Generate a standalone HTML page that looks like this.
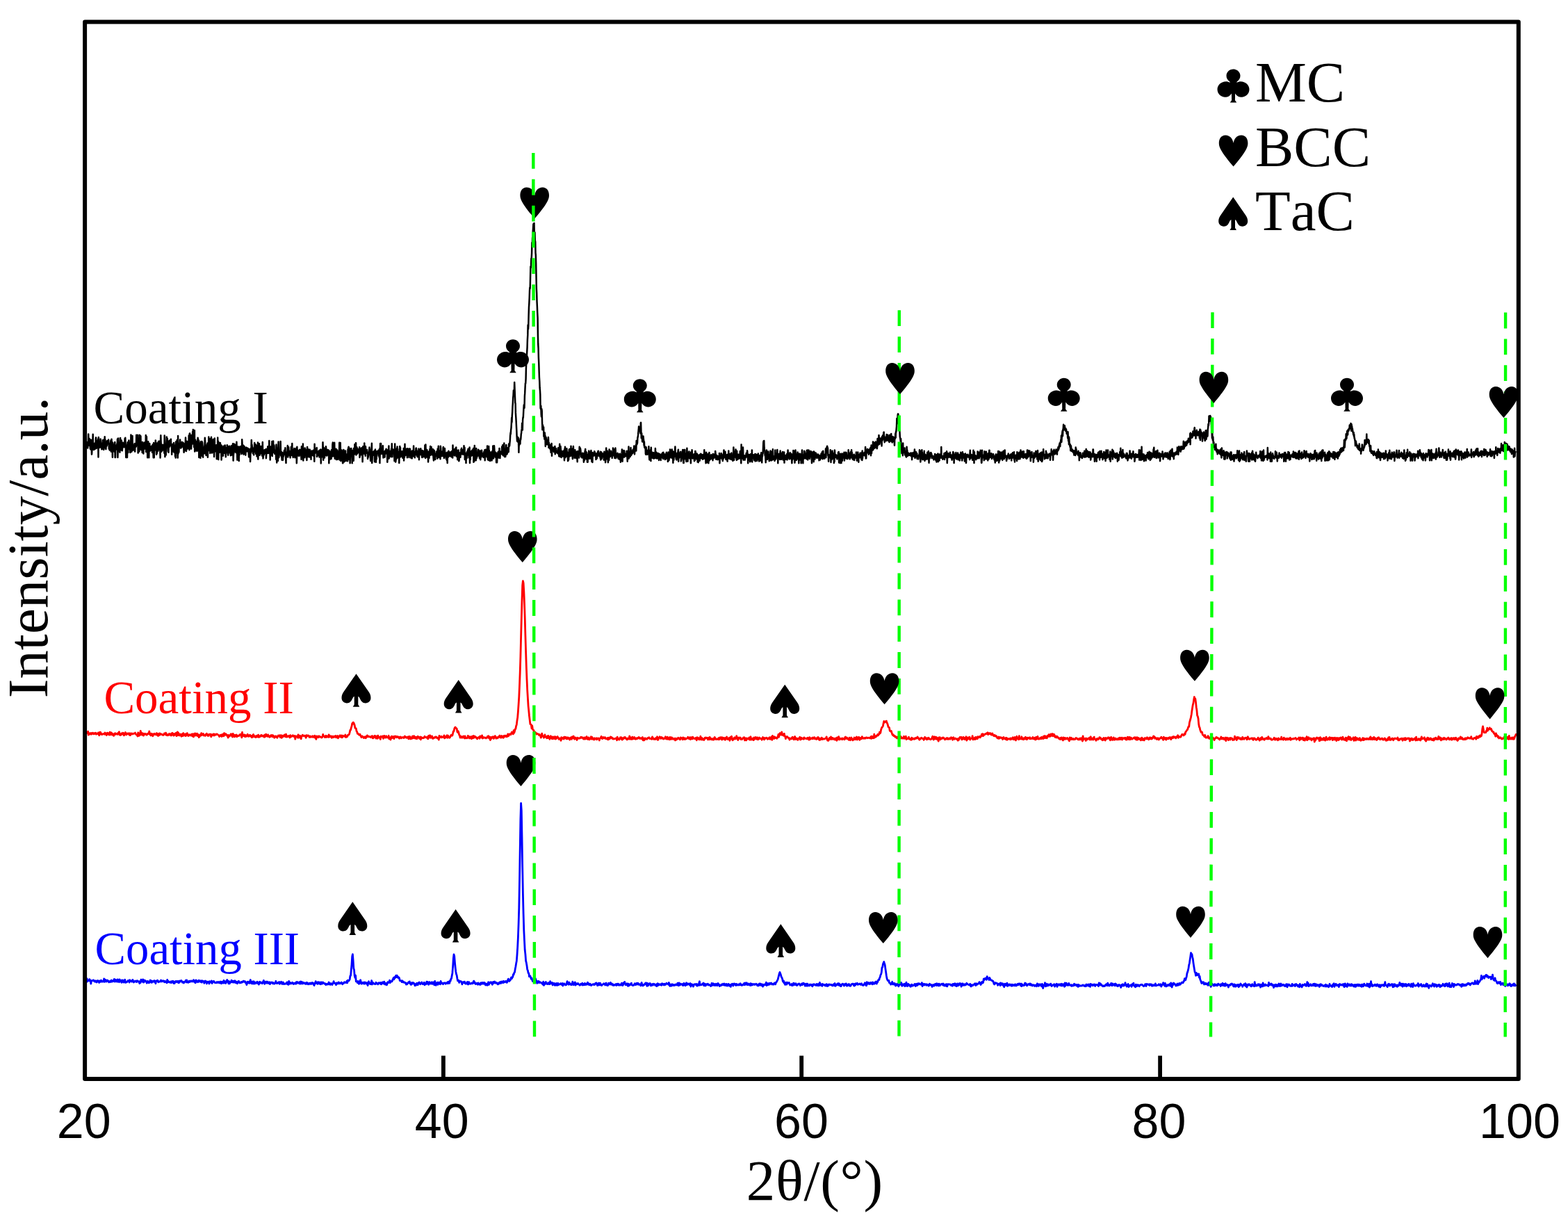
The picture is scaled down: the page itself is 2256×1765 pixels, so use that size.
<!DOCTYPE html>
<html><head><meta charset="utf-8"><title>XRD patterns</title>
<style>html,body{margin:0;padding:0;background:#fff;width:2256px;height:1765px;overflow:hidden}svg{display:block}</style>
</head><body>
<svg width="2256" height="1765" viewBox="0 0 2256 1765">
<rect width="2256" height="1765" fill="#fff"/>
<path d="M124.5 642.4L124.8 635.9L125.2 638.6L125.5 642.7L125.9 636.5L126.2 644.4L126.5 636.0L126.9 636.2L127.2 624.5L127.6 638.9L127.9 640.7L128.2 639.4L128.6 632.4L128.9 631.1L129.3 635.5L129.6 641.3L129.9 645.4L130.3 646.4L130.6 636.9L131.0 632.8L131.3 643.7L131.6 642.5L132.0 653.6L132.3 649.1L132.7 644.9L133.0 636.2L133.3 639.3L133.7 624.7L134.0 646.5L134.4 643.2L134.7 642.6L135.0 647.0L135.4 643.8L135.7 640.6L136.1 642.3L136.4 637.5L136.7 645.9L137.1 637.9L137.4 643.3L137.8 630.4L138.1 629.4L138.4 635.1L138.8 644.9L139.1 639.6L139.5 635.8L139.8 634.4L140.1 641.0L140.5 640.1L140.8 636.6L141.2 631.5L141.5 657.6L141.8 629.1L142.2 639.4L142.5 644.2L142.9 642.8L143.2 640.9L143.5 642.6L143.9 643.4L144.2 642.1L144.6 631.5L144.9 633.1L145.2 638.1L145.6 641.9L145.9 642.0L146.3 646.3L146.6 644.3L146.9 637.7L147.3 640.0L147.6 639.5L148.0 633.1L148.3 639.5L148.6 646.3L149.0 636.4L149.3 646.9L149.7 643.0L150.0 631.9L150.3 635.6L150.7 628.3L151.0 644.1L151.4 632.4L151.7 639.6L152.0 641.1L152.4 646.2L152.7 641.7L153.1 637.6L153.4 635.7L153.7 641.5L154.1 634.3L154.4 636.3L154.8 638.5L155.1 633.7L155.4 638.5L155.8 637.2L156.1 632.6L156.5 638.1L156.8 645.6L157.1 638.1L157.5 639.1L157.8 647.6L158.2 642.3L158.5 641.4L158.8 640.5L159.2 636.0L159.5 633.5L159.9 649.6L160.2 635.3L160.5 631.8L160.9 639.5L161.2 641.6L161.6 645.1L161.9 657.8L162.2 636.7L162.6 639.0L162.9 642.1L163.3 646.5L163.6 645.5L163.9 640.2L164.3 645.6L164.6 649.8L165.0 641.7L165.3 635.9L165.6 657.9L166.0 657.9L166.3 643.5L166.7 644.4L167.0 641.5L167.3 640.5L167.7 646.4L168.0 646.1L168.4 638.3L168.7 643.3L169.0 631.4L169.4 657.9L169.7 646.1L170.1 630.4L170.4 637.3L170.7 638.8L171.1 640.8L171.4 644.6L171.8 649.3L172.1 643.0L172.4 650.6L172.8 638.7L173.1 629.9L173.5 639.2L173.8 645.8L174.1 641.9L174.5 647.5L174.8 633.6L175.2 642.2L175.5 645.6L175.8 648.3L176.2 643.1L176.5 640.6L176.9 636.7L177.2 642.8L177.5 642.9L177.9 640.6L178.2 643.2L178.6 640.5L178.9 642.3L179.2 642.9L179.6 631.0L179.9 638.2L180.3 629.7L180.6 638.0L180.9 644.9L181.3 658.0L181.6 641.1L182.0 649.3L182.3 650.5L182.6 658.0L183.0 658.0L183.3 639.3L183.7 636.3L184.0 646.3L184.3 651.1L184.7 641.5L185.0 636.0L185.4 633.4L185.7 636.1L186.0 645.8L186.4 643.8L186.7 645.8L187.1 642.8L187.4 651.0L187.7 642.9L188.1 646.7L188.4 625.6L188.8 643.1L189.1 648.0L189.4 649.7L189.8 636.2L190.1 639.5L190.5 627.0L190.8 647.8L191.1 638.3L191.5 642.0L191.8 641.7L192.2 640.6L192.5 642.0L192.8 647.5L193.2 645.2L193.5 646.9L193.9 638.1L194.2 649.6L194.5 640.9L194.9 640.2L195.2 638.8L195.6 642.6L195.9 642.0L196.2 625.7L196.6 639.9L196.9 635.9L197.3 638.9L197.6 640.2L197.9 635.4L198.3 625.8L198.6 651.6L199.0 641.5L199.3 645.8L199.6 649.7L200.0 637.8L200.3 649.4L200.7 636.2L201.0 625.8L201.3 643.7L201.7 646.6L202.0 629.5L202.4 627.3L202.7 644.2L203.0 635.8L203.4 647.2L203.7 639.0L204.1 643.5L204.4 644.8L204.7 650.9L205.1 636.1L205.4 645.2L205.8 644.1L206.1 638.8L206.4 652.4L206.8 637.5L207.1 646.2L207.5 643.6L207.8 636.6L208.1 644.5L208.5 644.7L208.8 643.4L209.2 643.4L209.5 645.9L209.8 625.9L210.2 649.9L210.5 640.8L210.9 628.1L211.2 641.3L211.5 647.9L211.9 636.4L212.2 658.3L212.6 642.2L212.9 638.3L213.2 635.2L213.6 641.8L213.9 643.1L214.3 658.3L214.6 639.8L214.9 640.3L215.3 638.1L215.6 646.8L216.0 648.6L216.3 646.2L216.6 644.2L217.0 647.8L217.3 644.4L217.7 643.1L218.0 641.7L218.3 646.8L218.7 642.2L219.0 650.7L219.4 642.4L219.7 639.6L220.0 645.4L220.4 650.1L220.7 658.3L221.1 637.1L221.4 644.4L221.7 658.3L222.1 643.6L222.4 648.2L222.8 640.3L223.1 638.4L223.4 646.5L223.8 633.4L224.1 637.4L224.5 645.2L224.8 640.0L225.1 653.7L225.5 638.7L225.8 652.3L226.2 637.5L226.5 640.7L226.8 641.1L227.2 649.1L227.5 640.9L227.9 635.2L228.2 642.7L228.5 635.0L228.9 634.6L229.2 644.4L229.6 647.3L229.9 638.6L230.2 645.0L230.6 658.4L230.9 638.2L231.3 626.3L231.6 635.8L231.9 640.6L232.3 649.7L232.6 645.6L233.0 645.0L233.3 646.7L233.6 648.3L234.0 639.8L234.3 646.2L234.7 640.0L235.0 641.9L235.3 643.1L235.7 644.7L236.0 641.2L236.4 651.8L236.7 626.4L237.0 640.8L237.4 657.1L237.7 645.2L238.1 642.7L238.4 649.3L238.7 654.8L239.1 644.8L239.4 639.0L239.8 628.4L240.1 643.7L240.4 637.9L240.8 630.7L241.1 643.1L241.5 640.3L241.8 649.5L242.1 634.5L242.5 650.8L242.8 638.2L243.2 642.5L243.5 643.1L243.8 640.9L244.2 633.5L244.5 638.6L244.9 640.7L245.2 641.1L245.5 637.6L245.9 631.8L246.2 640.9L246.6 640.5L246.9 641.8L247.2 653.7L247.6 643.5L247.9 641.2L248.3 638.9L248.6 649.4L248.9 645.6L249.3 639.9L249.6 645.7L250.0 637.0L250.3 642.9L250.6 650.7L251.0 645.1L251.3 645.7L251.7 640.8L252.0 656.4L252.3 648.8L252.7 658.5L253.0 635.6L253.4 638.9L253.7 645.4L254.0 640.9L254.4 637.9L254.7 633.0L255.1 652.2L255.4 651.1L255.7 658.5L256.1 626.9L256.4 652.6L256.8 638.8L257.1 641.9L257.4 650.4L257.8 639.8L258.1 639.1L258.5 637.5L258.8 640.3L259.1 632.5L259.5 643.1L259.8 644.3L260.2 644.6L260.5 643.9L260.8 638.5L261.2 643.4L261.5 636.9L261.9 635.8L262.2 639.4L262.5 637.6L262.9 641.5L263.2 641.6L263.6 636.7L263.9 644.2L264.2 643.2L264.6 650.8L264.9 648.5L265.3 638.5L265.6 648.6L265.9 642.5L266.3 641.7L266.6 646.7L267.0 629.5L267.3 636.3L267.6 639.6L268.0 648.9L268.3 634.4L268.7 646.7L269.0 640.4L269.3 643.3L269.7 635.2L270.0 644.8L270.4 645.1L270.7 637.7L271.0 640.5L271.4 642.9L271.7 626.4L272.1 643.5L272.4 647.2L272.7 623.8L273.1 623.4L273.4 645.3L273.8 639.9L274.1 637.1L274.4 643.9L274.8 626.0L275.1 645.6L275.5 638.3L275.8 634.5L276.1 638.9L276.5 635.5L276.8 629.3L277.2 620.9L277.5 634.2L277.8 618.1L278.2 638.4L278.5 627.8L278.9 636.2L279.2 643.2L279.5 621.4L279.9 619.1L280.2 649.4L280.6 635.3L280.9 632.4L281.2 633.1L281.6 648.3L281.9 637.8L282.3 639.8L282.6 635.6L282.9 642.9L283.3 641.6L283.6 648.7L284.0 637.3L284.3 634.1L284.6 629.8L285.0 632.3L285.3 646.8L285.7 637.0L286.0 633.4L286.3 658.1L286.7 650.8L287.0 643.9L287.4 638.7L287.7 648.1L288.0 647.3L288.4 658.7L288.7 635.6L289.1 643.3L289.4 635.4L289.7 641.9L290.1 646.4L290.4 634.9L290.8 655.8L291.1 636.3L291.4 639.5L291.8 646.6L292.1 657.7L292.5 644.1L292.8 650.6L293.1 648.5L293.5 649.9L293.8 652.3L294.2 641.4L294.5 641.1L294.8 629.8L295.2 634.8L295.5 652.6L295.9 641.9L296.2 644.2L296.5 654.9L296.9 642.3L297.2 643.3L297.6 646.4L297.9 639.6L298.2 642.2L298.6 637.4L298.9 657.8L299.3 641.8L299.6 644.5L299.9 642.9L300.3 628.6L300.6 646.5L301.0 648.0L301.3 643.5L301.6 642.7L302.0 631.3L302.3 651.9L302.7 648.8L303.0 640.5L303.3 642.3L303.7 639.9L304.0 628.8L304.4 641.2L304.7 640.1L305.0 651.6L305.4 647.8L305.7 648.2L306.1 650.2L306.4 642.4L306.7 632.0L307.1 634.3L307.4 644.6L307.8 647.3L308.1 656.9L308.4 637.0L308.8 630.5L309.1 649.6L309.5 641.7L309.8 645.7L310.1 644.1L310.5 643.3L310.8 647.3L311.2 640.3L311.5 647.4L311.8 660.2L312.2 647.6L312.5 642.1L312.9 649.4L313.2 629.6L313.5 650.3L313.9 634.7L314.2 661.1L314.6 650.0L314.9 636.4L315.2 646.4L315.6 645.2L315.9 650.8L316.3 644.3L316.6 645.4L316.9 637.0L317.3 644.9L317.6 641.1L318.0 640.1L318.3 651.4L318.6 661.4L319.0 641.1L319.3 645.4L319.7 647.2L320.0 642.5L320.3 645.2L320.7 652.4L321.0 655.8L321.4 645.1L321.7 650.8L322.0 645.0L322.4 641.3L322.7 645.6L323.1 651.8L323.4 648.0L323.7 640.6L324.1 648.2L324.4 643.9L324.8 657.2L325.1 645.2L325.4 644.2L325.8 648.7L326.1 645.1L326.5 649.9L326.8 640.3L327.1 651.0L327.5 642.1L327.8 652.3L328.2 654.7L328.5 644.3L328.8 642.8L329.2 646.4L329.5 645.7L329.9 641.7L330.2 651.2L330.5 648.9L330.9 651.0L331.2 646.7L331.6 652.3L331.9 655.3L332.2 648.7L332.6 641.4L332.9 643.6L333.3 647.1L333.6 654.4L333.9 641.1L334.3 642.8L334.6 645.4L335.0 638.3L335.3 644.7L335.6 662.6L336.0 653.2L336.3 652.5L336.7 638.5L337.0 649.2L337.3 644.6L337.7 639.3L338.0 641.4L338.4 649.9L338.7 649.8L339.0 645.9L339.4 650.4L339.7 651.1L340.1 649.2L340.4 635.8L340.7 644.9L341.1 651.3L341.4 661.6L341.8 648.9L342.1 650.4L342.4 657.6L342.8 642.4L343.1 647.2L343.5 646.5L343.8 663.1L344.1 645.8L344.5 654.1L344.8 642.8L345.2 650.0L345.5 643.1L345.8 645.2L346.2 647.5L346.5 642.0L346.9 643.2L347.2 650.7L347.5 653.1L347.9 651.7L348.2 632.3L348.6 639.3L348.9 651.4L349.2 649.4L349.6 650.7L349.9 649.2L350.3 640.7L350.6 653.7L350.9 650.1L351.3 646.8L351.6 642.3L352.0 646.2L352.3 644.9L352.6 648.4L353.0 651.7L353.3 654.7L353.7 648.3L354.0 644.9L354.3 643.6L354.7 646.7L355.0 645.5L355.4 644.5L355.7 649.2L356.0 647.6L356.4 644.8L356.7 648.1L357.1 645.3L357.4 645.7L357.7 652.4L358.1 657.4L358.4 649.0L358.8 652.8L359.1 650.4L359.4 646.1L359.8 653.6L360.1 664.0L360.5 649.1L360.8 651.7L361.1 647.3L361.5 642.9L361.8 632.9L362.2 643.7L362.5 639.7L362.8 643.2L363.2 649.5L363.5 647.8L363.9 652.4L364.2 645.8L364.5 651.9L364.9 651.1L365.2 654.4L365.6 643.4L365.9 649.4L366.2 636.9L366.6 646.9L366.9 646.5L367.3 650.0L367.6 649.4L367.9 639.4L368.3 653.0L368.6 640.8L369.0 649.6L369.3 645.4L369.6 656.5L370.0 651.5L370.3 641.1L370.7 649.9L371.0 636.5L371.3 660.6L371.7 651.7L372.0 646.1L372.4 652.5L372.7 643.4L373.0 638.3L373.4 648.7L373.7 654.8L374.1 642.5L374.4 646.3L374.7 652.6L375.1 648.7L375.4 641.9L375.8 647.5L376.1 651.2L376.4 649.5L376.8 648.8L377.1 655.5L377.5 647.3L377.8 636.1L378.1 649.2L378.5 659.4L378.8 656.1L379.2 653.6L379.5 654.5L379.8 654.0L380.2 647.4L380.5 647.3L380.9 651.7L381.2 652.0L381.5 649.7L381.9 648.6L382.2 647.8L382.6 645.9L382.9 659.3L383.2 654.0L383.6 652.7L383.9 650.0L384.3 649.0L384.6 645.6L384.9 647.0L385.3 642.3L385.6 651.7L386.0 647.7L386.3 651.9L386.6 647.0L387.0 651.2L387.3 634.1L387.7 647.0L388.0 651.8L388.3 647.7L388.7 661.4L389.0 645.0L389.4 647.2L389.7 642.6L390.0 653.8L390.4 654.5L390.7 649.1L391.1 645.5L391.4 635.1L391.7 656.1L392.1 642.3L392.4 643.6L392.8 650.7L393.1 634.4L393.4 648.0L393.8 646.0L394.1 640.1L394.5 641.4L394.8 651.3L395.1 652.8L395.5 648.8L395.8 650.4L396.2 647.9L396.5 648.8L396.8 648.5L397.2 660.7L397.5 639.5L397.9 646.2L398.2 665.4L398.5 654.4L398.9 646.3L399.2 655.3L399.6 647.9L399.9 663.0L400.2 647.7L400.6 635.6L400.9 647.9L401.3 658.2L401.6 655.7L401.9 648.7L402.3 651.6L402.6 652.4L403.0 648.9L403.3 652.0L403.6 634.9L404.0 650.4L404.3 655.4L404.7 649.7L405.0 656.8L405.3 657.1L405.7 661.8L406.0 650.9L406.4 653.7L406.7 656.3L407.0 661.9L407.4 651.5L407.7 656.6L408.1 655.0L408.4 651.2L408.7 649.9L409.1 647.8L409.4 653.6L409.8 653.5L410.1 652.8L410.4 644.2L410.8 653.0L411.1 658.1L411.5 666.0L411.8 650.4L412.1 657.4L412.5 656.3L412.8 651.5L413.2 650.6L413.5 649.2L413.8 641.1L414.2 657.5L414.5 655.3L414.9 647.3L415.2 643.2L415.5 648.4L415.9 649.9L416.2 652.9L416.6 649.0L416.9 655.1L417.2 653.5L417.6 658.5L417.9 651.9L418.3 652.8L418.6 650.6L418.9 642.7L419.3 646.4L419.6 653.4L420.0 654.9L420.3 637.9L420.6 650.7L421.0 647.4L421.3 655.2L421.7 658.0L422.0 647.6L422.3 655.1L422.7 649.7L423.0 650.7L423.4 644.9L423.7 647.1L424.0 653.2L424.4 658.3L424.7 649.7L425.1 646.1L425.4 647.2L425.7 650.6L426.1 648.6L426.4 644.5L426.8 666.3L427.1 658.8L427.4 642.7L427.8 654.2L428.1 653.3L428.5 655.5L428.8 647.9L429.1 647.9L429.5 650.6L429.8 649.8L430.2 654.8L430.5 655.9L430.8 651.0L431.2 646.8L431.5 654.1L431.9 648.5L432.2 652.6L432.5 652.7L432.9 647.0L433.2 654.7L433.6 660.8L433.9 642.3L434.2 647.3L434.6 648.8L434.9 647.5L435.3 657.7L435.6 656.7L435.9 638.4L436.3 662.4L436.6 645.6L437.0 651.2L437.3 658.7L437.6 652.2L438.0 657.9L438.3 651.5L438.7 644.5L439.0 650.2L439.3 646.6L439.7 653.5L440.0 653.3L440.4 648.3L440.7 658.6L441.0 651.4L441.4 662.0L441.7 648.7L442.1 642.9L442.4 647.1L442.7 657.2L443.1 656.9L443.4 652.3L443.8 646.6L444.1 654.3L444.4 648.9L444.8 647.8L445.1 657.5L445.5 657.2L445.8 646.8L446.1 652.2L446.5 653.0L446.8 654.0L447.2 651.6L447.5 660.8L447.8 648.9L448.2 650.1L448.5 648.6L448.9 650.2L449.2 654.8L449.5 653.1L449.9 649.0L450.2 653.0L450.6 655.6L450.9 647.8L451.2 649.7L451.6 653.7L451.9 653.2L452.3 663.7L452.6 638.7L452.9 652.5L453.3 650.9L453.6 646.9L454.0 649.9L454.3 645.7L454.6 648.6L455.0 651.4L455.3 651.6L455.7 644.1L456.0 657.0L456.3 651.0L456.7 655.8L457.0 649.6L457.4 653.9L457.7 654.7L458.0 650.6L458.4 654.8L458.7 648.5L459.1 648.4L459.4 657.5L459.7 647.7L460.1 654.1L460.4 652.2L460.8 649.2L461.1 650.8L461.4 646.6L461.8 666.4L462.1 647.3L462.5 649.6L462.8 653.9L463.1 652.2L463.5 657.2L463.8 649.1L464.2 646.5L464.5 636.3L464.8 644.8L465.2 661.7L465.5 649.5L465.9 645.1L466.2 644.1L466.5 652.2L466.9 658.6L467.2 656.3L467.6 652.9L467.9 655.2L468.2 649.5L468.6 650.6L468.9 642.2L469.3 645.5L469.6 653.3L469.9 648.0L470.3 655.6L470.6 654.0L471.0 654.4L471.3 647.0L471.6 652.7L472.0 650.1L472.3 653.3L472.7 647.4L473.0 652.0L473.3 666.3L473.7 652.2L474.0 660.8L474.4 648.9L474.7 660.7L475.0 651.1L475.4 656.7L475.7 653.2L476.1 654.8L476.4 654.5L476.7 659.9L477.1 646.9L477.4 651.7L477.8 650.1L478.1 656.4L478.4 639.4L478.8 636.6L479.1 650.5L479.5 645.3L479.8 646.6L480.1 647.4L480.5 656.5L480.8 654.8L481.2 636.8L481.5 653.1L481.8 659.8L482.2 646.3L482.5 651.3L482.9 655.3L483.2 653.8L483.5 645.8L483.9 661.1L484.2 651.0L484.6 649.0L484.9 648.7L485.2 647.5L485.6 649.9L485.9 649.6L486.3 660.9L486.6 655.8L486.9 650.5L487.3 654.4L487.6 650.4L488.0 652.4L488.3 636.8L488.6 650.7L489.0 661.7L489.3 658.6L489.7 636.9L490.0 651.0L490.3 663.0L490.7 648.9L491.0 655.3L491.4 662.0L491.7 647.5L492.0 654.1L492.4 650.1L492.7 660.3L493.1 666.3L493.4 666.3L493.7 659.0L494.1 652.3L494.4 647.1L494.8 648.9L495.1 650.4L495.4 664.3L495.8 661.6L496.1 656.2L496.5 648.8L496.8 655.2L497.1 648.4L497.5 662.7L497.8 656.1L498.2 654.7L498.5 654.0L498.8 653.7L499.2 663.0L499.5 656.7L499.9 658.3L500.2 663.2L500.5 646.5L500.9 652.7L501.2 644.1L501.6 642.8L501.9 660.7L502.2 656.7L502.6 644.5L502.9 652.3L503.3 647.6L503.6 666.2L503.9 654.7L504.3 654.5L504.6 646.2L505.0 652.1L505.3 645.0L505.6 654.4L506.0 647.9L506.3 655.7L506.7 666.2L507.0 653.7L507.3 648.1L507.7 651.5L508.0 653.3L508.4 651.1L508.7 662.8L509.0 645.0L509.4 650.9L509.7 653.7L510.1 650.9L510.4 639.2L510.7 643.1L511.1 648.4L511.4 650.5L511.8 637.3L512.1 637.3L512.4 654.5L512.8 652.7L513.1 652.7L513.5 643.5L513.8 645.3L514.1 652.7L514.5 649.1L514.8 648.3L515.2 649.6L515.5 646.2L515.8 646.5L516.2 650.5L516.5 647.7L516.9 652.0L517.2 643.2L517.5 657.9L517.9 655.0L518.2 647.9L518.6 645.7L518.9 654.0L519.2 645.1L519.6 650.2L519.9 649.5L520.3 654.5L520.6 644.3L520.9 650.8L521.3 649.3L521.6 664.3L522.0 650.0L522.3 642.2L522.6 651.9L523.0 649.9L523.3 652.6L523.7 649.7L524.0 647.0L524.3 637.5L524.7 649.4L525.0 653.3L525.4 648.0L525.7 655.7L526.0 642.3L526.4 652.1L526.7 649.6L527.1 650.4L527.4 647.4L527.7 651.7L528.1 646.9L528.4 652.3L528.8 650.2L529.1 659.9L529.4 652.9L529.8 657.8L530.1 650.9L530.5 652.4L530.8 654.0L531.1 650.2L531.5 643.5L531.8 653.9L532.2 649.0L532.5 650.6L532.8 656.4L533.2 662.9L533.5 652.5L533.9 652.8L534.2 645.7L534.5 650.7L534.9 637.8L535.2 666.1L535.6 660.4L535.9 650.1L536.2 652.2L536.6 654.9L536.9 652.1L537.3 653.8L537.6 649.5L537.9 652.3L538.3 652.5L538.6 648.5L539.0 664.3L539.3 651.8L539.6 648.6L540.0 646.5L540.3 653.4L540.7 649.9L541.0 664.7L541.3 654.5L541.7 660.5L542.0 649.2L542.4 649.2L542.7 652.6L543.0 650.1L543.4 649.9L543.7 650.8L544.1 649.3L544.4 647.8L544.7 655.6L545.1 653.8L545.4 653.7L545.8 658.4L546.1 645.5L546.4 666.1L546.8 648.5L547.1 638.0L547.5 646.8L547.8 645.3L548.1 638.0L548.5 651.7L548.8 653.1L549.2 650.4L549.5 649.4L549.8 650.4L550.2 651.3L550.5 652.3L550.9 641.3L551.2 652.0L551.5 658.4L551.9 653.6L552.2 650.8L552.6 650.0L552.9 657.7L553.2 653.4L553.6 657.6L553.9 648.8L554.3 650.6L554.6 652.7L554.9 650.9L555.3 647.0L555.6 645.8L556.0 648.9L556.3 652.2L556.6 647.0L557.0 652.6L557.3 664.8L557.7 660.4L558.0 659.2L558.3 651.3L558.7 654.7L559.0 647.5L559.4 641.6L559.7 659.5L560.0 652.7L560.4 648.8L560.7 653.2L561.1 655.2L561.4 651.6L561.7 649.0L562.1 654.1L562.4 657.2L562.8 650.3L563.1 645.6L563.4 656.5L563.8 638.3L564.1 651.8L564.5 657.3L564.8 650.6L565.1 649.3L565.5 646.6L565.8 648.9L566.2 650.8L566.5 649.7L566.8 652.1L567.2 651.8L567.5 663.1L567.9 649.5L568.2 638.4L568.5 659.0L568.9 656.3L569.2 664.6L569.6 661.6L569.9 658.6L570.2 655.3L570.6 650.7L570.9 645.0L571.3 659.3L571.6 642.4L571.9 653.5L572.3 657.9L572.6 653.1L573.0 650.0L573.3 651.7L573.6 654.2L574.0 653.6L574.3 666.0L574.7 646.1L575.0 650.3L575.3 642.0L575.7 657.4L576.0 644.1L576.4 657.3L576.7 652.8L577.0 650.8L577.4 650.8L577.7 651.2L578.1 655.9L578.4 649.3L578.7 651.2L579.1 655.7L579.4 658.8L579.8 650.4L580.1 655.5L580.4 653.7L580.8 644.9L581.1 662.5L581.5 652.6L581.8 658.1L582.1 656.2L582.5 638.7L582.8 649.9L583.2 651.7L583.5 650.9L583.8 654.7L584.2 650.4L584.5 653.5L584.9 645.7L585.2 652.2L585.5 646.1L585.9 658.2L586.2 645.3L586.6 647.5L586.9 645.7L587.2 651.5L587.6 654.6L587.9 650.8L588.3 649.7L588.6 657.9L588.9 645.4L589.3 654.0L589.6 650.2L590.0 645.7L590.3 651.5L590.6 649.1L591.0 651.8L591.3 658.6L591.7 650.7L592.0 649.5L592.3 655.2L592.7 659.4L593.0 648.4L593.4 654.6L593.7 654.1L594.0 652.5L594.4 656.3L594.7 656.0L595.1 641.4L595.4 650.2L595.7 655.4L596.1 652.9L596.4 657.4L596.8 658.3L597.1 653.8L597.4 649.8L597.8 652.8L598.1 651.4L598.5 644.7L598.8 644.6L599.1 646.0L599.5 654.4L599.8 652.5L600.2 656.4L600.5 649.0L600.8 657.3L601.2 650.0L601.5 655.6L601.9 653.0L602.2 656.1L602.5 645.6L602.9 661.2L603.2 653.5L603.6 654.7L603.9 647.6L604.2 650.3L604.6 651.8L604.9 650.4L605.3 645.3L605.6 648.1L605.9 653.9L606.3 650.7L606.6 653.8L607.0 655.9L607.3 658.1L607.6 648.0L608.0 648.2L608.3 652.1L608.7 653.3L609.0 650.7L609.3 657.0L609.7 653.0L610.0 656.1L610.4 648.7L610.7 657.0L611.0 656.8L611.4 640.5L611.7 652.3L612.1 659.0L612.4 639.4L612.7 651.9L613.1 646.5L613.4 657.6L613.8 656.5L614.1 654.7L614.4 647.2L614.8 653.6L615.1 655.5L615.5 658.5L615.8 655.7L616.1 664.4L616.5 649.7L616.8 653.5L617.2 659.3L617.5 658.4L617.8 652.3L618.2 650.2L618.5 645.9L618.9 654.5L619.2 641.9L619.5 654.7L619.9 648.8L620.2 653.0L620.6 643.1L620.9 651.5L621.2 652.6L621.6 654.2L621.9 648.0L622.3 653.5L622.6 646.7L622.9 646.1L623.3 654.2L623.6 658.7L624.0 662.5L624.3 653.3L624.6 647.7L625.0 654.1L625.3 649.4L625.7 657.6L626.0 653.7L626.3 660.9L626.7 653.5L627.0 653.0L627.4 656.0L627.7 652.5L628.0 653.9L628.4 649.3L628.7 654.5L629.1 652.4L629.4 659.6L629.7 645.5L630.1 652.7L630.4 652.3L630.8 641.7L631.1 656.6L631.4 651.2L631.8 657.8L632.1 652.2L632.5 648.4L632.8 655.8L633.1 655.4L633.5 660.3L633.8 641.8L634.2 645.6L634.5 654.2L634.8 656.5L635.2 655.2L635.5 655.8L635.9 649.7L636.2 651.8L636.5 655.7L636.9 650.0L637.2 656.0L637.6 644.1L637.9 642.9L638.2 648.7L638.6 651.2L638.9 658.9L639.3 653.8L639.6 652.4L639.9 645.1L640.3 654.3L640.6 653.9L641.0 654.2L641.3 651.5L641.6 657.8L642.0 660.3L642.3 653.0L642.7 660.9L643.0 662.1L643.3 650.7L643.7 666.0L644.0 652.6L644.4 650.7L644.7 657.8L645.0 652.9L645.4 648.8L645.7 653.1L646.1 656.5L646.4 653.3L646.7 655.6L647.1 655.5L647.4 650.5L647.8 655.8L648.1 656.0L648.4 651.9L648.8 650.2L649.1 656.7L649.5 657.2L649.8 655.8L650.1 649.1L650.5 651.1L650.8 651.6L651.2 658.4L651.5 640.4L651.8 649.3L652.2 654.2L652.5 645.9L652.9 646.6L653.2 652.2L653.5 650.6L653.9 655.4L654.2 654.9L654.6 651.5L654.9 653.1L655.2 644.8L655.6 648.7L655.9 651.3L656.3 643.5L656.6 656.5L656.9 652.5L657.3 650.3L657.6 647.7L658.0 653.7L658.3 661.3L658.6 648.9L659.0 648.3L659.3 653.9L659.7 647.6L660.0 652.3L660.3 663.3L660.7 661.3L661.0 652.9L661.4 651.4L661.7 653.0L662.0 655.2L662.4 657.8L662.7 654.4L663.1 653.8L663.4 646.4L663.7 652.0L664.1 644.7L664.4 652.7L664.8 650.5L665.1 647.1L665.4 653.5L665.8 653.5L666.1 651.2L666.5 648.3L666.8 650.7L667.1 651.7L667.5 641.3L667.8 654.0L668.2 651.4L668.5 643.8L668.8 660.9L669.2 654.9L669.5 660.2L669.9 653.0L670.2 653.2L670.5 666.0L670.9 651.7L671.2 655.8L671.6 659.3L671.9 650.0L672.2 649.9L672.6 650.1L672.9 648.1L673.3 654.6L673.6 645.7L673.9 653.8L674.3 651.9L674.6 658.2L675.0 653.7L675.3 650.1L675.6 643.5L676.0 665.9L676.3 649.9L676.7 661.2L677.0 651.4L677.3 649.4L677.7 656.1L678.0 649.4L678.4 654.5L678.7 650.0L679.0 648.1L679.4 647.6L679.7 655.1L680.1 648.8L680.4 651.6L680.7 648.3L681.1 644.9L681.4 664.8L681.8 659.3L682.1 649.9L682.4 663.6L682.8 641.1L683.1 653.6L683.5 650.0L683.8 655.5L684.1 656.3L684.5 646.6L684.8 662.3L685.2 645.1L685.5 649.7L685.8 659.3L686.2 652.1L686.5 656.8L686.9 651.0L687.2 654.8L687.5 651.9L687.9 653.3L688.2 646.7L688.6 647.9L688.9 655.6L689.2 653.0L689.6 652.0L689.9 659.0L690.3 652.5L690.6 657.9L690.9 648.4L691.3 661.3L691.6 654.9L692.0 658.2L692.3 657.2L692.6 653.2L693.0 647.7L693.3 651.1L693.7 651.8L694.0 654.6L694.3 656.1L694.7 654.4L695.0 652.6L695.4 657.9L695.7 656.2L696.0 656.7L696.4 649.9L696.7 649.4L697.1 649.0L697.4 647.3L697.7 662.3L698.1 651.9L698.4 649.7L698.8 646.8L699.1 653.6L699.4 656.6L699.8 652.5L700.1 650.4L700.5 654.6L700.8 657.7L701.1 641.4L701.5 651.9L701.8 661.0L702.2 642.6L702.5 649.4L702.8 662.1L703.2 642.1L703.5 652.5L703.9 648.1L704.2 652.4L704.5 654.1L704.9 652.6L705.2 663.1L705.6 661.2L705.9 650.5L706.2 654.4L706.6 651.4L706.9 653.5L707.3 658.5L707.6 662.4L707.9 659.2L708.3 648.9L708.6 657.8L709.0 655.7L709.3 641.4L709.6 651.8L710.0 659.5L710.3 650.7L710.7 654.5L711.0 641.3L711.3 645.5L711.7 652.8L712.0 650.0L712.4 652.1L712.7 657.6L713.0 655.0L713.4 650.9L713.7 652.0L714.1 665.3L714.4 652.5L714.7 655.2L715.1 665.3L715.4 657.8L715.8 658.9L716.1 655.7L716.4 651.1L716.8 649.8L717.1 656.0L717.5 649.9L717.8 651.2L718.1 658.6L718.5 644.9L718.8 649.7L719.2 649.7L719.5 658.9L719.8 649.6L720.2 653.6L720.5 650.2L720.9 651.9L721.2 652.0L721.5 652.7L721.9 652.2L722.2 642.6L722.6 649.2L722.9 654.0L723.2 640.3L723.6 645.5L723.9 655.3L724.3 654.9L724.6 650.6L724.9 653.7L725.3 637.6L725.6 646.9L726.0 657.0L726.3 651.2L726.6 649.2L727.0 652.0L727.3 657.0L727.7 649.8L728.0 647.2L728.3 640.0L728.7 650.0L729.0 651.4L729.4 653.5L729.7 652.3L730.0 650.9L730.4 644.2L730.7 644.2L731.1 647.0L731.4 644.6L731.7 650.2L732.1 638.4L732.4 642.5L732.8 639.6L733.1 641.3L733.4 637.7L733.8 633.6L734.1 627.4L734.5 622.6L734.8 624.5L735.1 618.8L735.5 615.6L735.8 610.4L736.2 601.0L736.5 607.4L736.8 597.8L737.2 592.3L737.5 584.6L737.9 579.3L738.2 571.8L738.5 569.2L738.9 561.6L739.2 567.8L739.6 562.6L739.9 562.5L740.2 550.1L740.6 561.1L740.9 568.6L741.3 579.9L741.6 580.1L741.9 593.9L742.3 600.0L742.6 605.2L743.0 613.7L743.3 619.4L743.6 627.7L744.0 634.0L744.3 634.9L744.7 632.3L745.0 635.6L745.3 628.9L745.7 630.7L746.0 634.7L746.4 650.8L746.7 638.9L747.0 640.9L747.4 634.6L747.7 638.4L748.1 633.5L748.4 638.6L748.7 630.7L749.1 632.5L749.4 630.0L749.8 624.2L750.1 623.1L750.4 618.9L750.8 616.9L751.1 608.8L751.5 610.4L751.8 618.5L752.1 604.6L752.5 600.2L752.8 600.8L753.2 592.2L753.5 587.0L753.8 582.4L754.2 582.2L754.5 586.7L754.9 569.5L755.2 565.9L755.5 559.1L755.9 551.4L756.2 551.8L756.6 544.6L756.9 530.5L757.2 522.4L757.6 517.6L757.9 511.5L758.3 504.8L758.6 499.2L758.9 488.9L759.3 481.9L759.6 467.6L760.0 473.5L760.3 468.2L760.6 454.2L761.0 441.5L761.3 437.4L761.7 428.2L762.0 418.7L762.3 413.7L762.7 415.0L763.0 401.8L763.4 383.4L763.7 385.5L764.0 381.9L764.4 371.8L764.7 371.4L765.1 363.8L765.4 349.1L765.7 355.4L766.1 341.8L766.4 344.4L766.8 332.4L767.1 327.7L767.4 322.2L767.8 337.5L768.1 334.9L768.5 321.1L768.8 338.4L769.1 334.2L769.5 334.3L769.8 345.6L770.2 348.0L770.5 363.8L770.8 366.5L771.2 378.5L771.5 396.1L771.9 415.8L772.2 421.6L772.5 433.1L772.9 441.5L773.2 449.4L773.6 457.1L773.9 480.4L774.2 494.2L774.6 500.8L774.9 514.4L775.3 523.0L775.6 533.5L775.9 542.3L776.3 548.6L776.6 557.7L777.0 562.2L777.3 567.8L777.6 586.9L778.0 588.3L778.3 583.8L778.7 595.8L779.0 599.4L779.3 588.2L779.7 591.0L780.0 605.3L780.4 618.2L780.7 612.2L781.0 611.4L781.4 617.3L781.7 615.4L782.1 614.3L782.4 627.6L782.7 624.3L783.1 625.8L783.4 631.6L783.8 622.5L784.1 629.2L784.4 626.6L784.8 641.9L785.1 634.1L785.5 628.8L785.8 630.4L786.1 637.3L786.5 636.6L786.8 639.3L787.2 638.6L787.5 633.2L787.8 637.0L788.2 639.4L788.5 632.8L788.9 629.0L789.2 635.5L789.5 643.9L789.9 637.1L790.2 642.6L790.6 642.1L790.9 644.9L791.2 639.9L791.6 642.2L791.9 646.7L792.3 640.1L792.6 650.7L792.9 642.2L793.3 644.6L793.6 638.0L794.0 655.7L794.3 646.4L794.6 647.1L795.0 644.3L795.3 643.6L795.7 648.6L796.0 648.5L796.3 644.4L796.7 643.9L797.0 650.1L797.4 644.0L797.7 644.8L798.0 645.4L798.4 642.1L798.7 653.3L799.1 648.8L799.4 647.3L799.7 645.7L800.1 645.1L800.4 648.7L800.8 649.3L801.1 651.3L801.4 649.0L801.8 649.7L802.1 649.6L802.5 652.2L802.8 652.0L803.1 644.2L803.5 650.2L803.8 648.1L804.2 656.2L804.5 652.7L804.8 652.4L805.2 638.8L805.5 656.7L805.9 649.3L806.2 648.0L806.5 642.1L806.9 646.9L807.2 650.0L807.6 657.9L807.9 648.8L808.2 653.4L808.6 655.6L808.9 650.8L809.3 649.2L809.6 651.3L809.9 656.5L810.3 652.4L810.6 653.4L811.0 648.5L811.3 652.4L811.6 653.0L812.0 662.3L812.3 646.1L812.7 653.2L813.0 642.8L813.3 658.2L813.7 647.7L814.0 652.2L814.4 656.8L814.7 654.5L815.0 650.5L815.4 645.3L815.7 652.8L816.1 650.2L816.4 651.6L816.7 654.4L817.1 663.1L817.4 653.2L817.8 654.1L818.1 661.6L818.4 655.3L818.8 646.7L819.1 655.6L819.5 646.0L819.8 650.2L820.1 656.2L820.5 647.9L820.8 655.4L821.2 655.6L821.5 641.7L821.8 655.2L822.2 651.5L822.5 654.0L822.9 646.3L823.2 650.3L823.5 656.0L823.9 660.2L824.2 644.9L824.6 649.8L824.9 642.1L825.2 654.0L825.6 650.9L825.9 651.5L826.3 650.4L826.6 658.7L826.9 648.8L827.3 647.2L827.6 648.7L828.0 650.4L828.3 656.9L828.6 658.7L829.0 656.3L829.3 649.8L829.7 654.9L830.0 659.3L830.3 658.0L830.7 664.2L831.0 649.3L831.4 650.1L831.7 654.0L832.0 652.0L832.4 649.0L832.7 653.8L833.1 658.6L833.4 651.9L833.7 642.8L834.1 647.5L834.4 652.6L834.8 644.6L835.1 645.9L835.4 647.8L835.8 653.0L836.1 657.2L836.5 652.9L836.8 654.9L837.1 654.9L837.5 658.5L837.8 654.5L838.2 651.8L838.5 655.1L838.8 655.3L839.2 656.9L839.5 654.6L839.9 664.7L840.2 658.2L840.5 652.1L840.9 662.1L841.2 656.4L841.6 648.8L841.9 659.8L842.2 645.9L842.6 655.4L842.9 652.3L843.3 656.9L843.6 650.3L843.9 660.5L844.3 654.6L844.6 655.1L845.0 664.8L845.3 655.5L845.6 664.8L846.0 653.7L846.3 655.5L846.7 651.0L847.0 652.1L847.3 648.5L847.7 659.6L848.0 656.7L848.4 656.0L848.7 659.9L849.0 650.4L849.4 653.9L849.7 655.6L850.1 653.8L850.4 648.0L850.7 653.7L851.1 657.2L851.4 663.8L851.8 657.5L852.1 651.1L852.4 665.0L852.8 652.1L853.1 654.1L853.5 654.4L853.8 652.7L854.1 654.8L854.5 651.1L854.8 655.5L855.2 649.2L855.5 651.9L855.8 650.3L856.2 653.9L856.5 655.3L856.9 655.7L857.2 654.9L857.5 660.9L857.9 652.5L858.2 654.0L858.6 659.6L858.9 658.4L859.2 654.5L859.6 651.3L859.9 655.9L860.3 649.7L860.6 648.8L860.9 648.7L861.3 652.8L861.6 655.1L862.0 655.3L862.3 656.2L862.6 655.9L863.0 651.9L863.3 652.9L863.7 658.8L864.0 649.8L864.3 661.4L864.7 660.0L865.0 660.4L865.4 650.5L865.7 659.6L866.0 652.7L866.4 653.4L866.7 652.2L867.1 656.7L867.4 657.1L867.7 654.1L868.1 657.5L868.4 654.8L868.8 661.6L869.1 651.9L869.4 649.7L869.8 653.1L870.1 660.6L870.5 658.9L870.8 658.4L871.1 665.2L871.5 657.1L871.8 654.0L872.2 644.5L872.5 651.8L872.8 660.3L873.2 660.1L873.5 657.4L873.9 648.8L874.2 657.9L874.5 658.2L874.9 665.2L875.2 657.2L875.6 660.8L875.9 652.6L876.2 662.0L876.6 646.5L876.9 657.7L877.3 651.3L877.6 657.1L877.9 654.0L878.3 654.0L878.6 654.1L879.0 648.8L879.3 650.7L879.6 654.0L880.0 656.2L880.3 652.4L880.7 659.0L881.0 652.5L881.3 652.2L881.7 651.7L882.0 644.5L882.4 655.0L882.7 652.2L883.0 646.3L883.4 655.6L883.7 653.1L884.1 656.3L884.4 659.0L884.7 655.2L885.1 651.8L885.4 644.5L885.8 649.9L886.1 659.2L886.4 653.9L886.8 653.6L887.1 654.4L887.5 657.2L887.8 655.3L888.1 653.1L888.5 651.8L888.8 655.6L889.2 652.7L889.5 659.6L889.8 658.0L890.2 653.4L890.5 654.6L890.9 660.6L891.2 657.2L891.5 655.7L891.9 652.8L892.2 656.0L892.6 658.2L892.9 664.8L893.2 661.7L893.6 654.1L893.9 659.4L894.3 658.7L894.6 652.4L894.9 646.5L895.3 661.5L895.6 663.7L896.0 651.9L896.3 656.5L896.6 656.0L897.0 655.5L897.3 648.1L897.7 650.3L898.0 657.6L898.3 648.5L898.7 654.7L899.0 655.3L899.4 656.5L899.7 653.9L900.0 653.0L900.4 653.1L900.7 654.1L901.1 653.9L901.4 656.0L901.7 648.8L902.1 652.0L902.4 657.8L902.8 663.7L903.1 654.0L903.4 648.7L903.8 657.9L904.1 652.0L904.5 642.6L904.8 659.4L905.1 651.4L905.5 657.6L905.8 654.9L906.2 650.4L906.5 650.2L906.8 656.9L907.2 649.7L907.5 644.1L907.9 653.1L908.2 654.8L908.5 649.9L908.9 653.6L909.2 652.8L909.6 652.5L909.9 648.4L910.2 651.9L910.6 647.0L910.9 647.5L911.3 646.9L911.6 645.4L911.9 647.8L912.3 641.6L912.6 648.0L913.0 653.5L913.3 648.7L913.6 645.6L914.0 642.7L914.3 642.1L914.7 644.3L915.0 640.1L915.3 648.5L915.7 634.1L916.0 635.2L916.4 639.4L916.7 636.3L917.0 637.8L917.4 629.1L917.7 628.8L918.1 625.7L918.4 621.5L918.7 619.0L919.1 613.4L919.4 619.9L919.8 617.9L920.1 619.7L920.4 619.5L920.8 615.7L921.1 620.3L921.5 623.4L921.8 608.4L922.1 607.9L922.5 622.0L922.8 630.1L923.2 623.3L923.5 627.7L923.8 630.1L924.2 635.5L924.5 632.8L924.9 629.1L925.2 631.8L925.5 627.5L925.9 631.3L926.2 634.0L926.6 640.6L926.9 635.4L927.2 643.4L927.6 643.0L927.9 644.4L928.3 643.9L928.6 642.8L928.9 652.9L929.3 653.9L929.6 643.2L930.0 647.0L930.3 650.7L930.6 652.8L931.0 647.8L931.3 653.8L931.7 650.3L932.0 653.0L932.3 649.3L932.7 653.0L933.0 649.7L933.4 642.2L933.7 651.1L934.0 656.4L934.4 661.5L934.7 657.9L935.1 648.8L935.4 654.9L935.7 656.1L936.1 647.2L936.4 663.1L936.8 643.8L937.1 655.6L937.4 650.0L937.8 654.9L938.1 651.8L938.5 651.3L938.8 658.7L939.1 650.9L939.5 656.2L939.8 654.7L940.2 651.2L940.5 654.3L940.8 659.7L941.2 653.9L941.5 651.7L941.9 659.1L942.2 655.5L942.5 658.8L942.9 645.1L943.2 657.1L943.6 650.1L943.9 650.8L944.2 659.2L944.6 651.1L944.9 657.1L945.3 654.1L945.6 659.5L945.9 654.9L946.3 652.7L946.6 658.2L947.0 651.9L947.3 652.4L947.6 655.3L948.0 661.9L948.3 655.0L948.7 654.6L949.0 653.0L949.3 655.3L949.7 656.3L950.0 659.9L950.4 655.1L950.7 662.0L951.0 653.9L951.4 655.9L951.7 653.9L952.1 657.9L952.4 652.7L952.7 658.2L953.1 651.6L953.4 653.1L953.8 651.7L954.1 660.0L954.4 650.8L954.8 653.5L955.1 652.9L955.5 654.9L955.8 657.5L956.1 653.5L956.5 659.1L956.8 661.1L957.2 658.1L957.5 657.4L957.8 660.5L958.2 656.0L958.5 652.4L958.9 650.7L959.2 659.3L959.5 653.4L959.9 655.4L960.2 654.9L960.6 653.5L960.9 663.9L961.2 657.3L961.6 650.6L961.9 656.0L962.3 658.2L962.6 662.2L962.9 651.7L963.3 656.7L963.6 658.7L964.0 646.5L964.3 651.2L964.6 649.5L965.0 656.0L965.3 658.1L965.7 655.3L966.0 656.4L966.3 651.5L966.7 646.6L967.0 658.9L967.4 649.3L967.7 656.5L968.0 649.0L968.4 665.7L968.7 649.7L969.1 655.0L969.4 661.7L969.7 652.1L970.1 657.3L970.4 650.9L970.8 656.1L971.1 648.3L971.4 642.5L971.8 655.0L972.1 654.6L972.5 657.6L972.8 660.4L973.1 658.4L973.5 661.6L973.8 651.9L974.2 657.1L974.5 657.9L974.8 655.9L975.2 659.0L975.5 648.9L975.9 646.8L976.2 663.8L976.5 651.5L976.9 658.9L977.2 652.1L977.6 656.4L977.9 654.6L978.2 657.6L978.6 652.6L978.9 650.0L979.3 652.6L979.6 649.8L979.9 663.4L980.3 660.5L980.6 657.2L981.0 654.4L981.3 658.2L981.6 657.5L982.0 658.0L982.3 646.9L982.7 657.5L983.0 661.4L983.3 666.0L983.7 666.0L984.0 657.4L984.4 647.0L984.7 652.9L985.0 659.3L985.4 647.0L985.7 659.9L986.1 652.2L986.4 657.4L986.7 656.4L987.1 660.8L987.4 663.9L987.8 662.3L988.1 657.0L988.4 644.8L988.8 655.4L989.1 658.4L989.5 663.7L989.8 657.5L990.1 657.4L990.5 650.6L990.8 657.6L991.2 654.8L991.5 649.4L991.8 654.8L992.2 659.4L992.5 658.7L992.9 656.1L993.2 657.8L993.5 654.4L993.9 666.2L994.2 650.6L994.6 658.9L994.9 653.3L995.2 655.2L995.6 647.2L995.9 652.4L996.3 653.6L996.6 659.4L996.9 655.5L997.3 655.9L997.6 657.9L998.0 655.8L998.3 656.2L998.6 653.3L999.0 663.2L999.3 655.3L999.7 654.6L1000.0 661.9L1000.3 648.9L1000.7 649.4L1001.0 654.3L1001.4 657.6L1001.7 657.2L1002.0 660.2L1002.4 654.3L1002.7 652.6L1003.1 655.4L1003.4 653.6L1003.7 664.6L1004.1 660.8L1004.4 660.1L1004.8 665.2L1005.1 656.8L1005.4 654.7L1005.8 661.9L1006.1 655.7L1006.5 661.9L1006.8 662.7L1007.1 653.7L1007.5 656.2L1007.8 657.4L1008.2 652.8L1008.5 658.1L1008.8 653.2L1009.2 659.3L1009.5 655.7L1009.9 658.8L1010.2 657.1L1010.5 657.8L1010.9 660.7L1011.2 653.9L1011.6 660.5L1011.9 657.0L1012.2 654.2L1012.6 657.5L1012.9 659.7L1013.3 647.3L1013.6 657.1L1013.9 658.2L1014.3 657.6L1014.6 653.3L1015.0 655.6L1015.3 662.5L1015.6 666.3L1016.0 650.7L1016.3 651.0L1016.7 654.2L1017.0 655.4L1017.3 658.2L1017.7 665.3L1018.0 656.3L1018.4 654.2L1018.7 653.2L1019.0 656.3L1019.4 666.3L1019.7 656.3L1020.1 657.7L1020.4 650.9L1020.7 662.4L1021.1 657.4L1021.4 660.5L1021.8 659.9L1022.1 656.6L1022.4 660.4L1022.8 658.4L1023.1 654.3L1023.5 657.3L1023.8 659.0L1024.1 658.3L1024.5 659.8L1024.8 654.8L1025.2 654.7L1025.5 662.3L1025.8 652.9L1026.2 653.2L1026.5 655.5L1026.9 657.1L1027.2 659.0L1027.5 655.9L1027.9 653.4L1028.2 654.9L1028.6 655.7L1028.9 657.9L1029.2 648.9L1029.6 652.5L1029.9 656.8L1030.3 660.8L1030.6 655.5L1030.9 656.0L1031.3 655.0L1031.6 656.5L1032.0 657.1L1032.3 656.4L1032.6 661.3L1033.0 659.8L1033.3 659.8L1033.7 659.3L1034.0 655.9L1034.3 659.0L1034.7 660.6L1035.0 651.9L1035.4 666.3L1035.7 659.9L1036.0 658.1L1036.4 658.5L1036.7 655.2L1037.1 659.0L1037.4 658.8L1037.7 652.0L1038.1 655.5L1038.4 653.2L1038.8 655.2L1039.1 661.0L1039.4 659.9L1039.8 663.1L1040.1 654.7L1040.5 660.5L1040.8 658.2L1041.1 654.4L1041.5 647.4L1041.8 658.4L1042.2 654.1L1042.5 655.8L1042.8 656.2L1043.2 655.2L1043.5 649.7L1043.9 658.2L1044.2 658.8L1044.5 661.1L1044.9 657.3L1045.2 660.2L1045.6 655.9L1045.9 655.1L1046.2 653.9L1046.6 663.6L1046.9 655.1L1047.3 657.1L1047.6 657.8L1047.9 654.9L1048.3 648.6L1048.6 657.0L1049.0 657.7L1049.3 659.9L1049.6 658.1L1050.0 653.0L1050.3 653.1L1050.7 658.6L1051.0 660.6L1051.3 653.4L1051.7 658.9L1052.0 655.7L1052.4 651.5L1052.7 654.9L1053.0 661.1L1053.4 658.4L1053.7 660.8L1054.1 662.1L1054.4 662.9L1054.7 656.4L1055.1 655.2L1055.4 643.6L1055.8 655.8L1056.1 661.8L1056.4 649.3L1056.8 656.0L1057.1 657.6L1057.5 654.3L1057.8 656.8L1058.1 656.3L1058.5 646.4L1058.8 655.3L1059.2 659.1L1059.5 659.1L1059.8 661.9L1060.2 648.8L1060.5 655.6L1060.9 656.2L1061.2 660.0L1061.5 660.7L1061.9 655.5L1062.2 653.7L1062.6 655.3L1062.9 654.5L1063.2 655.9L1063.6 659.6L1063.9 654.1L1064.3 657.6L1064.6 651.8L1064.9 649.0L1065.3 654.8L1065.6 659.4L1066.0 656.0L1066.3 666.3L1066.6 639.6L1067.0 655.8L1067.3 654.9L1067.7 654.1L1068.0 658.6L1068.3 658.5L1068.7 659.7L1069.0 643.4L1069.4 657.2L1069.7 661.7L1070.0 658.6L1070.4 656.3L1070.7 657.2L1071.1 655.2L1071.4 661.4L1071.7 661.7L1072.1 656.3L1072.4 658.9L1072.8 657.8L1073.1 657.5L1073.4 654.2L1073.8 651.7L1074.1 655.7L1074.5 657.3L1074.8 657.1L1075.1 648.3L1075.5 651.9L1075.8 654.0L1076.2 666.3L1076.5 655.4L1076.8 657.8L1077.2 655.3L1077.5 654.0L1077.9 654.2L1078.2 657.2L1078.5 661.6L1078.9 660.0L1079.2 664.3L1079.6 658.7L1079.9 653.3L1080.2 661.3L1080.6 662.9L1080.9 659.2L1081.3 657.7L1081.6 656.7L1081.9 647.4L1082.3 664.4L1082.6 656.8L1083.0 657.7L1083.3 654.3L1083.6 658.8L1084.0 654.3L1084.3 658.4L1084.7 655.2L1085.0 657.7L1085.3 662.0L1085.7 658.0L1086.0 657.4L1086.4 652.9L1086.7 663.5L1087.0 658.5L1087.4 653.6L1087.7 658.9L1088.1 656.8L1088.4 653.9L1088.7 661.2L1089.1 663.0L1089.4 654.7L1089.8 656.2L1090.1 660.8L1090.4 658.1L1090.8 652.6L1091.1 658.3L1091.5 659.4L1091.8 654.9L1092.1 663.4L1092.5 661.7L1092.8 663.2L1093.2 658.2L1093.5 658.7L1093.8 658.8L1094.2 655.7L1094.5 654.0L1094.9 662.4L1095.2 651.3L1095.5 657.0L1095.9 663.1L1096.2 665.4L1096.6 653.7L1096.9 656.7L1097.2 651.2L1097.6 652.5L1097.9 646.6L1098.3 636.6L1098.6 634.5L1098.9 647.7L1099.3 634.0L1099.6 644.0L1100.0 647.5L1100.3 647.9L1100.6 654.9L1101.0 655.5L1101.3 657.2L1101.7 665.3L1102.0 652.5L1102.3 660.7L1102.7 658.5L1103.0 647.6L1103.4 657.3L1103.7 657.7L1104.0 661.0L1104.4 655.1L1104.7 656.0L1105.1 655.8L1105.4 649.5L1105.7 652.9L1106.1 655.8L1106.4 656.7L1106.8 663.2L1107.1 656.8L1107.4 655.7L1107.8 656.5L1108.1 656.0L1108.5 648.5L1108.8 656.4L1109.1 662.3L1109.5 650.8L1109.8 662.4L1110.2 655.9L1110.5 649.7L1110.8 655.1L1111.2 655.7L1111.5 661.5L1111.9 646.3L1112.2 660.9L1112.5 657.0L1112.9 660.3L1113.2 659.1L1113.6 656.6L1113.9 657.0L1114.2 656.4L1114.6 662.9L1114.9 659.8L1115.3 647.5L1115.6 653.7L1115.9 657.2L1116.3 660.4L1116.6 652.6L1117.0 655.8L1117.3 655.2L1117.6 656.8L1118.0 657.8L1118.3 647.1L1118.7 658.6L1119.0 655.5L1119.3 666.2L1119.7 654.7L1120.0 655.0L1120.4 657.4L1120.7 652.9L1121.0 654.6L1121.4 657.2L1121.7 656.2L1122.1 661.0L1122.4 651.5L1122.7 648.6L1123.1 655.9L1123.4 651.3L1123.8 658.1L1124.1 660.8L1124.4 657.6L1124.8 659.1L1125.1 659.6L1125.5 658.2L1125.8 653.9L1126.1 650.0L1126.5 656.1L1126.8 661.6L1127.2 656.1L1127.5 659.6L1127.8 657.4L1128.2 650.6L1128.5 665.6L1128.9 655.7L1129.2 657.3L1129.5 656.8L1129.9 659.5L1130.2 655.1L1130.6 656.0L1130.9 660.7L1131.2 655.6L1131.6 660.6L1131.9 656.5L1132.3 652.7L1132.6 661.5L1132.9 656.1L1133.3 656.8L1133.6 647.5L1134.0 656.9L1134.3 658.4L1134.6 652.6L1135.0 654.5L1135.3 658.4L1135.7 660.4L1136.0 657.5L1136.3 652.7L1136.7 651.1L1137.0 656.2L1137.4 659.5L1137.7 659.6L1138.0 652.5L1138.4 660.0L1138.7 653.1L1139.1 661.8L1139.4 666.2L1139.7 657.9L1140.1 661.7L1140.4 656.2L1140.8 655.8L1141.1 660.0L1141.4 648.1L1141.8 653.9L1142.1 656.4L1142.5 659.7L1142.8 648.9L1143.1 657.9L1143.5 665.8L1143.8 659.6L1144.2 661.3L1144.5 647.6L1144.8 653.3L1145.2 657.3L1145.5 653.3L1145.9 661.9L1146.2 657.3L1146.5 659.9L1146.9 657.5L1147.2 660.0L1147.6 650.4L1147.9 656.7L1148.2 660.0L1148.6 652.6L1148.9 657.1L1149.3 666.2L1149.6 653.9L1149.9 656.1L1150.3 652.8L1150.6 659.3L1151.0 661.6L1151.3 652.9L1151.6 657.5L1152.0 659.8L1152.3 655.5L1152.7 666.2L1153.0 655.5L1153.3 655.1L1153.7 654.5L1154.0 647.6L1154.4 658.8L1154.7 657.6L1155.0 658.3L1155.4 666.2L1155.7 654.7L1156.1 657.5L1156.4 656.2L1156.7 659.8L1157.1 648.7L1157.4 655.4L1157.8 649.8L1158.1 652.8L1158.4 655.7L1158.8 659.3L1159.1 652.5L1159.5 656.0L1159.8 655.9L1160.1 653.2L1160.5 660.2L1160.8 647.9L1161.2 656.0L1161.5 647.5L1161.8 658.6L1162.2 661.4L1162.5 654.5L1162.9 659.2L1163.2 656.0L1163.5 647.4L1163.9 656.5L1164.2 654.4L1164.6 656.6L1164.9 659.9L1165.2 649.2L1165.6 655.3L1165.9 653.6L1166.3 657.0L1166.6 649.1L1166.9 652.8L1167.3 656.6L1167.6 656.8L1168.0 666.1L1168.3 650.4L1168.6 657.8L1169.0 658.6L1169.3 657.6L1169.7 657.7L1170.0 651.5L1170.3 649.7L1170.7 664.2L1171.0 649.4L1171.4 655.3L1171.7 658.6L1172.0 650.8L1172.4 660.6L1172.7 653.2L1173.1 658.4L1173.4 656.3L1173.7 651.5L1174.1 652.5L1174.4 654.3L1174.8 653.6L1175.1 658.2L1175.4 658.9L1175.8 656.5L1176.1 658.6L1176.5 655.6L1176.8 653.6L1177.1 658.2L1177.5 658.1L1177.8 654.8L1178.2 657.9L1178.5 662.3L1178.8 655.0L1179.2 655.1L1179.5 661.7L1179.9 661.4L1180.2 660.5L1180.5 658.0L1180.9 656.7L1181.2 655.3L1181.6 652.5L1181.9 658.9L1182.2 657.2L1182.6 658.0L1182.9 650.0L1183.3 651.8L1183.6 660.3L1183.9 659.0L1184.3 648.8L1184.6 654.1L1185.0 658.9L1185.3 657.8L1185.6 655.4L1186.0 654.6L1186.3 659.7L1186.7 657.9L1187.0 657.9L1187.3 653.2L1187.7 657.2L1188.0 645.4L1188.4 658.1L1188.7 651.6L1189.0 650.0L1189.4 643.6L1189.7 645.9L1190.1 641.7L1190.4 645.2L1190.7 643.4L1191.1 645.8L1191.4 655.4L1191.8 654.1L1192.1 663.8L1192.4 656.1L1192.8 654.5L1193.1 656.9L1193.5 657.4L1193.8 658.2L1194.1 655.6L1194.5 657.4L1194.8 647.3L1195.2 658.0L1195.5 665.0L1195.8 654.3L1196.2 652.5L1196.5 661.2L1196.9 660.2L1197.2 652.8L1197.5 648.5L1197.9 653.0L1198.2 659.5L1198.6 656.6L1198.9 652.0L1199.2 655.4L1199.6 653.1L1199.9 666.0L1200.3 657.8L1200.6 664.1L1200.9 647.5L1201.3 653.2L1201.6 657.0L1202.0 657.6L1202.3 654.6L1202.6 654.0L1203.0 655.4L1203.3 656.7L1203.7 658.7L1204.0 658.4L1204.3 660.4L1204.7 655.3L1205.0 654.9L1205.4 656.7L1205.7 657.6L1206.0 650.7L1206.4 656.8L1206.7 650.1L1207.1 665.5L1207.4 655.2L1207.7 657.1L1208.1 659.6L1208.4 659.3L1208.8 666.0L1209.1 652.8L1209.4 656.9L1209.8 655.9L1210.1 655.4L1210.5 666.0L1210.8 656.6L1211.1 657.7L1211.5 652.5L1211.8 663.0L1212.2 656.1L1212.5 653.4L1212.8 657.6L1213.2 658.4L1213.5 653.1L1213.9 652.9L1214.2 653.1L1214.5 650.7L1214.9 662.4L1215.2 654.0L1215.6 657.8L1215.9 659.3L1216.2 656.1L1216.6 650.7L1216.9 652.6L1217.3 657.7L1217.6 651.1L1217.9 654.4L1218.3 659.9L1218.6 659.0L1219.0 657.9L1219.3 657.6L1219.6 660.0L1220.0 657.0L1220.3 658.4L1220.7 647.3L1221.0 657.6L1221.3 655.6L1221.7 655.0L1222.0 652.3L1222.4 657.0L1222.7 660.4L1223.0 656.9L1223.4 658.4L1223.7 650.7L1224.1 649.9L1224.4 658.2L1224.7 654.0L1225.1 647.2L1225.4 657.4L1225.8 650.8L1226.1 653.9L1226.4 659.9L1226.8 659.7L1227.1 655.0L1227.5 661.2L1227.8 654.8L1228.1 656.8L1228.5 654.5L1228.8 653.7L1229.2 661.9L1229.5 656.7L1229.8 659.2L1230.2 657.3L1230.5 657.7L1230.9 657.5L1231.2 655.3L1231.5 658.5L1231.9 650.5L1232.2 655.8L1232.6 654.2L1232.9 662.6L1233.2 651.7L1233.6 652.9L1233.9 659.5L1234.3 650.6L1234.6 654.5L1234.9 654.1L1235.3 664.7L1235.6 653.9L1236.0 657.1L1236.3 657.3L1236.6 658.3L1237.0 656.5L1237.3 653.2L1237.7 651.6L1238.0 652.9L1238.3 655.9L1238.7 658.7L1239.0 652.7L1239.4 661.0L1239.7 654.9L1240.0 650.7L1240.4 662.0L1240.7 648.4L1241.1 659.4L1241.4 651.6L1241.7 655.6L1242.1 653.6L1242.4 652.8L1242.8 651.8L1243.1 653.0L1243.4 651.3L1243.8 655.3L1244.1 650.5L1244.5 650.3L1244.8 650.6L1245.1 643.0L1245.5 652.4L1245.8 659.5L1246.2 659.4L1246.5 651.2L1246.8 651.9L1247.2 649.3L1247.5 649.4L1247.9 646.1L1248.2 651.2L1248.5 649.8L1248.9 647.0L1249.2 651.7L1249.6 647.3L1249.9 653.7L1250.2 650.2L1250.6 646.5L1250.9 647.4L1251.3 649.6L1251.6 652.1L1251.9 646.2L1252.3 644.3L1252.6 644.2L1253.0 655.2L1253.3 643.9L1253.6 640.5L1254.0 652.2L1254.3 646.8L1254.7 644.9L1255.0 643.7L1255.3 643.2L1255.7 647.6L1256.0 635.6L1256.4 646.8L1256.7 642.6L1257.0 636.2L1257.4 643.6L1257.7 636.9L1258.1 640.6L1258.4 644.7L1258.7 640.4L1259.1 642.6L1259.4 638.5L1259.8 635.4L1260.1 639.4L1260.4 643.8L1260.8 640.5L1261.1 640.3L1261.5 636.8L1261.8 645.2L1262.1 643.1L1262.5 631.1L1262.8 636.4L1263.2 633.4L1263.5 640.2L1263.8 637.8L1264.2 631.8L1264.5 626.1L1264.9 631.1L1265.2 635.9L1265.5 638.9L1265.9 635.8L1266.2 633.3L1266.6 634.5L1266.9 630.6L1267.2 634.9L1267.6 632.2L1267.9 634.6L1268.3 632.8L1268.6 641.4L1268.9 628.3L1269.3 634.1L1269.6 633.3L1270.0 626.3L1270.3 629.8L1270.6 631.5L1271.0 627.9L1271.3 622.3L1271.7 621.6L1272.0 628.4L1272.3 627.1L1272.7 636.2L1273.0 632.9L1273.4 629.4L1273.7 632.0L1274.0 631.7L1274.4 628.9L1274.7 631.9L1275.1 634.2L1275.4 630.3L1275.7 624.9L1276.1 632.9L1276.4 632.0L1276.8 632.5L1277.1 625.8L1277.4 631.9L1277.8 634.0L1278.1 633.9L1278.5 629.5L1278.8 633.3L1279.1 632.8L1279.5 636.1L1279.8 625.7L1280.2 631.7L1280.5 628.4L1280.8 630.9L1281.2 634.6L1281.5 632.2L1281.9 634.6L1282.2 623.9L1282.5 632.4L1282.9 628.1L1283.2 634.0L1283.6 636.4L1283.9 635.1L1284.2 633.8L1284.6 628.0L1284.9 633.9L1285.3 629.0L1285.6 632.6L1285.9 635.3L1286.3 629.7L1286.6 632.2L1287.0 640.6L1287.3 628.9L1287.6 631.7L1288.0 629.0L1288.3 623.6L1288.7 629.8L1289.0 620.7L1289.3 621.6L1289.7 616.6L1290.0 613.5L1290.4 601.9L1290.7 609.7L1291.0 601.7L1291.4 602.2L1291.7 596.5L1292.1 595.4L1292.4 595.7L1292.7 607.1L1293.1 604.0L1293.4 606.2L1293.8 613.3L1294.1 618.6L1294.4 619.1L1294.8 628.0L1295.1 629.9L1295.5 632.5L1295.8 636.2L1296.1 630.9L1296.5 638.6L1296.8 643.9L1297.2 644.6L1297.5 652.1L1297.8 643.0L1298.2 642.6L1298.5 645.6L1298.9 655.2L1299.2 637.5L1299.5 649.4L1299.9 650.9L1300.2 645.1L1300.6 650.9L1300.9 649.8L1301.2 648.0L1301.6 644.4L1301.9 653.3L1302.3 654.8L1302.6 649.1L1302.9 650.7L1303.3 651.2L1303.6 657.1L1304.0 657.4L1304.3 655.0L1304.6 642.8L1305.0 652.6L1305.3 647.5L1305.7 654.2L1306.0 656.0L1306.3 651.2L1306.7 651.4L1307.0 653.5L1307.4 654.7L1307.7 652.7L1308.0 654.1L1308.4 654.9L1308.7 653.5L1309.1 652.4L1309.4 654.5L1309.7 652.6L1310.1 655.4L1310.4 651.4L1310.8 652.4L1311.1 655.0L1311.4 656.5L1311.8 655.1L1312.1 661.2L1312.5 651.6L1312.8 654.1L1313.1 655.6L1313.5 656.4L1313.8 653.5L1314.2 654.2L1314.5 651.1L1314.8 655.3L1315.2 656.7L1315.5 652.0L1315.9 646.5L1316.2 653.9L1316.5 658.9L1316.9 654.5L1317.2 650.3L1317.6 657.3L1317.9 650.0L1318.2 651.7L1318.6 653.6L1318.9 653.3L1319.3 652.2L1319.6 659.9L1319.9 656.8L1320.3 655.3L1320.6 660.0L1321.0 658.3L1321.3 660.4L1321.6 656.1L1322.0 655.9L1322.3 654.3L1322.7 655.2L1323.0 647.3L1323.3 651.5L1323.7 651.3L1324.0 657.0L1324.4 664.4L1324.7 658.5L1325.0 648.7L1325.4 656.1L1325.7 659.4L1326.1 658.2L1326.4 647.3L1326.7 656.5L1327.1 651.0L1327.4 661.2L1327.8 655.4L1328.1 654.3L1328.4 656.2L1328.8 657.2L1329.1 658.8L1329.5 660.9L1329.8 648.8L1330.1 658.8L1330.5 662.9L1330.8 655.1L1331.2 653.6L1331.5 657.0L1331.8 656.2L1332.2 659.0L1332.5 660.8L1332.9 655.6L1333.2 654.5L1333.5 657.1L1333.9 659.8L1334.2 650.7L1334.6 658.8L1334.9 660.4L1335.2 660.5L1335.6 657.8L1335.9 649.1L1336.3 661.3L1336.6 665.7L1336.9 652.1L1337.3 651.8L1337.6 659.7L1338.0 655.0L1338.3 651.8L1338.6 655.0L1339.0 656.5L1339.3 650.9L1339.7 651.5L1340.0 655.2L1340.3 652.9L1340.7 659.1L1341.0 656.8L1341.4 656.6L1341.7 655.9L1342.0 655.8L1342.4 656.2L1342.7 659.5L1343.1 658.8L1343.4 661.4L1343.7 658.8L1344.1 659.3L1344.4 659.8L1344.8 656.2L1345.1 653.1L1345.4 657.9L1345.8 660.9L1346.1 658.5L1346.5 662.3L1346.8 654.0L1347.1 661.9L1347.5 664.6L1347.8 658.5L1348.2 656.3L1348.5 654.9L1348.8 655.9L1349.2 653.1L1349.5 652.5L1349.9 664.1L1350.2 654.4L1350.5 662.8L1350.9 654.5L1351.2 656.3L1351.6 662.4L1351.9 653.6L1352.2 659.2L1352.6 658.1L1352.9 655.9L1353.3 655.6L1353.6 656.7L1353.9 658.5L1354.3 643.1L1354.6 657.0L1355.0 655.4L1355.3 659.0L1355.6 656.0L1356.0 659.6L1356.3 660.8L1356.7 660.0L1357.0 656.1L1357.3 659.2L1357.7 656.0L1358.0 657.8L1358.4 652.3L1358.7 658.6L1359.0 661.0L1359.4 654.8L1359.7 656.0L1360.1 651.2L1360.4 654.3L1360.7 651.4L1361.1 656.5L1361.4 658.0L1361.8 655.0L1362.1 649.2L1362.4 656.5L1362.8 665.9L1363.1 655.6L1363.5 657.1L1363.8 654.4L1364.1 652.1L1364.5 658.1L1364.8 656.5L1365.2 655.4L1365.5 655.8L1365.8 654.5L1366.2 657.0L1366.5 654.2L1366.9 650.8L1367.2 657.9L1367.5 655.3L1367.9 654.7L1368.2 658.2L1368.6 654.6L1368.9 656.6L1369.2 657.5L1369.6 661.7L1369.9 654.9L1370.3 658.6L1370.6 657.0L1370.9 653.2L1371.3 650.1L1371.6 652.4L1372.0 659.8L1372.3 651.6L1372.6 665.9L1373.0 653.8L1373.3 657.2L1373.7 654.6L1374.0 658.8L1374.3 657.5L1374.7 656.4L1375.0 656.1L1375.4 651.1L1375.7 656.1L1376.0 660.4L1376.4 655.3L1376.7 657.3L1377.1 657.9L1377.4 654.8L1377.7 658.4L1378.1 651.6L1378.4 661.3L1378.8 657.7L1379.1 657.2L1379.4 653.8L1379.8 654.2L1380.1 657.0L1380.5 660.9L1380.8 662.4L1381.1 655.9L1381.5 659.1L1381.8 657.4L1382.2 650.8L1382.5 657.6L1382.8 651.5L1383.2 651.9L1383.5 658.0L1383.9 659.0L1384.2 662.6L1384.5 660.4L1384.9 650.3L1385.2 657.6L1385.6 658.2L1385.9 657.9L1386.2 657.1L1386.6 653.1L1386.9 657.6L1387.3 659.4L1387.6 655.5L1387.9 663.4L1388.3 657.7L1388.6 656.6L1389.0 652.6L1389.3 660.2L1389.6 654.1L1390.0 665.9L1390.3 660.5L1390.7 654.6L1391.0 656.0L1391.3 657.5L1391.7 655.2L1392.0 657.4L1392.4 653.7L1392.7 655.9L1393.0 656.3L1393.4 655.4L1393.7 657.7L1394.1 655.3L1394.4 656.5L1394.7 657.2L1395.1 661.2L1395.4 654.3L1395.8 647.8L1396.1 654.5L1396.4 659.4L1396.8 654.6L1397.1 655.8L1397.5 654.0L1397.8 655.1L1398.1 654.2L1398.5 658.5L1398.8 656.8L1399.2 661.8L1399.5 657.2L1399.8 659.6L1400.2 657.4L1400.5 647.8L1400.9 658.7L1401.2 656.9L1401.5 665.9L1401.9 650.3L1402.2 658.1L1402.6 655.4L1402.9 657.2L1403.2 658.4L1403.6 655.2L1403.9 657.7L1404.3 661.3L1404.6 656.2L1404.9 658.5L1405.3 657.5L1405.6 656.1L1406.0 657.5L1406.3 659.4L1406.6 649.4L1407.0 657.1L1407.3 655.4L1407.7 656.8L1408.0 651.2L1408.3 657.9L1408.7 659.3L1409.0 650.5L1409.4 655.7L1409.7 650.5L1410.0 652.9L1410.4 654.2L1410.7 647.7L1411.1 656.7L1411.4 657.4L1411.7 655.8L1412.1 665.8L1412.4 665.5L1412.8 659.6L1413.1 647.7L1413.4 658.7L1413.8 654.4L1414.1 657.4L1414.5 655.8L1414.8 658.0L1415.1 656.1L1415.5 654.5L1415.8 662.2L1416.2 656.7L1416.5 649.2L1416.8 655.5L1417.2 660.6L1417.5 658.4L1417.9 657.4L1418.2 653.3L1418.5 659.4L1418.9 649.8L1419.2 660.3L1419.6 655.8L1419.9 656.7L1420.2 657.1L1420.6 658.0L1420.9 657.4L1421.3 662.4L1421.6 652.3L1421.9 656.1L1422.3 655.5L1422.6 660.4L1423.0 652.2L1423.3 647.8L1423.6 647.7L1424.0 655.7L1424.3 652.1L1424.7 658.1L1425.0 652.9L1425.3 654.3L1425.7 654.2L1426.0 656.0L1426.4 652.2L1426.7 655.3L1427.0 660.0L1427.4 656.2L1427.7 655.4L1428.1 656.7L1428.4 655.6L1428.7 654.0L1429.1 653.1L1429.4 655.1L1429.8 659.1L1430.1 658.2L1430.4 661.1L1430.8 656.2L1431.1 657.4L1431.5 663.1L1431.8 665.6L1432.1 657.5L1432.5 655.3L1432.8 653.5L1433.2 660.6L1433.5 656.4L1433.8 655.4L1434.2 662.9L1434.5 653.8L1434.9 654.1L1435.2 662.0L1435.5 657.8L1435.9 658.7L1436.2 649.0L1436.6 659.6L1436.9 657.0L1437.2 665.5L1437.6 649.6L1437.9 657.3L1438.3 662.6L1438.6 659.2L1438.9 653.6L1439.3 650.8L1439.6 658.6L1440.0 659.9L1440.3 651.0L1440.6 654.3L1441.0 655.3L1441.3 657.8L1441.7 650.5L1442.0 655.2L1442.3 662.0L1442.7 654.7L1443.0 654.8L1443.4 658.9L1443.7 648.7L1444.0 654.7L1444.4 656.8L1444.7 660.2L1445.1 656.7L1445.4 658.0L1445.7 647.5L1446.1 656.9L1446.4 655.9L1446.8 656.9L1447.1 655.4L1447.4 657.4L1447.8 658.9L1448.1 663.1L1448.5 656.5L1448.8 658.1L1449.1 660.5L1449.5 656.2L1449.8 655.0L1450.2 657.1L1450.5 654.3L1450.8 652.5L1451.2 657.7L1451.5 657.4L1451.9 654.5L1452.2 659.9L1452.5 657.1L1452.9 657.0L1453.2 657.7L1453.6 655.5L1453.9 658.8L1454.2 653.7L1454.6 654.5L1454.9 652.9L1455.3 662.5L1455.6 655.2L1455.9 659.3L1456.3 656.3L1456.6 656.5L1457.0 651.2L1457.3 658.6L1457.6 655.1L1458.0 657.5L1458.3 654.3L1458.7 650.8L1459.0 650.2L1459.3 661.7L1459.7 655.5L1460.0 664.4L1460.4 655.6L1460.7 657.4L1461.0 656.9L1461.4 654.7L1461.7 659.6L1462.1 658.0L1462.4 655.2L1462.7 654.5L1463.1 662.9L1463.4 650.2L1463.8 656.1L1464.1 654.5L1464.4 655.2L1464.8 651.9L1465.1 656.6L1465.5 660.5L1465.8 655.2L1466.1 657.0L1466.5 650.7L1466.8 655.8L1467.2 653.5L1467.5 660.3L1467.8 652.5L1468.2 654.7L1468.5 647.4L1468.9 657.6L1469.2 657.4L1469.5 650.2L1469.9 657.6L1470.2 657.4L1470.6 655.7L1470.9 656.1L1471.2 649.6L1471.6 653.2L1471.9 655.5L1472.3 658.8L1472.6 656.6L1472.9 649.3L1473.3 658.2L1473.6 655.0L1474.0 657.6L1474.3 653.9L1474.6 655.4L1475.0 654.1L1475.3 656.7L1475.7 652.9L1476.0 658.3L1476.3 659.2L1476.7 658.2L1477.0 659.8L1477.4 658.4L1477.7 659.0L1478.0 647.5L1478.4 657.3L1478.7 654.4L1479.1 654.8L1479.4 648.1L1479.7 657.2L1480.1 651.3L1480.4 649.8L1480.8 650.2L1481.1 652.2L1481.4 648.5L1481.8 655.3L1482.1 652.8L1482.5 655.7L1482.8 663.1L1483.1 651.2L1483.5 654.2L1483.8 650.9L1484.2 657.9L1484.5 650.1L1484.8 656.2L1485.2 655.1L1485.5 655.7L1485.9 655.3L1486.2 657.3L1486.5 654.9L1486.9 664.7L1487.2 658.5L1487.6 651.5L1487.9 655.1L1488.2 658.8L1488.6 658.1L1488.9 657.5L1489.3 654.4L1489.6 657.3L1489.9 655.2L1490.3 648.9L1490.6 649.2L1491.0 655.0L1491.3 653.0L1491.6 656.3L1492.0 651.1L1492.3 660.4L1492.7 658.5L1493.0 648.1L1493.3 656.3L1493.7 663.7L1494.0 658.6L1494.4 654.9L1494.7 660.5L1495.0 657.7L1495.4 655.1L1495.7 652.7L1496.1 652.3L1496.4 656.0L1496.7 658.5L1497.1 662.3L1497.4 651.3L1497.8 659.2L1498.1 658.5L1498.4 660.9L1498.8 650.5L1499.1 664.0L1499.5 651.3L1499.8 662.5L1500.1 655.9L1500.5 651.4L1500.8 654.8L1501.2 646.3L1501.5 653.4L1501.8 653.2L1502.2 655.7L1502.5 653.7L1502.9 660.3L1503.2 656.2L1503.5 653.9L1503.9 656.9L1504.2 656.2L1504.6 659.1L1504.9 648.7L1505.2 652.0L1505.6 651.8L1505.9 651.5L1506.3 659.1L1506.6 657.4L1506.9 655.8L1507.3 654.5L1507.6 659.3L1508.0 654.4L1508.3 653.6L1508.6 654.7L1509.0 655.7L1509.3 655.7L1509.7 653.1L1510.0 656.3L1510.3 652.6L1510.7 654.1L1511.0 661.8L1511.4 656.0L1511.7 654.5L1512.0 653.1L1512.4 653.7L1512.7 646.3L1513.1 654.2L1513.4 651.9L1513.7 652.8L1514.1 649.5L1514.4 654.8L1514.8 652.4L1515.1 661.7L1515.4 653.8L1515.8 648.1L1516.1 652.2L1516.5 646.8L1516.8 650.4L1517.1 651.1L1517.5 648.5L1517.8 653.4L1518.2 652.3L1518.5 650.5L1518.8 650.5L1519.2 649.8L1519.5 646.6L1519.9 649.0L1520.2 647.3L1520.5 652.5L1520.9 653.6L1521.2 646.7L1521.6 648.9L1521.9 648.5L1522.2 644.9L1522.6 643.0L1522.9 647.3L1523.3 645.0L1523.6 645.3L1523.9 640.2L1524.3 642.4L1524.6 637.4L1525.0 637.6L1525.3 642.2L1525.6 636.1L1526.0 635.8L1526.3 632.8L1526.7 634.1L1527.0 626.5L1527.3 636.0L1527.7 629.6L1528.0 625.3L1528.4 622.0L1528.7 619.7L1529.0 627.2L1529.4 617.6L1529.7 618.0L1530.1 610.7L1530.4 617.3L1530.7 618.5L1531.1 616.8L1531.4 617.2L1531.8 612.2L1532.1 614.5L1532.4 617.9L1532.8 617.5L1533.1 619.8L1533.5 616.6L1533.8 619.1L1534.1 617.8L1534.5 622.2L1534.8 624.0L1535.2 621.4L1535.5 623.1L1535.8 622.7L1536.2 630.1L1536.5 621.2L1536.9 630.7L1537.2 634.4L1537.5 627.9L1537.9 639.2L1538.2 629.3L1538.6 637.2L1538.9 637.8L1539.2 640.1L1539.6 643.1L1539.9 639.4L1540.3 648.3L1540.6 644.0L1540.9 641.2L1541.3 644.3L1541.6 647.0L1542.0 649.0L1542.3 648.7L1542.6 648.4L1543.0 646.7L1543.3 649.5L1543.7 648.9L1544.0 650.7L1544.3 651.3L1544.7 650.0L1545.0 648.3L1545.4 654.6L1545.7 648.6L1546.0 652.0L1546.4 650.3L1546.7 649.3L1547.1 648.4L1547.4 654.9L1547.7 643.6L1548.1 652.3L1548.4 645.9L1548.8 652.2L1549.1 652.7L1549.4 652.1L1549.8 652.4L1550.1 653.0L1550.5 652.9L1550.8 650.2L1551.1 654.9L1551.5 648.8L1551.8 651.8L1552.2 655.2L1552.5 652.8L1552.8 662.3L1553.2 654.7L1553.5 652.1L1553.9 651.3L1554.2 652.4L1554.5 651.4L1554.9 653.8L1555.2 657.7L1555.6 656.0L1555.9 657.9L1556.2 657.8L1556.6 657.9L1556.9 659.1L1557.3 658.2L1557.6 654.8L1557.9 651.7L1558.3 656.0L1558.6 652.5L1559.0 654.3L1559.3 651.6L1559.6 656.7L1560.0 657.4L1560.3 648.8L1560.7 651.8L1561.0 657.6L1561.3 657.4L1561.7 656.2L1562.0 655.4L1562.4 651.1L1562.7 646.1L1563.0 657.0L1563.4 654.2L1563.7 648.1L1564.1 656.4L1564.4 652.3L1564.7 649.0L1565.1 652.2L1565.4 655.7L1565.8 653.4L1566.1 657.4L1566.4 652.2L1566.8 657.8L1567.1 650.1L1567.5 653.5L1567.8 654.6L1568.1 655.6L1568.5 656.5L1568.8 650.6L1569.2 661.6L1569.5 660.0L1569.8 654.1L1570.2 652.9L1570.5 653.4L1570.9 652.8L1571.2 654.2L1571.5 654.4L1571.9 657.3L1572.2 655.5L1572.6 646.4L1572.9 646.5L1573.2 656.7L1573.6 653.3L1573.9 652.7L1574.3 654.4L1574.6 655.4L1574.9 663.7L1575.3 654.6L1575.6 653.4L1576.0 656.4L1576.3 657.7L1576.6 655.9L1577.0 655.8L1577.3 656.3L1577.7 663.7L1578.0 654.1L1578.3 656.6L1578.7 653.9L1579.0 658.2L1579.4 657.4L1579.7 656.0L1580.0 651.1L1580.4 657.3L1580.7 657.1L1581.1 651.3L1581.4 650.1L1581.7 656.6L1582.1 661.4L1582.4 648.9L1582.8 657.5L1583.1 656.1L1583.4 653.8L1583.8 658.1L1584.1 653.1L1584.5 648.8L1584.8 657.0L1585.1 652.9L1585.5 655.2L1585.8 653.0L1586.2 655.7L1586.5 661.2L1586.8 653.9L1587.2 652.6L1587.5 658.4L1587.9 656.1L1588.2 649.9L1588.5 655.6L1588.9 651.8L1589.2 659.5L1589.6 657.3L1589.9 654.5L1590.2 650.7L1590.6 663.0L1590.9 651.6L1591.3 658.2L1591.6 647.4L1591.9 657.7L1592.3 655.1L1592.6 658.9L1593.0 651.4L1593.3 651.5L1593.6 654.9L1594.0 647.6L1594.3 657.4L1594.7 654.0L1595.0 655.8L1595.3 655.6L1595.7 655.5L1596.0 655.3L1596.4 661.0L1596.7 658.3L1597.0 656.3L1597.4 649.4L1597.7 663.7L1598.1 654.7L1598.4 652.9L1598.7 656.7L1599.1 651.7L1599.4 655.0L1599.8 650.7L1600.1 655.3L1600.4 646.7L1600.8 660.5L1601.1 653.2L1601.5 649.1L1601.8 648.6L1602.1 656.4L1602.5 650.9L1602.8 655.5L1603.2 652.8L1603.5 655.7L1603.8 658.0L1604.2 656.1L1604.5 654.7L1604.9 655.3L1605.2 659.1L1605.5 652.3L1605.9 655.8L1606.2 656.0L1606.6 656.1L1606.9 652.4L1607.2 651.9L1607.6 654.5L1607.9 663.7L1608.3 655.1L1608.6 654.9L1608.9 658.2L1609.3 654.2L1609.6 661.8L1610.0 655.9L1610.3 657.2L1610.6 654.9L1611.0 652.9L1611.3 650.0L1611.7 651.0L1612.0 653.5L1612.3 644.7L1612.7 654.2L1613.0 656.7L1613.4 649.6L1613.7 653.6L1614.0 656.4L1614.4 658.7L1614.7 655.5L1615.1 657.5L1615.4 646.9L1615.7 656.7L1616.1 657.7L1616.4 657.6L1616.8 652.6L1617.1 653.7L1617.4 654.3L1617.8 654.3L1618.1 655.3L1618.5 654.8L1618.8 657.0L1619.1 656.0L1619.5 654.7L1619.8 657.2L1620.2 659.4L1620.5 653.1L1620.8 651.9L1621.2 652.1L1621.5 651.8L1621.9 654.0L1622.2 657.0L1622.5 662.4L1622.9 660.2L1623.2 658.4L1623.6 656.3L1623.9 657.0L1624.2 656.4L1624.6 654.6L1624.9 658.5L1625.3 658.2L1625.6 648.4L1625.9 655.2L1626.3 657.4L1626.6 655.4L1627.0 658.7L1627.3 654.8L1627.6 656.1L1628.0 659.8L1628.3 652.5L1628.7 654.4L1629.0 652.8L1629.3 653.7L1629.7 654.6L1630.0 657.2L1630.4 649.3L1630.7 653.2L1631.0 657.2L1631.4 654.4L1631.7 656.3L1632.1 654.5L1632.4 663.8L1632.7 662.0L1633.1 654.0L1633.4 655.7L1633.8 653.0L1634.1 656.6L1634.4 654.5L1634.8 658.0L1635.1 653.8L1635.5 655.6L1635.8 657.1L1636.1 656.1L1636.5 654.8L1636.8 657.8L1637.2 654.1L1637.5 656.0L1637.8 656.4L1638.2 655.2L1638.5 654.0L1638.9 647.2L1639.2 661.6L1639.5 652.9L1639.9 654.6L1640.2 658.3L1640.6 654.2L1640.9 656.1L1641.2 647.5L1641.6 661.9L1641.9 656.7L1642.3 655.7L1642.6 642.7L1642.9 658.6L1643.3 654.6L1643.6 660.9L1644.0 656.3L1644.3 653.3L1644.6 656.0L1645.0 654.6L1645.3 653.7L1645.7 653.5L1646.0 663.2L1646.3 656.6L1646.7 656.6L1647.0 655.4L1647.4 656.7L1647.7 658.4L1648.0 655.8L1648.4 655.1L1648.7 662.6L1649.1 659.5L1649.4 655.4L1649.7 655.5L1650.1 654.1L1650.4 658.0L1650.8 655.5L1651.1 651.1L1651.4 651.4L1651.8 655.8L1652.1 654.8L1652.5 660.3L1652.8 655.0L1653.1 653.3L1653.5 649.8L1653.8 656.7L1654.2 657.7L1654.5 652.3L1654.8 662.0L1655.2 657.9L1655.5 651.0L1655.9 660.7L1656.2 654.3L1656.5 657.6L1656.9 652.1L1657.2 656.6L1657.6 658.4L1657.9 654.6L1658.2 652.8L1658.6 654.5L1658.9 652.8L1659.3 652.6L1659.6 646.2L1659.9 656.8L1660.3 643.7L1660.6 657.7L1661.0 656.5L1661.3 657.6L1661.6 654.3L1662.0 649.9L1662.3 654.2L1662.7 653.9L1663.0 656.1L1663.3 648.9L1663.7 659.0L1664.0 650.4L1664.4 651.2L1664.7 653.9L1665.0 654.6L1665.4 647.8L1665.7 656.2L1666.1 653.3L1666.4 658.4L1666.7 655.5L1667.1 652.0L1667.4 654.1L1667.8 656.8L1668.1 657.2L1668.4 651.7L1668.8 656.5L1669.1 663.2L1669.5 655.0L1669.8 653.2L1670.1 655.1L1670.5 656.8L1670.8 656.5L1671.2 656.3L1671.5 655.0L1671.8 652.5L1672.2 654.9L1672.5 649.5L1672.9 653.4L1673.2 656.5L1673.5 660.4L1673.9 653.6L1674.2 658.1L1674.6 654.0L1674.9 656.4L1675.2 655.7L1675.6 654.3L1675.9 651.7L1676.3 654.9L1676.6 657.2L1676.9 655.2L1677.3 651.4L1677.6 656.1L1678.0 653.7L1678.3 653.6L1678.6 657.7L1679.0 657.2L1679.3 655.2L1679.7 651.4L1680.0 656.0L1680.3 653.8L1680.7 659.9L1681.0 659.2L1681.4 653.6L1681.7 658.0L1682.0 654.9L1682.4 656.1L1682.7 650.1L1683.1 650.6L1683.4 661.1L1683.7 659.1L1684.1 648.2L1684.4 647.7L1684.8 650.2L1685.1 656.1L1685.4 650.7L1685.8 649.6L1686.1 649.6L1686.5 645.7L1686.8 651.9L1687.1 653.2L1687.5 657.1L1687.8 652.0L1688.2 654.7L1688.5 655.5L1688.8 660.2L1689.2 651.6L1689.5 655.8L1689.9 652.7L1690.2 654.3L1690.5 653.9L1690.9 654.0L1691.2 653.5L1691.6 650.7L1691.9 653.9L1692.2 651.5L1692.6 649.8L1692.9 649.7L1693.3 653.0L1693.6 652.5L1693.9 643.6L1694.3 643.7L1694.6 652.5L1695.0 649.2L1695.3 654.0L1695.6 650.4L1696.0 648.9L1696.3 642.2L1696.7 647.3L1697.0 645.9L1697.3 648.3L1697.7 645.6L1698.0 644.0L1698.4 643.5L1698.7 649.7L1699.0 643.3L1699.4 642.1L1699.7 647.1L1700.1 644.6L1700.4 645.7L1700.7 645.4L1701.1 642.5L1701.4 645.9L1701.8 643.8L1702.1 642.4L1702.4 643.2L1702.8 634.8L1703.1 645.8L1703.5 641.2L1703.8 644.7L1704.1 638.1L1704.5 639.7L1704.8 636.6L1705.2 642.1L1705.5 635.8L1705.8 641.2L1706.2 636.1L1706.5 637.3L1706.9 637.8L1707.2 640.5L1707.5 637.7L1707.9 634.6L1708.2 635.4L1708.6 637.6L1708.9 634.6L1709.2 633.4L1709.6 634.5L1709.9 630.7L1710.3 635.8L1710.6 633.9L1710.9 634.5L1711.3 632.1L1711.6 630.8L1712.0 632.2L1712.3 623.6L1712.6 639.2L1713.0 622.8L1713.3 627.4L1713.7 624.8L1714.0 629.1L1714.3 629.5L1714.7 629.8L1715.0 624.2L1715.4 628.2L1715.7 628.7L1716.0 626.7L1716.4 620.6L1716.7 622.3L1717.1 621.1L1717.4 624.5L1717.7 624.8L1718.1 626.5L1718.4 616.8L1718.8 615.1L1719.1 624.8L1719.4 623.2L1719.8 623.2L1720.1 621.9L1720.5 630.6L1720.8 622.6L1721.1 621.2L1721.5 619.7L1721.8 618.7L1722.2 623.5L1722.5 625.7L1722.8 625.1L1723.2 626.4L1723.5 623.1L1723.9 626.0L1724.2 625.2L1724.5 620.9L1724.9 623.5L1725.2 625.2L1725.6 626.6L1725.9 630.3L1726.2 619.0L1726.6 617.6L1726.9 633.1L1727.3 618.4L1727.6 622.1L1727.9 624.0L1728.3 623.9L1728.6 621.7L1729.0 626.0L1729.3 622.6L1729.6 627.8L1730.0 634.6L1730.3 630.1L1730.7 625.0L1731.0 623.6L1731.3 624.2L1731.7 629.6L1732.0 621.5L1732.4 628.6L1732.7 625.5L1733.0 631.0L1733.4 631.6L1733.7 634.0L1734.1 631.5L1734.4 628.2L1734.7 619.2L1735.1 626.7L1735.4 631.9L1735.8 629.8L1736.1 626.9L1736.4 624.5L1736.8 619.0L1737.1 619.1L1737.5 627.4L1737.8 617.1L1738.1 615.9L1738.5 609.9L1738.8 612.3L1739.2 608.4L1739.5 598.6L1739.8 603.5L1740.2 606.0L1740.5 599.4L1740.9 601.6L1741.2 598.0L1741.5 599.7L1741.9 599.6L1742.2 601.5L1742.6 606.5L1742.9 610.8L1743.2 617.5L1743.6 619.4L1743.9 630.1L1744.3 623.3L1744.6 630.8L1744.9 633.3L1745.3 628.6L1745.6 635.2L1746.0 643.2L1746.3 636.1L1746.6 639.8L1747.0 642.9L1747.3 642.4L1747.7 643.3L1748.0 647.1L1748.3 646.2L1748.7 644.1L1749.0 647.2L1749.4 638.7L1749.7 647.6L1750.0 644.9L1750.4 649.8L1750.7 646.7L1751.1 650.8L1751.4 649.6L1751.7 653.3L1752.1 651.7L1752.4 646.9L1752.8 648.1L1753.1 649.3L1753.4 651.0L1753.8 651.1L1754.1 650.6L1754.5 650.7L1754.8 652.7L1755.1 651.4L1755.5 646.9L1755.8 653.2L1756.2 654.1L1756.5 651.5L1756.8 645.7L1757.2 657.0L1757.5 658.4L1757.9 644.5L1758.2 653.5L1758.5 652.4L1758.9 651.3L1759.2 654.8L1759.6 653.3L1759.9 653.5L1760.2 655.3L1760.6 648.3L1760.9 651.9L1761.3 660.4L1761.6 657.0L1761.9 655.7L1762.3 653.4L1762.6 660.5L1763.0 650.4L1763.3 652.9L1763.6 654.7L1764.0 651.1L1764.3 653.2L1764.7 652.6L1765.0 650.0L1765.3 650.5L1765.7 659.4L1766.0 654.3L1766.4 653.2L1766.7 651.9L1767.0 651.4L1767.4 655.4L1767.7 655.0L1768.1 653.8L1768.4 656.7L1768.7 653.0L1769.1 658.7L1769.4 657.1L1769.8 660.1L1770.1 656.3L1770.4 650.5L1770.8 661.8L1771.1 657.5L1771.5 650.4L1771.8 658.9L1772.1 657.7L1772.5 658.1L1772.8 661.1L1773.2 658.6L1773.5 656.9L1773.8 655.4L1774.2 655.6L1774.5 657.1L1774.9 654.3L1775.2 660.2L1775.5 663.6L1775.9 654.4L1776.2 660.5L1776.6 654.8L1776.9 655.6L1777.2 655.0L1777.6 656.6L1777.9 654.2L1778.3 656.8L1778.6 656.1L1778.9 659.4L1779.3 658.1L1779.6 655.7L1780.0 654.3L1780.3 648.3L1780.6 654.1L1781.0 656.2L1781.3 652.7L1781.7 657.3L1782.0 662.0L1782.3 656.3L1782.7 653.0L1783.0 648.4L1783.4 663.7L1783.7 658.8L1784.0 654.1L1784.4 662.2L1784.7 657.1L1785.1 654.6L1785.4 659.4L1785.7 658.0L1786.1 659.0L1786.4 651.5L1786.8 656.1L1787.1 653.8L1787.4 655.4L1787.8 656.3L1788.1 661.3L1788.5 655.0L1788.8 653.3L1789.1 658.3L1789.5 654.3L1789.8 652.7L1790.2 650.1L1790.5 662.0L1790.8 657.5L1791.2 659.3L1791.5 657.1L1791.9 656.0L1792.2 658.6L1792.5 658.8L1792.9 663.8L1793.2 657.6L1793.6 654.4L1793.9 648.6L1794.2 654.4L1794.6 654.6L1794.9 653.9L1795.3 652.0L1795.6 654.3L1795.9 656.3L1796.3 663.8L1796.6 657.0L1797.0 653.9L1797.3 651.9L1797.6 659.4L1798.0 663.8L1798.3 655.8L1798.7 658.1L1799.0 654.2L1799.3 653.4L1799.7 657.2L1800.0 659.6L1800.4 655.2L1800.7 660.2L1801.0 651.2L1801.4 661.6L1801.7 655.2L1802.1 648.7L1802.4 653.1L1802.7 656.6L1803.1 657.5L1803.4 660.6L1803.8 653.5L1804.1 661.2L1804.4 659.2L1804.8 654.4L1805.1 655.3L1805.5 662.8L1805.8 657.9L1806.1 663.8L1806.5 656.6L1806.8 655.0L1807.2 650.8L1807.5 655.6L1807.8 657.2L1808.2 654.5L1808.5 657.3L1808.9 658.1L1809.2 657.5L1809.5 659.2L1809.9 657.7L1810.2 657.9L1810.6 657.2L1810.9 655.3L1811.2 656.7L1811.6 655.9L1811.9 654.9L1812.3 657.3L1812.6 653.5L1812.9 656.8L1813.3 649.1L1813.6 658.7L1814.0 658.7L1814.3 656.7L1814.6 655.9L1815.0 662.4L1815.3 658.2L1815.7 654.6L1816.0 649.4L1816.3 656.3L1816.7 650.1L1817.0 656.8L1817.4 662.9L1817.7 653.0L1818.0 647.6L1818.4 662.1L1818.7 660.1L1819.1 658.8L1819.4 658.7L1819.7 657.4L1820.1 656.4L1820.4 656.9L1820.8 657.6L1821.1 657.7L1821.4 655.7L1821.8 655.4L1822.1 655.7L1822.5 655.6L1822.8 656.0L1823.1 655.1L1823.5 661.4L1823.8 643.9L1824.2 655.0L1824.5 657.6L1824.8 654.1L1825.2 658.4L1825.5 652.4L1825.9 655.3L1826.2 659.3L1826.5 658.8L1826.9 655.2L1827.2 652.4L1827.6 655.5L1827.9 663.8L1828.2 650.5L1828.6 656.8L1828.9 654.7L1829.3 654.9L1829.6 659.2L1829.9 663.8L1830.3 656.6L1830.6 658.6L1831.0 652.3L1831.3 658.7L1831.6 654.3L1832.0 657.7L1832.3 658.7L1832.7 659.0L1833.0 657.1L1833.3 659.9L1833.7 657.0L1834.0 656.9L1834.4 656.1L1834.7 657.1L1835.0 649.2L1835.4 654.6L1835.7 656.8L1836.1 658.6L1836.4 658.1L1836.7 650.7L1837.1 655.2L1837.4 655.8L1837.8 663.4L1838.1 658.0L1838.4 655.8L1838.8 657.2L1839.1 655.8L1839.5 655.8L1839.8 658.4L1840.1 658.8L1840.5 651.5L1840.8 657.4L1841.2 656.6L1841.5 654.6L1841.8 656.8L1842.2 657.1L1842.5 654.0L1842.9 655.5L1843.2 653.8L1843.5 655.3L1843.9 658.7L1844.2 656.9L1844.6 656.7L1844.9 654.4L1845.2 652.9L1845.6 656.6L1845.9 655.8L1846.3 653.6L1846.6 656.0L1846.9 654.2L1847.3 663.7L1847.6 655.6L1848.0 651.0L1848.3 653.5L1848.6 653.9L1849.0 657.2L1849.3 651.1L1849.7 661.1L1850.0 663.7L1850.3 653.2L1850.7 653.9L1851.0 654.6L1851.4 653.7L1851.7 659.6L1852.0 656.3L1852.4 654.3L1852.7 658.3L1853.1 659.1L1853.4 649.9L1853.7 657.4L1854.1 655.6L1854.4 654.8L1854.8 651.0L1855.1 661.4L1855.4 653.8L1855.8 657.2L1856.1 654.6L1856.5 661.0L1856.8 657.4L1857.1 657.3L1857.5 656.7L1857.8 656.4L1858.2 656.4L1858.5 654.7L1858.8 654.0L1859.2 656.7L1859.5 653.2L1859.9 653.2L1860.2 654.3L1860.5 658.1L1860.9 649.4L1861.2 654.4L1861.6 652.1L1861.9 654.5L1862.2 657.4L1862.6 654.0L1862.9 651.1L1863.3 657.2L1863.6 658.5L1863.9 656.9L1864.3 651.1L1864.6 653.5L1865.0 659.6L1865.3 656.6L1865.6 652.8L1866.0 656.1L1866.3 655.6L1866.7 658.2L1867.0 652.4L1867.3 655.8L1867.7 660.1L1868.0 657.8L1868.4 649.6L1868.7 658.4L1869.0 660.7L1869.4 648.4L1869.7 655.0L1870.1 657.5L1870.4 651.7L1870.7 657.8L1871.1 653.2L1871.4 655.6L1871.8 655.4L1872.1 653.3L1872.4 659.9L1872.8 653.8L1873.1 650.4L1873.5 656.1L1873.8 659.0L1874.1 654.2L1874.5 653.3L1874.8 656.8L1875.2 656.0L1875.5 658.0L1875.8 654.6L1876.2 654.6L1876.5 648.3L1876.9 649.5L1877.2 654.6L1877.5 656.2L1877.9 653.1L1878.2 651.1L1878.6 658.9L1878.9 656.8L1879.2 656.8L1879.6 649.0L1879.9 653.6L1880.3 655.8L1880.6 654.4L1880.9 654.7L1881.3 655.9L1881.6 656.8L1882.0 657.9L1882.3 652.8L1882.6 653.1L1883.0 656.8L1883.3 655.4L1883.7 656.1L1884.0 656.5L1884.3 663.4L1884.7 655.0L1885.0 655.9L1885.4 652.2L1885.7 655.9L1886.0 652.8L1886.4 655.3L1886.7 658.8L1887.1 654.7L1887.4 660.9L1887.7 657.6L1888.1 653.9L1888.4 655.9L1888.8 656.7L1889.1 660.2L1889.4 659.0L1889.8 653.8L1890.1 653.8L1890.5 659.5L1890.8 660.2L1891.1 655.0L1891.5 648.7L1891.8 651.2L1892.2 648.0L1892.5 655.3L1892.8 655.5L1893.2 656.4L1893.5 658.2L1893.9 655.6L1894.2 662.8L1894.5 651.4L1894.9 655.5L1895.2 654.1L1895.6 655.9L1895.9 655.9L1896.2 658.4L1896.6 654.9L1896.9 660.6L1897.3 656.2L1897.6 656.6L1897.9 652.2L1898.3 658.6L1898.6 655.5L1899.0 654.6L1899.3 659.8L1899.6 650.6L1900.0 653.7L1900.3 655.6L1900.7 652.3L1901.0 655.1L1901.3 662.9L1901.7 648.9L1902.0 656.4L1902.4 647.7L1902.7 658.5L1903.0 657.0L1903.4 647.6L1903.7 655.8L1904.1 653.8L1904.4 655.2L1904.7 655.9L1905.1 655.4L1905.4 651.3L1905.8 655.0L1906.1 650.7L1906.4 662.7L1906.8 653.4L1907.1 662.6L1907.5 655.3L1907.8 654.8L1908.1 657.9L1908.5 655.4L1908.8 661.5L1909.2 657.2L1909.5 662.4L1909.8 652.8L1910.2 656.9L1910.5 651.0L1910.9 655.3L1911.2 659.6L1911.5 662.3L1911.9 657.1L1912.2 649.3L1912.6 657.8L1912.9 660.9L1913.2 650.4L1913.6 653.4L1913.9 654.6L1914.3 654.9L1914.6 652.6L1914.9 656.4L1915.3 655.1L1915.6 652.4L1916.0 657.2L1916.3 653.9L1916.6 655.4L1917.0 653.8L1917.3 653.0L1917.7 654.5L1918.0 659.1L1918.3 650.1L1918.7 656.8L1919.0 651.9L1919.4 650.2L1919.7 651.2L1920.0 656.7L1920.4 661.0L1920.7 650.8L1921.1 654.0L1921.4 653.7L1921.7 653.2L1922.1 657.2L1922.4 652.1L1922.8 657.7L1923.1 654.6L1923.4 654.5L1923.8 654.1L1924.1 651.2L1924.5 651.5L1924.8 659.6L1925.1 655.6L1925.5 650.3L1925.8 651.6L1926.2 656.3L1926.5 655.7L1926.8 651.9L1927.2 653.1L1927.5 653.8L1927.9 647.1L1928.2 649.3L1928.5 646.9L1928.9 651.3L1929.2 645.1L1929.6 647.9L1929.9 646.8L1930.2 649.9L1930.6 644.4L1930.9 646.9L1931.3 648.9L1931.6 646.2L1931.9 648.0L1932.3 644.0L1932.6 646.5L1933.0 648.0L1933.3 642.5L1933.6 642.6L1934.0 632.9L1934.3 636.4L1934.7 643.7L1935.0 639.1L1935.3 633.4L1935.7 631.3L1936.0 633.3L1936.4 631.9L1936.7 624.3L1937.0 626.6L1937.4 630.8L1937.7 626.5L1938.1 621.1L1938.4 619.7L1938.7 623.2L1939.1 625.4L1939.4 619.1L1939.8 617.9L1940.1 619.4L1940.4 619.8L1940.8 618.7L1941.1 616.3L1941.5 615.9L1941.8 611.4L1942.1 614.4L1942.5 613.2L1942.8 616.5L1943.2 616.7L1943.5 608.9L1943.8 611.3L1944.2 619.7L1944.5 610.2L1944.9 614.2L1945.2 613.2L1945.5 619.8L1945.9 616.6L1946.2 619.8L1946.6 622.3L1946.9 622.9L1947.2 625.3L1947.6 622.0L1947.9 627.4L1948.3 625.0L1948.6 630.4L1948.9 629.8L1949.3 633.1L1949.6 634.2L1950.0 641.2L1950.3 633.9L1950.6 637.1L1951.0 635.3L1951.3 638.4L1951.7 640.6L1952.0 639.1L1952.3 641.5L1952.7 643.8L1953.0 641.5L1953.4 641.3L1953.7 642.3L1954.0 645.8L1954.4 645.2L1954.7 646.6L1955.1 644.9L1955.4 645.5L1955.7 638.5L1956.1 645.4L1956.4 648.1L1956.8 645.3L1957.1 645.8L1957.4 646.8L1957.8 645.6L1958.1 652.7L1958.5 647.3L1958.8 649.0L1959.1 644.7L1959.5 644.6L1959.8 639.4L1960.2 646.3L1960.5 645.3L1960.8 643.7L1961.2 644.5L1961.5 648.0L1961.9 643.5L1962.2 645.2L1962.5 644.1L1962.9 639.5L1963.2 642.7L1963.6 633.1L1963.9 640.3L1964.2 636.9L1964.6 637.3L1964.9 633.1L1965.3 635.0L1965.6 638.9L1965.9 635.1L1966.3 624.6L1966.6 635.2L1967.0 632.5L1967.3 632.3L1967.6 632.1L1968.0 634.8L1968.3 636.8L1968.7 632.3L1969.0 637.8L1969.3 637.1L1969.7 633.4L1970.0 638.8L1970.4 642.2L1970.7 640.5L1971.0 644.6L1971.4 649.2L1971.7 646.1L1972.1 641.3L1972.4 647.8L1972.7 649.9L1973.1 651.8L1973.4 649.3L1973.8 649.4L1974.1 649.0L1974.4 648.9L1974.8 650.4L1975.1 653.1L1975.5 653.4L1975.8 649.8L1976.1 654.9L1976.5 650.9L1976.8 652.2L1977.2 649.2L1977.5 652.8L1977.8 651.3L1978.2 651.6L1978.5 652.4L1978.9 655.1L1979.2 653.3L1979.5 653.7L1979.9 653.2L1980.2 654.1L1980.6 659.0L1980.9 650.0L1981.2 659.3L1981.6 656.9L1981.9 651.4L1982.3 652.0L1982.6 655.0L1982.9 646.6L1983.3 653.6L1983.6 654.7L1984.0 658.2L1984.3 654.1L1984.6 649.9L1985.0 654.7L1985.3 654.8L1985.7 658.6L1986.0 662.1L1986.3 657.3L1986.7 651.4L1987.0 654.9L1987.4 653.4L1987.7 657.4L1988.0 655.4L1988.4 654.7L1988.7 658.0L1989.1 652.4L1989.4 655.9L1989.7 655.7L1990.1 651.7L1990.4 653.6L1990.8 652.1L1991.1 660.2L1991.4 652.0L1991.8 656.3L1992.1 654.1L1992.5 656.4L1992.8 652.9L1993.1 659.5L1993.5 655.3L1993.8 648.4L1994.2 656.0L1994.5 657.2L1994.8 652.9L1995.2 653.5L1995.5 655.7L1995.9 653.8L1996.2 654.2L1996.5 662.5L1996.9 656.7L1997.2 660.0L1997.6 656.8L1997.9 653.8L1998.2 651.2L1998.6 654.5L1998.9 653.0L1999.3 647.7L1999.6 655.3L1999.9 659.7L2000.3 658.0L2000.6 657.0L2001.0 655.3L2001.3 653.5L2001.6 654.9L2002.0 660.3L2002.3 656.8L2002.7 650.8L2003.0 656.6L2003.3 656.5L2003.7 653.8L2004.0 657.6L2004.4 654.0L2004.7 652.2L2005.0 656.8L2005.4 654.2L2005.7 650.3L2006.1 654.9L2006.4 662.9L2006.7 656.7L2007.1 658.4L2007.4 656.0L2007.8 655.6L2008.1 656.9L2008.4 655.8L2008.8 650.5L2009.1 655.2L2009.5 647.8L2009.8 655.3L2010.1 655.0L2010.5 658.7L2010.8 655.6L2011.2 657.1L2011.5 654.0L2011.8 656.9L2012.2 654.8L2012.5 652.8L2012.9 648.0L2013.2 658.7L2013.5 655.7L2013.9 653.8L2014.2 656.0L2014.6 653.1L2014.9 653.0L2015.2 652.7L2015.6 655.4L2015.9 656.7L2016.3 650.8L2016.6 654.2L2016.9 652.9L2017.3 653.0L2017.6 652.2L2018.0 658.8L2018.3 654.3L2018.6 656.4L2019.0 656.0L2019.3 659.9L2019.7 657.9L2020.0 652.4L2020.3 647.6L2020.7 654.8L2021.0 654.8L2021.4 655.9L2021.7 658.8L2022.0 662.8L2022.4 656.7L2022.7 661.6L2023.1 654.4L2023.4 655.9L2023.7 651.2L2024.1 652.4L2024.4 654.3L2024.8 658.0L2025.1 646.7L2025.4 656.4L2025.8 654.9L2026.1 654.5L2026.5 653.8L2026.8 652.8L2027.1 655.5L2027.5 654.7L2027.8 656.2L2028.2 650.2L2028.5 654.6L2028.8 655.2L2029.2 652.3L2029.5 662.7L2029.9 652.1L2030.2 656.5L2030.5 653.0L2030.9 656.4L2031.2 660.0L2031.6 656.8L2031.9 658.0L2032.2 662.7L2032.6 656.7L2032.9 658.0L2033.3 652.7L2033.6 655.2L2033.9 655.6L2034.3 655.3L2034.6 654.5L2035.0 657.2L2035.3 652.9L2035.6 662.6L2036.0 655.5L2036.3 655.2L2036.7 655.7L2037.0 653.8L2037.3 657.1L2037.7 657.3L2038.0 656.6L2038.4 655.4L2038.7 653.4L2039.0 654.6L2039.4 656.1L2039.7 656.3L2040.1 648.8L2040.4 659.2L2040.7 653.9L2041.1 655.5L2041.4 653.8L2041.8 650.0L2042.1 653.1L2042.4 654.4L2042.8 647.3L2043.1 655.6L2043.5 650.3L2043.8 651.1L2044.1 655.3L2044.5 654.7L2044.8 658.3L2045.2 652.6L2045.5 655.4L2045.8 657.6L2046.2 660.8L2046.5 653.9L2046.9 656.0L2047.2 655.2L2047.5 662.2L2047.9 652.1L2048.2 659.5L2048.6 655.0L2048.9 654.0L2049.2 654.1L2049.6 654.9L2049.9 655.0L2050.3 656.4L2050.6 655.5L2050.9 662.4L2051.3 655.3L2051.6 652.2L2052.0 654.9L2052.3 655.7L2052.6 656.9L2053.0 653.4L2053.3 653.4L2053.7 657.4L2054.0 652.6L2054.3 655.6L2054.7 652.4L2055.0 654.4L2055.4 647.1L2055.7 649.6L2056.0 652.3L2056.4 649.4L2056.7 647.8L2057.1 662.3L2057.4 651.7L2057.7 655.0L2058.1 653.7L2058.4 651.0L2058.8 653.8L2059.1 654.3L2059.4 647.1L2059.8 662.2L2060.1 653.9L2060.5 659.4L2060.8 655.6L2061.1 652.4L2061.5 655.0L2061.8 653.3L2062.2 652.9L2062.5 657.5L2062.8 659.0L2063.2 657.4L2063.5 656.6L2063.9 654.4L2064.2 657.2L2064.5 653.3L2064.9 658.7L2065.2 651.8L2065.6 656.1L2065.9 660.6L2066.2 650.2L2066.6 645.7L2066.9 653.8L2067.3 656.1L2067.6 657.7L2067.9 654.6L2068.3 656.0L2068.6 655.2L2069.0 654.1L2069.3 655.2L2069.6 650.3L2070.0 653.6L2070.3 644.4L2070.7 652.3L2071.0 652.6L2071.3 657.9L2071.7 653.0L2072.0 650.4L2072.4 653.7L2072.7 652.9L2073.0 651.7L2073.4 655.6L2073.7 657.5L2074.1 657.3L2074.4 654.1L2074.7 655.2L2075.1 649.9L2075.4 653.1L2075.8 647.0L2076.1 654.3L2076.4 651.3L2076.8 653.6L2077.1 653.7L2077.5 658.2L2077.8 659.0L2078.1 657.1L2078.5 656.7L2078.8 650.5L2079.2 651.4L2079.5 658.8L2079.8 649.8L2080.2 652.7L2080.5 654.4L2080.9 661.8L2081.2 652.8L2081.5 653.6L2081.9 661.8L2082.2 660.3L2082.6 656.1L2082.9 656.0L2083.2 654.1L2083.6 652.3L2083.9 646.6L2084.3 655.0L2084.6 655.3L2084.9 654.3L2085.3 656.3L2085.6 655.5L2086.0 654.4L2086.3 659.4L2086.6 649.2L2087.0 661.7L2087.3 655.3L2087.7 655.2L2088.0 653.7L2088.3 652.1L2088.7 652.6L2089.0 655.8L2089.4 651.7L2089.7 654.5L2090.0 657.1L2090.4 651.5L2090.7 655.6L2091.1 655.8L2091.4 656.8L2091.7 649.3L2092.1 648.8L2092.4 657.5L2092.8 655.5L2093.1 655.6L2093.4 648.3L2093.8 655.9L2094.1 660.6L2094.5 657.2L2094.8 646.4L2095.1 648.0L2095.5 653.7L2095.8 653.2L2096.2 653.3L2096.5 653.3L2096.8 652.3L2097.2 648.4L2097.5 654.2L2097.9 647.6L2098.2 651.9L2098.5 655.7L2098.9 654.6L2099.2 661.5L2099.6 654.4L2099.9 649.6L2100.2 652.3L2100.6 652.7L2100.9 654.9L2101.3 653.4L2101.6 651.9L2101.9 651.2L2102.3 649.3L2102.6 649.6L2103.0 661.3L2103.3 653.3L2103.6 653.7L2104.0 651.7L2104.3 656.7L2104.7 653.7L2105.0 658.0L2105.3 652.6L2105.7 658.2L2106.0 659.6L2106.4 657.0L2106.7 655.4L2107.0 654.6L2107.4 650.4L2107.7 651.2L2108.1 655.2L2108.4 658.7L2108.7 650.7L2109.1 654.1L2109.4 653.2L2109.8 654.0L2110.1 654.2L2110.4 652.9L2110.8 645.9L2111.1 657.6L2111.5 650.7L2111.8 656.6L2112.1 652.4L2112.5 655.3L2112.8 650.4L2113.2 654.0L2113.5 655.0L2113.8 655.1L2114.2 655.5L2114.5 653.7L2114.9 653.9L2115.2 654.1L2115.5 653.6L2115.9 654.6L2116.2 655.4L2116.6 651.4L2116.9 646.4L2117.2 657.9L2117.6 653.1L2117.9 651.5L2118.3 651.9L2118.6 652.1L2118.9 654.2L2119.3 654.1L2119.6 652.7L2120.0 650.1L2120.3 653.8L2120.6 657.2L2121.0 654.8L2121.3 650.4L2121.7 653.5L2122.0 650.7L2122.3 655.0L2122.7 653.9L2123.0 647.7L2123.4 649.6L2123.7 653.7L2124.0 650.0L2124.4 645.6L2124.7 653.1L2125.1 652.8L2125.4 651.3L2125.7 654.8L2126.1 645.3L2126.4 654.4L2126.8 653.1L2127.1 656.7L2127.4 650.3L2127.8 656.3L2128.1 653.1L2128.5 651.5L2128.8 654.0L2129.1 652.4L2129.5 652.4L2129.8 654.7L2130.2 653.7L2130.5 649.1L2130.8 653.8L2131.2 653.9L2131.5 649.9L2131.9 657.1L2132.2 648.7L2132.5 653.5L2132.9 651.5L2133.2 653.8L2133.6 650.0L2133.9 653.3L2134.2 650.3L2134.6 652.6L2134.9 655.2L2135.3 646.0L2135.6 653.4L2135.9 653.8L2136.3 646.7L2136.6 654.8L2137.0 652.4L2137.3 651.9L2137.6 647.1L2138.0 650.2L2138.3 649.1L2138.7 651.9L2139.0 650.0L2139.3 652.6L2139.7 656.9L2140.0 650.6L2140.4 653.5L2140.7 651.3L2141.0 655.0L2141.4 653.3L2141.7 654.2L2142.1 652.2L2142.4 653.4L2142.7 650.8L2143.1 650.8L2143.4 651.0L2143.8 650.8L2144.1 646.3L2144.4 655.7L2144.8 653.1L2145.1 652.4L2145.5 656.4L2145.8 652.6L2146.1 654.2L2146.5 649.1L2146.8 655.6L2147.2 651.4L2147.5 652.1L2147.8 651.7L2148.2 652.1L2148.5 649.8L2148.9 652.7L2149.2 649.8L2149.5 651.8L2149.9 658.9L2150.2 651.7L2150.6 649.2L2150.9 649.6L2151.2 653.1L2151.6 651.2L2151.9 651.6L2152.3 643.3L2152.6 646.7L2152.9 648.4L2153.3 650.2L2153.6 652.9L2154.0 652.3L2154.3 655.0L2154.6 650.8L2155.0 651.2L2155.3 645.1L2155.7 647.4L2156.0 646.6L2156.3 646.2L2156.7 646.9L2157.0 650.4L2157.4 645.9L2157.7 646.8L2158.0 648.1L2158.4 651.8L2158.7 645.2L2159.1 649.3L2159.4 646.7L2159.7 646.5L2160.1 638.0L2160.4 647.1L2160.8 646.9L2161.1 644.8L2161.4 648.0L2161.8 644.9L2162.1 642.2L2162.5 640.3L2162.8 642.5L2163.1 649.0L2163.5 643.9L2163.8 645.7L2164.2 640.4L2164.5 649.2L2164.8 636.1L2165.2 638.4L2165.5 640.1L2165.9 641.9L2166.2 638.8L2166.5 638.0L2166.9 643.9L2167.2 637.9L2167.6 644.4L2167.9 643.7L2168.2 644.9L2168.6 639.0L2168.9 647.5L2169.3 643.9L2169.6 643.4L2169.9 641.8L2170.3 647.0L2170.6 645.3L2171.0 642.6L2171.3 645.7L2171.6 642.4L2172.0 645.1L2172.3 648.2L2172.7 648.8L2173.0 647.6L2173.3 650.0L2173.7 645.6L2174.0 647.6L2174.4 649.7L2174.7 651.6L2175.0 653.0L2175.4 650.2L2175.7 646.6L2176.1 649.5L2176.4 651.6L2176.7 652.0L2177.1 649.8L2177.4 648.5L2177.8 657.5L2178.1 649.2L2178.4 648.2L2178.8 656.8L2179.1 644.7L2179.5 656.4L2179.8 651.4L2180.1 650.7L2180.5 649.9L2180.8 649.0" fill="none" stroke="#000" stroke-width="2.5" stroke-linejoin="round"/>
<path d="M124.5 1055.2L125.2 1054.4L125.9 1054.5L126.6 1052.1L127.3 1057.2L128.0 1056.4L128.7 1054.7L129.4 1056.0L130.1 1055.4L130.8 1054.4L131.5 1056.3L132.2 1054.7L132.9 1054.7L133.6 1054.2L134.3 1055.7L135.0 1055.0L135.7 1055.8L136.4 1054.4L137.1 1055.3L137.8 1054.1L138.5 1056.2L139.2 1055.4L139.9 1055.6L140.6 1055.7L141.3 1054.0L142.0 1056.2L142.7 1057.7L143.4 1053.3L144.1 1053.2L144.8 1053.5L145.5 1056.3L146.2 1055.5L146.9 1056.6L147.6 1056.2L148.3 1055.6L149.0 1055.7L149.7 1055.2L150.4 1056.4L151.1 1054.0L151.8 1054.9L152.5 1055.7L153.2 1057.6L153.9 1054.5L154.6 1054.1L155.3 1054.8L156.0 1056.6L156.7 1055.2L157.4 1057.1L158.1 1053.2L158.8 1056.8L159.5 1056.7L160.2 1053.8L160.9 1055.7L161.6 1057.0L162.3 1055.6L163.0 1056.7L163.7 1058.4L164.4 1055.9L165.1 1055.2L165.8 1054.7L166.5 1056.4L167.2 1055.4L167.9 1055.4L168.6 1055.5L169.3 1056.4L170.0 1054.4L170.7 1053.8L171.4 1052.7L172.1 1057.1L172.8 1055.8L173.5 1057.5L174.2 1055.7L174.9 1054.8L175.6 1056.3L176.3 1055.6L177.0 1054.2L177.7 1054.7L178.4 1057.9L179.1 1056.2L179.8 1056.3L180.5 1053.5L181.2 1055.0L181.9 1056.9L182.6 1055.7L183.3 1054.9L184.0 1055.7L184.7 1054.8L185.4 1054.9L186.1 1057.2L186.8 1054.9L187.5 1057.6L188.2 1055.1L188.9 1056.1L189.6 1054.9L190.3 1055.7L191.0 1056.0L191.7 1055.4L192.4 1055.1L193.1 1055.2L193.8 1055.0L194.5 1054.1L195.2 1055.7L195.9 1056.5L196.6 1057.1L197.3 1056.8L198.0 1059.0L198.7 1053.8L199.4 1055.5L200.1 1058.3L200.8 1054.8L201.5 1057.3L202.2 1051.3L202.9 1056.5L203.6 1053.8L204.3 1057.2L205.0 1056.0L205.7 1055.0L206.4 1058.2L207.1 1057.1L207.8 1056.2L208.5 1055.3L209.2 1056.1L209.9 1056.0L210.6 1057.1L211.3 1057.2L212.0 1055.4L212.7 1055.6L213.4 1055.6L214.1 1054.6L214.8 1052.0L215.5 1056.2L216.2 1057.1L216.9 1057.9L217.6 1055.3L218.3 1057.0L219.0 1055.8L219.7 1058.8L220.4 1056.3L221.1 1057.0L221.8 1055.3L222.5 1055.4L223.2 1056.6L223.9 1055.9L224.6 1056.8L225.3 1054.6L226.0 1057.2L226.7 1055.4L227.4 1058.5L228.1 1056.1L228.8 1057.8L229.5 1054.8L230.2 1057.0L230.9 1055.4L231.6 1055.9L232.3 1056.6L233.0 1056.2L233.7 1056.9L234.4 1057.5L235.1 1057.3L235.8 1056.5L236.5 1054.9L237.2 1055.6L237.9 1056.4L238.6 1054.1L239.3 1057.5L240.0 1056.3L240.7 1056.3L241.4 1057.8L242.1 1057.5L242.8 1056.9L243.5 1055.5L244.2 1057.1L244.9 1057.1L245.6 1055.7L246.3 1058.0L247.0 1057.3L247.7 1054.4L248.4 1056.9L249.1 1055.2L249.8 1058.1L250.5 1057.8L251.2 1055.5L251.9 1055.7L252.6 1056.9L253.3 1054.3L254.0 1058.7L254.7 1057.7L255.4 1052.8L256.1 1057.6L256.8 1054.4L257.5 1057.3L258.2 1057.9L258.9 1056.7L259.6 1056.1L260.3 1057.6L261.0 1059.3L261.7 1057.2L262.4 1055.6L263.1 1058.7L263.8 1054.7L264.5 1057.6L265.2 1056.3L265.9 1058.1L266.6 1056.0L267.3 1058.6L268.0 1057.4L268.7 1055.0L269.4 1054.7L270.1 1056.7L270.8 1058.6L271.5 1057.2L272.2 1057.2L272.9 1056.8L273.6 1058.0L274.3 1057.6L275.0 1057.5L275.7 1056.0L276.4 1058.6L277.1 1058.8L277.8 1055.6L278.5 1059.9L279.2 1058.1L279.9 1056.6L280.6 1054.9L281.3 1058.0L282.0 1057.9L282.7 1056.5L283.4 1055.1L284.1 1058.6L284.8 1056.6L285.5 1056.7L286.2 1060.7L286.9 1059.9L287.6 1058.5L288.3 1056.8L289.0 1058.1L289.7 1054.6L290.4 1057.5L291.1 1056.4L291.8 1055.8L292.5 1055.5L293.2 1058.0L293.9 1057.5L294.6 1057.6L295.3 1058.4L296.0 1056.4L296.7 1056.0L297.4 1055.3L298.1 1057.1L298.8 1058.4L299.5 1057.3L300.2 1058.3L300.9 1056.1L301.6 1056.9L302.3 1056.6L303.0 1056.0L303.7 1059.8L304.4 1058.6L305.1 1056.7L305.8 1056.7L306.5 1057.5L307.2 1055.9L307.9 1058.1L308.6 1056.1L309.3 1057.2L310.0 1056.4L310.7 1057.1L311.4 1056.1L312.1 1055.8L312.8 1056.5L313.5 1056.9L314.2 1057.4L314.9 1057.8L315.6 1059.6L316.3 1058.7L317.0 1057.5L317.7 1058.6L318.4 1057.0L319.1 1059.5L319.8 1058.5L320.5 1056.2L321.2 1058.7L321.9 1058.8L322.6 1054.6L323.3 1057.0L324.0 1057.3L324.7 1055.6L325.4 1056.6L326.1 1056.8L326.8 1058.5L327.5 1058.3L328.2 1061.1L328.9 1057.5L329.6 1059.4L330.3 1058.1L331.0 1058.3L331.7 1056.6L332.4 1055.7L333.1 1057.1L333.8 1059.0L334.5 1060.0L335.2 1055.5L335.9 1058.7L336.6 1057.1L337.3 1059.9L338.0 1059.7L338.7 1057.5L339.4 1058.1L340.1 1057.0L340.8 1059.9L341.5 1058.7L342.2 1058.1L342.9 1058.7L343.6 1058.7L344.3 1057.7L345.0 1056.7L345.7 1056.7L346.4 1056.2L347.1 1058.8L347.8 1060.9L348.5 1053.5L349.2 1058.5L349.9 1058.8L350.6 1057.1L351.3 1058.6L352.0 1057.0L352.7 1059.8L353.4 1057.7L354.1 1058.5L354.8 1059.2L355.5 1057.9L356.2 1056.3L356.9 1057.8L357.6 1059.4L358.3 1058.3L359.0 1058.7L359.7 1057.2L360.4 1058.7L361.1 1059.4L361.8 1058.6L362.5 1060.8L363.2 1058.3L363.9 1057.3L364.6 1056.6L365.3 1059.9L366.0 1058.5L366.7 1059.8L367.4 1059.1L368.1 1060.6L368.8 1060.1L369.5 1058.2L370.2 1059.0L370.9 1060.0L371.6 1057.2L372.3 1060.4L373.0 1060.1L373.7 1059.9L374.4 1058.5L375.1 1059.1L375.8 1057.4L376.5 1058.8L377.2 1058.1L377.9 1058.9L378.6 1058.2L379.3 1059.1L380.0 1060.2L380.7 1057.2L381.4 1059.9L382.1 1056.5L382.8 1056.3L383.5 1058.7L384.2 1058.9L384.9 1059.4L385.6 1056.9L386.3 1058.8L387.0 1059.1L387.7 1060.4L388.4 1058.8L389.1 1059.6L389.8 1057.8L390.5 1058.8L391.2 1057.4L391.9 1059.8L392.6 1057.8L393.3 1058.0L394.0 1059.7L394.7 1061.2L395.4 1059.5L396.1 1059.4L396.8 1058.7L397.5 1060.4L398.2 1059.8L398.9 1061.2L399.6 1059.5L400.3 1058.0L401.0 1058.5L401.7 1058.0L402.4 1057.7L403.1 1060.7L403.8 1060.2L404.5 1057.7L405.2 1061.4L405.9 1059.5L406.6 1058.1L407.3 1059.7L408.0 1059.2L408.7 1058.3L409.4 1057.0L410.1 1059.3L410.8 1059.7L411.5 1056.2L412.2 1060.0L412.9 1060.1L413.6 1058.8L414.3 1059.5L415.0 1059.0L415.7 1058.4L416.4 1059.0L417.1 1061.0L417.8 1057.7L418.5 1059.7L419.2 1059.7L419.9 1058.6L420.6 1058.9L421.3 1057.8L422.0 1058.5L422.7 1059.5L423.4 1059.9L424.1 1058.4L424.8 1063.2L425.5 1058.8L426.2 1059.7L426.9 1059.2L427.6 1059.0L428.3 1061.1L429.0 1056.8L429.7 1061.1L430.4 1060.9L431.1 1058.3L431.8 1060.8L432.5 1058.8L433.2 1062.8L433.9 1059.1L434.6 1058.4L435.3 1057.3L436.0 1058.0L436.7 1058.9L437.4 1058.4L438.1 1058.1L438.8 1058.8L439.5 1059.4L440.2 1061.3L440.9 1057.6L441.6 1059.0L442.3 1058.5L443.0 1057.8L443.7 1058.1L444.4 1058.6L445.1 1060.5L445.8 1059.4L446.5 1059.0L447.2 1060.4L447.9 1060.0L448.6 1059.4L449.3 1060.1L450.0 1058.7L450.7 1060.4L451.4 1060.2L452.1 1059.2L452.8 1058.2L453.5 1061.5L454.2 1059.8L454.9 1063.4L455.6 1058.9L456.3 1060.7L457.0 1059.2L457.7 1060.0L458.4 1060.7L459.1 1058.8L459.8 1059.6L460.5 1059.9L461.2 1059.9L461.9 1060.5L462.6 1061.0L463.3 1060.8L464.0 1060.1L464.7 1056.4L465.4 1058.4L466.1 1058.9L466.8 1059.1L467.5 1060.6L468.2 1059.3L468.9 1058.3L469.6 1060.5L470.3 1058.8L471.0 1058.9L471.7 1059.5L472.4 1060.4L473.1 1056.9L473.8 1058.4L474.5 1060.0L475.2 1059.3L475.9 1058.7L476.6 1059.1L477.3 1061.4L478.0 1059.2L478.7 1060.6L479.4 1060.7L480.1 1059.2L480.8 1060.3L481.5 1059.2L482.2 1059.0L482.9 1058.4L483.6 1060.8L484.3 1059.3L485.0 1059.1L485.7 1058.4L486.4 1061.9L487.1 1060.6L487.8 1059.5L488.5 1058.8L489.2 1057.8L489.9 1060.0L490.6 1059.9L491.3 1057.9L492.0 1060.9L492.7 1060.4L493.4 1058.3L494.1 1058.7L494.8 1058.8L495.5 1059.4L496.2 1059.0L496.9 1057.0L497.6 1060.6L498.3 1059.1L499.0 1059.9L499.7 1059.6L500.4 1057.3L501.1 1057.4L501.8 1057.0L502.5 1055.9L503.2 1053.4L503.9 1050.1L504.6 1049.9L505.3 1046.7L506.0 1044.7L506.7 1040.7L507.4 1041.5L508.1 1039.1L508.8 1039.6L509.5 1041.2L510.2 1043.3L510.9 1047.3L511.6 1047.6L512.3 1047.9L513.0 1051.8L513.7 1052.7L514.4 1055.4L515.1 1055.2L515.8 1056.1L516.5 1057.0L517.2 1057.4L517.9 1056.3L518.6 1058.0L519.3 1059.0L520.0 1060.6L520.7 1059.0L521.4 1059.0L522.1 1060.2L522.8 1060.2L523.5 1061.6L524.2 1060.4L524.9 1059.7L525.6 1061.4L526.3 1061.7L527.0 1059.3L527.7 1060.1L528.4 1057.9L529.1 1059.6L529.8 1059.0L530.5 1059.8L531.2 1059.5L531.9 1059.9L532.6 1060.0L533.3 1060.7L534.0 1059.4L534.7 1059.5L535.4 1058.6L536.1 1061.7L536.8 1061.9L537.5 1059.7L538.2 1060.9L538.9 1058.4L539.6 1058.4L540.3 1060.0L541.0 1062.1L541.7 1059.1L542.4 1059.3L543.1 1062.3L543.8 1058.1L544.5 1061.1L545.2 1061.0L545.9 1060.1L546.6 1060.6L547.3 1063.5L548.0 1059.1L548.7 1060.0L549.4 1060.1L550.1 1059.6L550.8 1058.8L551.5 1062.4L552.2 1060.7L552.9 1058.4L553.6 1059.6L554.3 1061.0L555.0 1061.0L555.7 1058.8L556.4 1060.4L557.1 1060.8L557.8 1061.0L558.5 1061.0L559.2 1058.3L559.9 1062.8L560.6 1060.8L561.3 1062.7L562.0 1064.0L562.7 1060.4L563.4 1059.1L564.1 1061.6L564.8 1060.4L565.5 1060.0L566.2 1059.4L566.9 1062.6L567.6 1060.1L568.3 1058.9L569.0 1060.1L569.7 1059.2L570.4 1060.8L571.1 1060.1L571.8 1059.4L572.5 1060.5L573.2 1059.9L573.9 1061.5L574.6 1062.2L575.3 1060.2L576.0 1059.9L576.7 1060.9L577.4 1061.8L578.1 1060.7L578.8 1060.9L579.5 1060.7L580.2 1061.1L580.9 1061.5L581.6 1059.9L582.3 1059.1L583.0 1060.8L583.7 1059.9L584.4 1060.9L585.1 1061.4L585.8 1060.7L586.5 1060.0L587.2 1059.8L587.9 1062.9L588.6 1061.8L589.3 1059.4L590.0 1059.8L590.7 1063.0L591.4 1062.6L592.1 1061.0L592.8 1062.2L593.5 1059.0L594.2 1060.8L594.9 1061.7L595.6 1058.6L596.3 1059.9L597.0 1061.8L597.7 1062.2L598.4 1060.1L599.1 1061.2L599.8 1062.8L600.5 1060.4L601.2 1059.3L601.9 1060.8L602.6 1060.4L603.3 1062.4L604.0 1061.1L604.7 1059.9L605.4 1063.8L606.1 1060.3L606.8 1061.5L607.5 1061.7L608.2 1061.8L608.9 1061.1L609.6 1061.6L610.3 1060.8L611.0 1059.2L611.7 1060.6L612.4 1060.7L613.1 1060.7L613.8 1061.1L614.5 1060.2L615.2 1062.5L615.9 1062.8L616.6 1058.3L617.3 1060.9L618.0 1060.1L618.7 1057.8L619.4 1061.4L620.1 1060.2L620.8 1060.5L621.5 1058.9L622.2 1062.2L622.9 1062.4L623.6 1061.3L624.3 1061.8L625.0 1060.8L625.7 1061.1L626.4 1060.0L627.1 1060.9L627.8 1060.0L628.5 1061.3L629.2 1061.9L629.9 1061.3L630.6 1062.3L631.3 1064.1L632.0 1058.3L632.7 1060.9L633.4 1060.2L634.1 1060.3L634.8 1059.2L635.5 1060.9L636.2 1060.5L636.9 1060.0L637.6 1060.4L638.3 1060.0L639.0 1057.9L639.7 1061.9L640.4 1060.2L641.1 1059.4L641.8 1060.9L642.5 1059.6L643.2 1057.7L643.9 1061.3L644.6 1058.1L645.3 1059.8L646.0 1060.0L646.7 1061.3L647.4 1060.8L648.1 1059.2L648.8 1057.6L649.5 1057.3L650.2 1058.2L650.9 1057.9L651.6 1055.0L652.3 1051.9L653.0 1052.0L653.7 1048.4L654.4 1046.7L655.1 1046.0L655.8 1047.1L656.5 1047.8L657.2 1048.1L657.9 1052.7L658.6 1053.6L659.3 1051.8L660.0 1054.0L660.7 1057.3L661.4 1057.9L662.1 1061.2L662.8 1059.1L663.5 1059.3L664.2 1060.9L664.9 1061.2L665.6 1059.8L666.3 1060.8L667.0 1059.0L667.7 1059.3L668.4 1062.0L669.1 1058.9L669.8 1061.8L670.5 1061.5L671.2 1061.7L671.9 1061.9L672.6 1061.5L673.3 1058.3L674.0 1059.7L674.7 1060.2L675.4 1062.0L676.1 1059.6L676.8 1060.1L677.5 1060.5L678.2 1062.6L678.9 1059.3L679.6 1059.4L680.3 1061.8L681.0 1058.5L681.7 1061.4L682.4 1058.9L683.1 1059.2L683.8 1060.6L684.5 1059.9L685.2 1061.3L685.9 1061.5L686.6 1062.9L687.3 1061.1L688.0 1061.2L688.7 1060.4L689.4 1061.0L690.1 1062.3L690.8 1058.8L691.5 1059.8L692.2 1060.4L692.9 1061.1L693.6 1057.9L694.3 1062.1L695.0 1061.3L695.7 1060.6L696.4 1061.4L697.1 1061.0L697.8 1060.8L698.5 1061.3L699.2 1062.0L699.9 1061.2L700.6 1061.2L701.3 1059.4L702.0 1060.8L702.7 1058.7L703.4 1061.8L704.1 1059.8L704.8 1062.4L705.5 1064.5L706.2 1060.4L706.9 1062.4L707.6 1061.3L708.3 1060.1L709.0 1059.7L709.7 1061.4L710.4 1062.4L711.1 1061.1L711.8 1058.8L712.5 1058.7L713.2 1060.3L713.9 1062.2L714.6 1060.8L715.3 1060.8L716.0 1061.9L716.7 1060.1L717.4 1060.2L718.1 1060.0L718.8 1058.1L719.5 1060.7L720.2 1060.5L720.9 1061.1L721.6 1058.5L722.3 1058.8L723.0 1060.8L723.7 1060.0L724.4 1061.2L725.1 1058.4L725.8 1059.5L726.5 1058.3L727.2 1059.4L727.9 1058.3L728.6 1059.3L729.3 1059.8L730.0 1059.1L730.7 1055.9L731.4 1058.9L732.1 1058.0L732.8 1056.0L733.5 1055.8L734.2 1056.5L734.9 1056.8L735.6 1055.1L736.3 1053.1L737.0 1054.8L737.7 1054.0L738.4 1055.9L739.1 1050.6L739.8 1054.1L740.5 1051.9L741.2 1048.7L741.9 1048.5L742.6 1044.3L743.3 1042.4L744.0 1036.4L744.7 1032.1L745.4 1023.6L746.1 1013.3L746.8 1002.3L747.5 985.8L748.2 967.4L748.9 944.8L749.6 916.7L750.3 889.3L751.0 863.7L751.7 841.9L752.4 835.6L753.1 838.6L753.8 850.7L754.5 867.9L755.2 888.9L755.9 914.0L756.6 937.0L757.3 958.8L758.0 976.7L758.7 992.6L759.4 1004.2L760.1 1015.6L760.8 1022.4L761.5 1030.0L762.2 1035.6L762.9 1041.7L763.6 1041.9L764.3 1042.6L765.0 1047.8L765.7 1043.9L766.4 1049.1L767.1 1050.0L767.8 1050.3L768.5 1053.8L769.2 1053.7L769.9 1053.0L770.6 1054.0L771.3 1054.4L772.0 1056.1L772.7 1055.4L773.4 1055.3L774.1 1055.8L774.8 1056.4L775.5 1057.6L776.2 1056.5L776.9 1057.7L777.6 1058.6L778.3 1061.1L779.0 1059.5L779.7 1055.1L780.4 1058.3L781.1 1058.6L781.8 1059.6L782.5 1061.2L783.2 1060.4L783.9 1056.9L784.6 1060.1L785.3 1060.0L786.0 1060.5L786.7 1061.7L787.4 1058.9L788.1 1061.6L788.8 1058.4L789.5 1060.5L790.2 1061.0L790.9 1063.3L791.6 1059.8L792.3 1058.7L793.0 1061.6L793.7 1060.0L794.4 1062.8L795.1 1060.1L795.8 1059.9L796.5 1062.5L797.2 1061.2L797.9 1062.3L798.6 1059.5L799.3 1063.2L800.0 1060.6L800.7 1062.3L801.4 1060.1L802.1 1059.5L802.8 1061.1L803.5 1061.6L804.2 1063.4L804.9 1061.9L805.6 1062.4L806.3 1062.3L807.0 1065.3L807.7 1060.6L808.4 1063.1L809.1 1061.5L809.8 1062.0L810.5 1061.0L811.2 1063.1L811.9 1060.2L812.6 1060.1L813.3 1061.5L814.0 1060.4L814.7 1062.6L815.4 1062.9L816.1 1060.9L816.8 1062.8L817.5 1061.0L818.2 1061.8L818.9 1061.9L819.6 1064.1L820.3 1061.9L821.0 1060.8L821.7 1060.8L822.4 1063.4L823.1 1059.9L823.8 1061.4L824.5 1061.5L825.2 1059.0L825.9 1061.4L826.6 1063.2L827.3 1062.3L828.0 1060.9L828.7 1062.9L829.4 1062.7L830.1 1064.5L830.8 1061.2L831.5 1061.6L832.2 1062.1L832.9 1061.9L833.6 1062.2L834.3 1062.0L835.0 1061.3L835.7 1060.2L836.4 1061.4L837.1 1060.4L837.8 1060.9L838.5 1061.5L839.2 1062.7L839.9 1063.2L840.6 1060.9L841.3 1062.5L842.0 1063.1L842.7 1062.1L843.4 1060.2L844.1 1059.6L844.8 1063.1L845.5 1063.3L846.2 1062.5L846.9 1060.9L847.6 1063.9L848.3 1063.6L849.0 1062.1L849.7 1061.9L850.4 1059.8L851.1 1063.1L851.8 1060.3L852.5 1063.0L853.2 1063.1L853.9 1062.3L854.6 1064.1L855.3 1061.8L856.0 1062.9L856.7 1063.2L857.4 1062.5L858.1 1061.7L858.8 1063.7L859.5 1062.7L860.2 1062.0L860.9 1062.0L861.6 1062.4L862.3 1065.0L863.0 1062.4L863.7 1062.0L864.4 1061.0L865.1 1059.4L865.8 1060.0L866.5 1062.6L867.2 1062.3L867.9 1061.0L868.6 1060.5L869.3 1061.9L870.0 1061.7L870.7 1060.7L871.4 1062.6L872.1 1062.5L872.8 1062.2L873.5 1063.2L874.2 1061.5L874.9 1063.9L875.6 1061.1L876.3 1062.9L877.0 1063.1L877.7 1062.0L878.4 1059.9L879.1 1060.8L879.8 1060.5L880.5 1062.1L881.2 1061.4L881.9 1063.0L882.6 1062.4L883.3 1063.1L884.0 1062.7L884.7 1062.6L885.4 1062.4L886.1 1061.9L886.8 1061.8L887.5 1064.8L888.2 1060.2L888.9 1062.1L889.6 1063.5L890.3 1062.8L891.0 1064.0L891.7 1063.0L892.4 1060.8L893.1 1061.9L893.8 1060.7L894.5 1063.5L895.2 1064.1L895.9 1061.8L896.6 1063.0L897.3 1061.9L898.0 1060.6L898.7 1061.8L899.4 1060.4L900.1 1061.7L900.8 1062.6L901.5 1063.2L902.2 1063.9L902.9 1062.0L903.6 1062.6L904.3 1062.9L905.0 1063.0L905.7 1058.9L906.4 1061.4L907.1 1063.3L907.8 1061.0L908.5 1062.7L909.2 1063.4L909.9 1060.1L910.6 1062.1L911.3 1062.6L912.0 1062.4L912.7 1060.5L913.4 1062.8L914.1 1061.7L914.8 1063.3L915.5 1062.9L916.2 1061.7L916.9 1062.6L917.6 1061.5L918.3 1061.5L919.0 1060.5L919.7 1062.1L920.4 1061.3L921.1 1062.5L921.8 1062.3L922.5 1061.6L923.2 1061.7L923.9 1063.2L924.6 1060.5L925.3 1064.8L926.0 1062.3L926.7 1064.9L927.4 1063.7L928.1 1061.8L928.8 1063.2L929.5 1062.6L930.2 1062.9L930.9 1063.3L931.6 1061.7L932.3 1061.6L933.0 1061.8L933.7 1060.7L934.4 1062.0L935.1 1062.6L935.8 1062.6L936.5 1062.5L937.2 1061.8L937.9 1063.3L938.6 1059.9L939.3 1061.8L940.0 1061.9L940.7 1063.4L941.4 1063.1L942.1 1063.3L942.8 1062.3L943.5 1063.4L944.2 1061.1L944.9 1062.4L945.6 1059.8L946.3 1064.3L947.0 1064.2L947.7 1061.6L948.4 1061.3L949.1 1059.8L949.8 1060.4L950.5 1062.4L951.2 1062.1L951.9 1060.5L952.6 1061.7L953.3 1061.5L954.0 1062.9L954.7 1063.1L955.4 1062.0L956.1 1062.4L956.8 1062.3L957.5 1059.8L958.2 1062.5L958.9 1062.2L959.6 1063.2L960.3 1060.1L961.0 1063.2L961.7 1061.5L962.4 1062.6L963.1 1063.8L963.8 1060.5L964.5 1060.7L965.2 1063.5L965.9 1060.9L966.6 1060.8L967.3 1063.0L968.0 1062.1L968.7 1063.2L969.4 1062.7L970.1 1062.3L970.8 1063.5L971.5 1064.9L972.2 1062.2L972.9 1064.1L973.6 1063.7L974.3 1062.5L975.0 1062.9L975.7 1061.2L976.4 1061.6L977.1 1062.7L977.8 1062.3L978.5 1063.9L979.2 1060.8L979.9 1062.0L980.6 1061.6L981.3 1062.1L982.0 1063.7L982.7 1060.9L983.4 1063.4L984.1 1061.6L984.8 1061.9L985.5 1063.5L986.2 1062.0L986.9 1063.1L987.6 1062.5L988.3 1062.1L989.0 1061.9L989.7 1060.3L990.4 1061.4L991.1 1062.5L991.8 1062.6L992.5 1060.6L993.2 1063.6L993.9 1063.0L994.6 1060.8L995.3 1061.1L996.0 1063.0L996.7 1060.2L997.4 1061.5L998.1 1062.3L998.8 1062.2L999.5 1062.3L1000.2 1062.8L1000.9 1061.4L1001.6 1061.8L1002.3 1064.8L1003.0 1060.7L1003.7 1061.8L1004.4 1062.5L1005.1 1061.6L1005.8 1063.8L1006.5 1062.5L1007.2 1063.3L1007.9 1059.2L1008.6 1063.8L1009.3 1063.8L1010.0 1061.5L1010.7 1064.0L1011.4 1062.7L1012.1 1063.5L1012.8 1064.6L1013.5 1062.5L1014.2 1061.2L1014.9 1062.4L1015.6 1060.9L1016.3 1061.4L1017.0 1061.5L1017.7 1061.5L1018.4 1063.8L1019.1 1063.4L1019.8 1061.3L1020.5 1063.8L1021.2 1060.4L1021.9 1061.6L1022.6 1062.2L1023.3 1063.8L1024.0 1063.3L1024.7 1062.6L1025.4 1064.0L1026.1 1063.3L1026.8 1064.1L1027.5 1061.5L1028.2 1060.4L1028.9 1061.9L1029.6 1063.4L1030.3 1062.7L1031.0 1063.5L1031.7 1063.3L1032.4 1063.1L1033.1 1063.4L1033.8 1061.6L1034.5 1063.8L1035.2 1061.2L1035.9 1062.3L1036.6 1060.7L1037.3 1063.1L1038.0 1060.6L1038.7 1064.1L1039.4 1060.8L1040.1 1062.8L1040.8 1062.3L1041.5 1061.4L1042.2 1063.9L1042.9 1061.9L1043.6 1064.2L1044.3 1061.2L1045.0 1061.5L1045.7 1060.0L1046.4 1063.1L1047.1 1063.5L1047.8 1062.7L1048.5 1062.3L1049.2 1061.3L1049.9 1065.3L1050.6 1063.3L1051.3 1060.2L1052.0 1062.1L1052.7 1059.3L1053.4 1063.4L1054.1 1064.8L1054.8 1064.2L1055.5 1062.4L1056.2 1061.7L1056.9 1060.8L1057.6 1063.1L1058.3 1061.6L1059.0 1062.0L1059.7 1058.7L1060.4 1062.1L1061.1 1063.5L1061.8 1064.5L1062.5 1061.0L1063.2 1062.5L1063.9 1061.1L1064.6 1061.0L1065.3 1061.2L1066.0 1063.5L1066.7 1062.8L1067.4 1063.6L1068.1 1063.0L1068.8 1062.0L1069.5 1061.0L1070.2 1062.0L1070.9 1060.7L1071.6 1064.9L1072.3 1062.8L1073.0 1062.0L1073.7 1064.9L1074.4 1062.0L1075.1 1063.1L1075.8 1062.3L1076.5 1062.9L1077.2 1062.0L1077.9 1060.9L1078.6 1064.2L1079.3 1060.9L1080.0 1059.8L1080.7 1064.1L1081.4 1062.7L1082.1 1063.5L1082.8 1062.1L1083.5 1064.3L1084.2 1064.6L1084.9 1061.0L1085.6 1063.3L1086.3 1061.7L1087.0 1060.5L1087.7 1062.1L1088.4 1063.1L1089.1 1060.8L1089.8 1060.9L1090.5 1063.9L1091.2 1062.4L1091.9 1062.9L1092.6 1061.0L1093.3 1061.6L1094.0 1062.5L1094.7 1062.6L1095.4 1062.5L1096.1 1064.3L1096.8 1062.5L1097.5 1060.5L1098.2 1061.3L1098.9 1062.2L1099.6 1063.9L1100.3 1061.5L1101.0 1061.8L1101.7 1062.2L1102.4 1061.4L1103.1 1061.2L1103.8 1061.9L1104.5 1063.4L1105.2 1062.8L1105.9 1061.8L1106.6 1062.6L1107.3 1060.6L1108.0 1063.3L1108.7 1063.0L1109.4 1062.4L1110.1 1060.0L1110.8 1064.4L1111.5 1058.4L1112.2 1060.7L1112.9 1060.7L1113.6 1062.6L1114.3 1059.8L1115.0 1061.8L1115.7 1061.2L1116.4 1060.9L1117.1 1062.0L1117.8 1062.4L1118.5 1060.8L1119.2 1059.5L1119.9 1056.5L1120.6 1060.3L1121.3 1057.3L1122.0 1054.6L1122.7 1056.1L1123.4 1056.9L1124.1 1054.4L1124.8 1053.0L1125.5 1057.4L1126.2 1056.1L1126.9 1056.6L1127.6 1058.3L1128.3 1055.3L1129.0 1058.7L1129.7 1059.2L1130.4 1062.7L1131.1 1059.8L1131.8 1060.1L1132.5 1059.4L1133.2 1060.3L1133.9 1061.2L1134.6 1061.9L1135.3 1061.5L1136.0 1064.2L1136.7 1062.5L1137.4 1062.7L1138.1 1061.9L1138.8 1062.8L1139.5 1061.4L1140.2 1060.2L1140.9 1062.6L1141.6 1061.1L1142.3 1063.8L1143.0 1061.3L1143.7 1059.5L1144.4 1062.3L1145.1 1063.5L1145.8 1062.0L1146.5 1062.5L1147.2 1062.5L1147.9 1064.4L1148.6 1062.5L1149.3 1062.2L1150.0 1061.6L1150.7 1060.3L1151.4 1064.0L1152.1 1063.7L1152.8 1061.2L1153.5 1063.1L1154.2 1062.7L1154.9 1061.9L1155.6 1062.0L1156.3 1063.3L1157.0 1060.9L1157.7 1061.7L1158.4 1062.3L1159.1 1062.3L1159.8 1062.1L1160.5 1062.6L1161.2 1063.0L1161.9 1061.3L1162.6 1062.5L1163.3 1061.7L1164.0 1064.2L1164.7 1060.7L1165.4 1062.1L1166.1 1063.2L1166.8 1062.0L1167.5 1062.0L1168.2 1061.7L1168.9 1062.8L1169.6 1061.0L1170.3 1062.3L1171.0 1062.3L1171.7 1060.6L1172.4 1062.7L1173.1 1061.8L1173.8 1062.8L1174.5 1063.5L1175.2 1062.8L1175.9 1061.0L1176.6 1062.8L1177.3 1060.5L1178.0 1061.5L1178.7 1064.4L1179.4 1062.4L1180.1 1064.3L1180.8 1062.2L1181.5 1062.4L1182.2 1061.1L1182.9 1063.6L1183.6 1062.2L1184.3 1063.2L1185.0 1063.0L1185.7 1063.1L1186.4 1062.8L1187.1 1062.4L1187.8 1062.4L1188.5 1061.6L1189.2 1059.9L1189.9 1063.0L1190.6 1065.0L1191.3 1063.8L1192.0 1065.3L1192.7 1063.1L1193.4 1061.3L1194.1 1061.3L1194.8 1063.4L1195.5 1059.9L1196.2 1062.3L1196.9 1063.4L1197.6 1061.4L1198.3 1063.1L1199.0 1062.1L1199.7 1062.7L1200.4 1063.9L1201.1 1062.3L1201.8 1064.1L1202.5 1064.1L1203.2 1061.6L1203.9 1065.3L1204.6 1061.0L1205.3 1062.4L1206.0 1063.4L1206.7 1059.7L1207.4 1063.7L1208.1 1063.9L1208.8 1062.3L1209.5 1062.8L1210.2 1062.7L1210.9 1062.2L1211.6 1063.8L1212.3 1062.0L1213.0 1062.4L1213.7 1062.9L1214.4 1063.5L1215.1 1063.8L1215.8 1060.6L1216.5 1060.0L1217.2 1062.3L1217.9 1062.4L1218.6 1061.1L1219.3 1062.8L1220.0 1063.2L1220.7 1062.9L1221.4 1064.4L1222.1 1061.1L1222.8 1062.4L1223.5 1064.7L1224.2 1063.2L1224.9 1061.0L1225.6 1062.6L1226.3 1063.8L1227.0 1064.9L1227.7 1063.1L1228.4 1063.8L1229.1 1061.0L1229.8 1062.0L1230.5 1063.8L1231.2 1061.1L1231.9 1062.2L1232.6 1060.0L1233.3 1064.1L1234.0 1062.1L1234.7 1062.9L1235.4 1060.4L1236.1 1060.6L1236.8 1064.4L1237.5 1061.7L1238.2 1061.5L1238.9 1062.8L1239.6 1062.8L1240.3 1059.7L1241.0 1060.9L1241.7 1062.1L1242.4 1062.0L1243.1 1062.4L1243.8 1061.4L1244.5 1061.6L1245.2 1062.2L1245.9 1061.0L1246.6 1060.8L1247.3 1061.1L1248.0 1061.8L1248.7 1061.5L1249.4 1061.1L1250.1 1061.3L1250.8 1061.5L1251.5 1061.9L1252.2 1061.8L1252.9 1059.8L1253.6 1062.4L1254.3 1059.2L1255.0 1061.7L1255.7 1060.0L1256.4 1061.5L1257.1 1061.9L1257.8 1056.1L1258.5 1060.9L1259.2 1060.3L1259.9 1059.0L1260.6 1059.7L1261.3 1058.2L1262.0 1058.4L1262.7 1056.4L1263.4 1057.9L1264.1 1056.8L1264.8 1056.0L1265.5 1053.2L1266.2 1055.0L1266.9 1053.8L1267.6 1049.8L1268.3 1047.8L1269.0 1046.1L1269.7 1045.6L1270.4 1044.3L1271.1 1040.5L1271.8 1037.5L1272.5 1039.3L1273.2 1037.9L1273.9 1037.8L1274.6 1038.4L1275.3 1037.1L1276.0 1039.6L1276.7 1040.6L1277.4 1043.0L1278.1 1045.8L1278.8 1046.1L1279.5 1046.7L1280.2 1050.9L1280.9 1051.8L1281.6 1052.1L1282.3 1051.5L1283.0 1053.8L1283.7 1056.0L1284.4 1057.4L1285.1 1056.8L1285.8 1058.6L1286.5 1057.9L1287.2 1058.6L1287.9 1060.1L1288.6 1059.5L1289.3 1060.3L1290.0 1061.4L1290.7 1061.9L1291.4 1060.0L1292.1 1060.5L1292.8 1059.4L1293.5 1059.5L1294.2 1061.5L1294.9 1060.6L1295.6 1059.1L1296.3 1062.0L1297.0 1060.5L1297.7 1061.2L1298.4 1062.1L1299.1 1062.1L1299.8 1061.6L1300.5 1059.3L1301.2 1062.4L1301.9 1061.1L1302.6 1060.1L1303.3 1059.2L1304.0 1063.5L1304.7 1062.1L1305.4 1062.1L1306.1 1062.7L1306.8 1061.9L1307.5 1060.3L1308.2 1062.9L1308.9 1063.3L1309.6 1062.7L1310.3 1064.0L1311.0 1064.4L1311.7 1061.2L1312.4 1061.6L1313.1 1063.2L1313.8 1062.4L1314.5 1062.5L1315.2 1063.3L1315.9 1063.1L1316.6 1061.7L1317.3 1062.4L1318.0 1061.4L1318.7 1062.0L1319.4 1061.0L1320.1 1059.9L1320.8 1061.7L1321.5 1061.6L1322.2 1063.4L1322.9 1064.2L1323.6 1062.4L1324.3 1062.9L1325.0 1061.6L1325.7 1061.2L1326.4 1062.0L1327.1 1062.0L1327.8 1062.7L1328.5 1062.5L1329.2 1064.4L1329.9 1062.1L1330.6 1060.4L1331.3 1062.6L1332.0 1061.6L1332.7 1062.7L1333.4 1063.8L1334.1 1061.7L1334.8 1062.3L1335.5 1063.1L1336.2 1061.3L1336.9 1062.7L1337.6 1063.1L1338.3 1063.4L1339.0 1063.8L1339.7 1063.1L1340.4 1062.9L1341.1 1060.8L1341.8 1059.3L1342.5 1061.3L1343.2 1064.2L1343.9 1062.6L1344.6 1059.8L1345.3 1062.0L1346.0 1062.9L1346.7 1060.3L1347.4 1063.2L1348.1 1061.1L1348.8 1063.8L1349.5 1062.5L1350.2 1066.2L1350.9 1060.9L1351.6 1062.9L1352.3 1060.7L1353.0 1063.9L1353.7 1062.7L1354.4 1062.0L1355.1 1062.6L1355.8 1061.1L1356.5 1061.7L1357.2 1061.0L1357.9 1061.3L1358.6 1062.7L1359.3 1063.8L1360.0 1063.6L1360.7 1063.1L1361.4 1061.9L1362.1 1063.1L1362.8 1061.5L1363.5 1062.8L1364.2 1063.5L1364.9 1062.3L1365.6 1062.0L1366.3 1062.0L1367.0 1063.3L1367.7 1062.2L1368.4 1060.8L1369.1 1062.0L1369.8 1061.3L1370.5 1064.3L1371.2 1062.5L1371.9 1060.8L1372.6 1062.8L1373.3 1063.4L1374.0 1063.0L1374.7 1062.1L1375.4 1062.7L1376.1 1062.9L1376.8 1063.7L1377.5 1063.0L1378.2 1065.2L1378.9 1062.3L1379.6 1064.3L1380.3 1062.5L1381.0 1060.5L1381.7 1061.1L1382.4 1060.3L1383.1 1060.4L1383.8 1063.9L1384.5 1061.7L1385.2 1063.2L1385.9 1060.4L1386.6 1062.5L1387.3 1061.2L1388.0 1063.5L1388.7 1062.2L1389.4 1061.9L1390.1 1059.8L1390.8 1065.0L1391.5 1063.0L1392.2 1063.4L1392.9 1060.9L1393.6 1061.6L1394.3 1062.8L1395.0 1060.2L1395.7 1064.0L1396.4 1062.7L1397.1 1062.3L1397.8 1062.1L1398.5 1062.0L1399.2 1058.6L1399.9 1063.9L1400.6 1063.0L1401.3 1063.6L1402.0 1061.7L1402.7 1060.9L1403.4 1063.5L1404.1 1060.3L1404.8 1061.0L1405.5 1062.4L1406.2 1062.7L1406.9 1059.6L1407.6 1060.7L1408.3 1060.8L1409.0 1060.4L1409.7 1059.2L1410.4 1060.8L1411.1 1059.0L1411.8 1059.0L1412.5 1056.2L1413.2 1058.4L1413.9 1055.8L1414.6 1058.6L1415.3 1057.9L1416.0 1056.3L1416.7 1056.7L1417.4 1056.2L1418.1 1055.5L1418.8 1055.8L1419.5 1055.0L1420.2 1054.3L1420.9 1053.8L1421.6 1056.7L1422.3 1054.9L1423.0 1054.7L1423.7 1055.7L1424.4 1054.6L1425.1 1054.9L1425.8 1056.5L1426.5 1057.2L1427.2 1057.2L1427.9 1055.0L1428.6 1057.3L1429.3 1057.6L1430.0 1058.6L1430.7 1057.4L1431.4 1057.6L1432.1 1059.1L1432.8 1058.5L1433.5 1058.7L1434.2 1060.2L1434.9 1061.6L1435.6 1060.9L1436.3 1062.3L1437.0 1060.0L1437.7 1062.2L1438.4 1061.5L1439.1 1060.6L1439.8 1061.3L1440.5 1060.9L1441.2 1061.7L1441.9 1061.2L1442.6 1063.6L1443.3 1061.7L1444.0 1060.5L1444.7 1062.0L1445.4 1062.7L1446.1 1061.9L1446.8 1063.4L1447.5 1061.3L1448.2 1061.4L1448.9 1064.3L1449.6 1062.4L1450.3 1063.1L1451.0 1063.0L1451.7 1063.1L1452.4 1062.5L1453.1 1062.2L1453.8 1063.8L1454.5 1061.9L1455.2 1062.6L1455.9 1063.3L1456.6 1062.0L1457.3 1060.7L1458.0 1063.0L1458.7 1063.8L1459.4 1062.8L1460.1 1060.5L1460.8 1063.3L1461.5 1064.9L1462.2 1060.7L1462.9 1059.3L1463.6 1062.2L1464.3 1062.6L1465.0 1063.5L1465.7 1063.5L1466.4 1058.7L1467.1 1063.2L1467.8 1063.0L1468.5 1062.7L1469.2 1062.5L1469.9 1059.8L1470.6 1063.4L1471.3 1063.0L1472.0 1062.1L1472.7 1063.8L1473.4 1061.7L1474.1 1062.3L1474.8 1062.7L1475.5 1060.3L1476.2 1062.1L1476.9 1063.6L1477.6 1063.5L1478.3 1061.2L1479.0 1061.6L1479.7 1061.3L1480.4 1062.3L1481.1 1062.5L1481.8 1060.7L1482.5 1062.9L1483.2 1062.6L1483.9 1062.5L1484.6 1061.8L1485.3 1062.3L1486.0 1060.5L1486.7 1062.8L1487.4 1062.8L1488.1 1062.4L1488.8 1061.1L1489.5 1064.0L1490.2 1063.8L1490.9 1060.3L1491.6 1063.0L1492.3 1061.8L1493.0 1059.4L1493.7 1063.0L1494.4 1063.2L1495.1 1063.2L1495.8 1062.5L1496.5 1061.5L1497.2 1061.6L1497.9 1062.8L1498.6 1060.3L1499.3 1061.4L1500.0 1061.6L1500.7 1062.6L1501.4 1059.1L1502.1 1062.0L1502.8 1061.0L1503.5 1058.5L1504.2 1061.7L1504.9 1059.5L1505.6 1061.3L1506.3 1061.7L1507.0 1058.3L1507.7 1058.1L1508.4 1059.2L1509.1 1056.7L1509.8 1059.5L1510.5 1058.6L1511.2 1059.3L1511.9 1055.8L1512.6 1058.0L1513.3 1058.3L1514.0 1055.6L1514.7 1058.8L1515.4 1056.2L1516.1 1058.2L1516.8 1056.6L1517.5 1059.3L1518.2 1060.6L1518.9 1059.0L1519.6 1059.2L1520.3 1061.0L1521.0 1059.3L1521.7 1060.2L1522.4 1061.3L1523.1 1061.1L1523.8 1062.7L1524.5 1062.5L1525.2 1063.6L1525.9 1061.5L1526.6 1063.0L1527.3 1060.9L1528.0 1063.0L1528.7 1064.1L1529.4 1064.9L1530.1 1060.8L1530.8 1062.1L1531.5 1063.2L1532.2 1061.4L1532.9 1063.1L1533.6 1063.2L1534.3 1062.0L1535.0 1061.9L1535.7 1061.5L1536.4 1063.0L1537.1 1064.1L1537.8 1063.0L1538.5 1065.9L1539.2 1060.9L1539.9 1062.0L1540.6 1063.5L1541.3 1061.3L1542.0 1063.1L1542.7 1063.6L1543.4 1062.9L1544.1 1062.4L1544.8 1063.8L1545.5 1063.2L1546.2 1063.6L1546.9 1063.4L1547.6 1061.9L1548.3 1061.4L1549.0 1062.3L1549.7 1062.9L1550.4 1062.5L1551.1 1063.8L1551.8 1063.0L1552.5 1063.9L1553.2 1062.9L1553.9 1061.9L1554.6 1063.7L1555.3 1063.3L1556.0 1061.7L1556.7 1062.3L1557.4 1066.0L1558.1 1058.8L1558.8 1064.1L1559.5 1062.8L1560.2 1062.7L1560.9 1062.4L1561.6 1062.1L1562.3 1065.5L1563.0 1062.2L1563.7 1062.4L1564.4 1063.7L1565.1 1063.2L1565.8 1062.5L1566.5 1062.4L1567.2 1061.1L1567.9 1064.0L1568.6 1061.5L1569.3 1059.8L1570.0 1063.9L1570.7 1063.6L1571.4 1063.1L1572.1 1062.1L1572.8 1064.1L1573.5 1061.4L1574.2 1060.1L1574.9 1062.9L1575.6 1063.6L1576.3 1063.4L1577.0 1065.2L1577.7 1063.7L1578.4 1062.4L1579.1 1062.5L1579.8 1063.7L1580.5 1062.6L1581.2 1062.5L1581.9 1060.6L1582.6 1062.3L1583.3 1061.1L1584.0 1063.0L1584.7 1062.8L1585.4 1063.5L1586.1 1064.8L1586.8 1062.5L1587.5 1064.4L1588.2 1061.3L1588.9 1062.9L1589.6 1063.8L1590.3 1065.0L1591.0 1061.4L1591.7 1062.4L1592.4 1062.8L1593.1 1062.6L1593.8 1061.5L1594.5 1060.7L1595.2 1061.2L1595.9 1062.6L1596.6 1061.1L1597.3 1064.8L1598.0 1064.1L1598.7 1060.4L1599.4 1062.1L1600.1 1064.2L1600.8 1064.4L1601.5 1064.0L1602.2 1060.9L1602.9 1062.2L1603.6 1064.2L1604.3 1062.8L1605.0 1062.1L1605.7 1063.3L1606.4 1063.8L1607.1 1062.8L1607.8 1062.9L1608.5 1063.9L1609.2 1062.0L1609.9 1061.6L1610.6 1063.6L1611.3 1061.2L1612.0 1063.2L1612.7 1061.8L1613.4 1063.6L1614.1 1061.2L1614.8 1064.0L1615.5 1061.9L1616.2 1062.3L1616.9 1061.6L1617.6 1062.4L1618.3 1061.5L1619.0 1061.2L1619.7 1063.9L1620.4 1063.3L1621.1 1064.1L1621.8 1061.0L1622.5 1060.2L1623.2 1060.7L1623.9 1063.4L1624.6 1063.6L1625.3 1060.4L1626.0 1063.8L1626.7 1062.1L1627.4 1061.2L1628.1 1062.5L1628.8 1063.3L1629.5 1062.3L1630.2 1062.4L1630.9 1061.6L1631.6 1060.9L1632.3 1062.1L1633.0 1060.6L1633.7 1063.3L1634.4 1061.5L1635.1 1064.1L1635.8 1060.6L1636.5 1064.2L1637.2 1061.5L1637.9 1061.5L1638.6 1062.9L1639.3 1063.6L1640.0 1062.5L1640.7 1062.1L1641.4 1064.9L1642.1 1063.1L1642.8 1061.1L1643.5 1062.2L1644.2 1064.5L1644.9 1062.9L1645.6 1063.5L1646.3 1064.9L1647.0 1061.7L1647.7 1062.9L1648.4 1061.7L1649.1 1062.4L1649.8 1063.1L1650.5 1060.8L1651.2 1062.6L1651.9 1062.6L1652.6 1063.7L1653.3 1061.7L1654.0 1060.9L1654.7 1062.9L1655.4 1061.0L1656.1 1062.6L1656.8 1063.0L1657.5 1061.3L1658.2 1062.2L1658.9 1061.1L1659.6 1058.9L1660.3 1060.6L1661.0 1059.8L1661.7 1062.3L1662.4 1061.0L1663.1 1062.1L1663.8 1062.2L1664.5 1063.5L1665.2 1061.8L1665.9 1061.7L1666.6 1062.8L1667.3 1064.1L1668.0 1062.1L1668.7 1062.5L1669.4 1061.9L1670.1 1061.2L1670.8 1060.2L1671.5 1062.0L1672.2 1061.7L1672.9 1061.7L1673.6 1064.4L1674.3 1060.1L1675.0 1062.3L1675.7 1061.5L1676.4 1063.3L1677.1 1061.5L1677.8 1064.1L1678.5 1061.5L1679.2 1062.7L1679.9 1062.9L1680.6 1061.4L1681.3 1062.7L1682.0 1061.7L1682.7 1060.6L1683.4 1060.7L1684.1 1061.9L1684.8 1063.6L1685.5 1060.8L1686.2 1061.9L1686.9 1060.3L1687.6 1061.5L1688.3 1059.5L1689.0 1060.1L1689.7 1060.9L1690.4 1059.9L1691.1 1060.4L1691.8 1061.9L1692.5 1060.4L1693.2 1059.6L1693.9 1058.8L1694.6 1057.6L1695.3 1061.4L1696.0 1059.7L1696.7 1059.5L1697.4 1059.9L1698.1 1060.3L1698.8 1060.2L1699.5 1058.4L1700.2 1057.4L1700.9 1056.2L1701.6 1057.0L1702.3 1057.0L1703.0 1057.9L1703.7 1056.9L1704.4 1055.2L1705.1 1056.3L1705.8 1052.9L1706.5 1052.3L1707.2 1051.1L1707.9 1049.9L1708.6 1049.5L1709.3 1047.1L1710.0 1045.2L1710.7 1045.4L1711.4 1039.4L1712.1 1036.9L1712.8 1034.5L1713.5 1031.6L1714.2 1027.7L1714.9 1022.5L1715.6 1018.0L1716.3 1013.8L1717.0 1011.2L1717.7 1006.1L1718.4 1002.5L1719.1 1005.1L1719.8 1005.1L1720.5 1010.2L1721.2 1017.2L1721.9 1021.4L1722.6 1029.3L1723.3 1030.5L1724.0 1033.6L1724.7 1041.6L1725.4 1045.6L1726.1 1046.6L1726.8 1050.0L1727.5 1051.8L1728.2 1053.3L1728.9 1052.8L1729.6 1053.4L1730.3 1057.0L1731.0 1057.4L1731.7 1057.6L1732.4 1058.9L1733.1 1059.8L1733.8 1057.5L1734.5 1060.2L1735.2 1061.3L1735.9 1061.0L1736.6 1060.7L1737.3 1061.0L1738.0 1058.6L1738.7 1059.9L1739.4 1061.9L1740.1 1062.6L1740.8 1061.5L1741.5 1060.5L1742.2 1061.0L1742.9 1062.3L1743.6 1063.8L1744.3 1062.4L1745.0 1060.9L1745.7 1062.3L1746.4 1062.2L1747.1 1064.6L1747.8 1062.5L1748.5 1061.9L1749.2 1061.8L1749.9 1060.4L1750.6 1060.7L1751.3 1061.4L1752.0 1061.1L1752.7 1062.3L1753.4 1062.2L1754.1 1063.3L1754.8 1064.0L1755.5 1062.4L1756.2 1062.0L1756.9 1060.0L1757.6 1062.7L1758.3 1063.1L1759.0 1061.4L1759.7 1061.9L1760.4 1061.5L1761.1 1063.6L1761.8 1063.1L1762.5 1063.9L1763.2 1061.0L1763.9 1065.6L1764.6 1061.4L1765.3 1061.2L1766.0 1062.7L1766.7 1061.8L1767.4 1064.7L1768.1 1062.0L1768.8 1061.7L1769.5 1063.7L1770.2 1064.0L1770.9 1061.5L1771.6 1062.0L1772.3 1062.1L1773.0 1062.4L1773.7 1064.6L1774.4 1064.1L1775.1 1063.9L1775.8 1064.1L1776.5 1059.1L1777.2 1061.0L1777.9 1062.5L1778.6 1061.7L1779.3 1064.6L1780.0 1060.5L1780.7 1062.6L1781.4 1061.9L1782.1 1060.6L1782.8 1062.2L1783.5 1062.7L1784.2 1063.2L1784.9 1061.7L1785.6 1063.6L1786.3 1063.0L1787.0 1063.6L1787.7 1060.3L1788.4 1062.1L1789.1 1061.9L1789.8 1063.4L1790.5 1061.8L1791.2 1062.1L1791.9 1061.3L1792.6 1061.2L1793.3 1061.6L1794.0 1063.8L1794.7 1061.4L1795.4 1059.8L1796.1 1063.0L1796.8 1062.1L1797.5 1063.3L1798.2 1063.3L1798.9 1062.3L1799.6 1062.2L1800.3 1062.0L1801.0 1062.7L1801.7 1061.8L1802.4 1062.9L1803.1 1064.4L1803.8 1061.9L1804.5 1061.9L1805.2 1061.9L1805.9 1063.4L1806.6 1063.5L1807.3 1064.4L1808.0 1063.6L1808.7 1062.9L1809.4 1063.3L1810.1 1061.2L1810.8 1063.4L1811.5 1062.9L1812.2 1065.2L1812.9 1064.4L1813.6 1061.8L1814.3 1062.1L1815.0 1063.8L1815.7 1060.3L1816.4 1061.7L1817.1 1063.2L1817.8 1063.5L1818.5 1063.0L1819.2 1064.2L1819.9 1062.4L1820.6 1062.9L1821.3 1062.5L1822.0 1061.5L1822.7 1062.8L1823.4 1062.1L1824.1 1062.9L1824.8 1059.6L1825.5 1062.9L1826.2 1062.1L1826.9 1062.0L1827.6 1062.8L1828.3 1062.2L1829.0 1063.9L1829.7 1064.3L1830.4 1063.8L1831.1 1063.9L1831.8 1063.2L1832.5 1062.8L1833.2 1061.3L1833.9 1062.3L1834.6 1064.2L1835.3 1063.7L1836.0 1062.2L1836.7 1062.9L1837.4 1064.1L1838.1 1062.6L1838.8 1064.7L1839.5 1061.9L1840.2 1063.7L1840.9 1063.6L1841.6 1063.0L1842.3 1063.2L1843.0 1063.5L1843.7 1060.1L1844.4 1063.4L1845.1 1062.7L1845.8 1063.3L1846.5 1064.2L1847.2 1061.2L1847.9 1062.7L1848.6 1063.2L1849.3 1062.5L1850.0 1064.2L1850.7 1063.4L1851.4 1062.2L1852.1 1063.8L1852.8 1063.8L1853.5 1062.3L1854.2 1063.6L1854.9 1063.3L1855.6 1063.2L1856.3 1061.3L1857.0 1064.4L1857.7 1063.6L1858.4 1062.8L1859.1 1063.2L1859.8 1063.2L1860.5 1062.5L1861.2 1062.1L1861.9 1062.9L1862.6 1062.1L1863.3 1062.2L1864.0 1061.4L1864.7 1062.5L1865.4 1064.0L1866.1 1063.1L1866.8 1062.9L1867.5 1062.5L1868.2 1062.3L1868.9 1061.0L1869.6 1064.8L1870.3 1062.0L1871.0 1061.0L1871.7 1063.3L1872.4 1063.1L1873.1 1062.2L1873.8 1061.1L1874.5 1061.2L1875.2 1064.7L1875.9 1062.7L1876.6 1062.1L1877.3 1065.1L1878.0 1062.2L1878.7 1061.7L1879.4 1063.5L1880.1 1059.7L1880.8 1064.7L1881.5 1061.0L1882.2 1063.2L1882.9 1060.8L1883.6 1063.4L1884.3 1062.1L1885.0 1062.3L1885.7 1062.0L1886.4 1063.9L1887.1 1064.8L1887.8 1062.7L1888.5 1062.5L1889.2 1062.2L1889.9 1063.5L1890.6 1061.6L1891.3 1067.1L1892.0 1062.6L1892.7 1064.9L1893.4 1063.0L1894.1 1061.2L1894.8 1061.0L1895.5 1062.3L1896.2 1062.0L1896.9 1062.5L1897.6 1061.5L1898.3 1065.7L1899.0 1065.4L1899.7 1060.7L1900.4 1063.4L1901.1 1064.3L1901.8 1062.4L1902.5 1062.6L1903.2 1064.2L1903.9 1063.5L1904.6 1061.4L1905.3 1064.3L1906.0 1062.3L1906.7 1065.1L1907.4 1061.7L1908.1 1060.1L1908.8 1063.0L1909.5 1064.3L1910.2 1063.5L1910.9 1063.0L1911.6 1061.7L1912.3 1063.9L1913.0 1060.6L1913.7 1063.8L1914.4 1061.4L1915.1 1062.1L1915.8 1061.2L1916.5 1061.7L1917.2 1064.6L1917.9 1061.4L1918.6 1063.0L1919.3 1061.8L1920.0 1064.0L1920.7 1061.2L1921.4 1062.8L1922.1 1063.9L1922.8 1065.5L1923.5 1061.4L1924.2 1061.7L1924.9 1062.7L1925.6 1064.6L1926.3 1061.6L1927.0 1063.8L1927.7 1062.0L1928.4 1061.5L1929.1 1060.9L1929.8 1063.0L1930.5 1064.0L1931.2 1062.7L1931.9 1060.2L1932.6 1062.1L1933.3 1064.0L1934.0 1063.8L1934.7 1063.1L1935.4 1064.6L1936.1 1061.2L1936.8 1061.3L1937.5 1065.7L1938.2 1063.6L1938.9 1062.5L1939.6 1060.6L1940.3 1059.6L1941.0 1063.8L1941.7 1060.3L1942.4 1060.4L1943.1 1062.7L1943.8 1064.6L1944.5 1062.3L1945.2 1063.2L1945.9 1062.3L1946.6 1063.3L1947.3 1060.8L1948.0 1065.4L1948.7 1061.6L1949.4 1063.5L1950.1 1060.3L1950.8 1065.0L1951.5 1063.3L1952.2 1061.6L1952.9 1062.0L1953.6 1064.1L1954.3 1062.6L1955.0 1062.7L1955.7 1064.4L1956.4 1061.7L1957.1 1063.7L1957.8 1065.2L1958.5 1064.9L1959.2 1064.1L1959.9 1063.2L1960.6 1061.6L1961.3 1064.6L1962.0 1062.0L1962.7 1064.3L1963.4 1062.4L1964.1 1062.8L1964.8 1062.8L1965.5 1063.6L1966.2 1062.3L1966.9 1063.0L1967.6 1062.2L1968.3 1063.5L1969.0 1063.2L1969.7 1063.4L1970.4 1061.8L1971.1 1063.2L1971.8 1059.8L1972.5 1063.5L1973.2 1062.9L1973.9 1061.6L1974.6 1063.7L1975.3 1062.0L1976.0 1063.2L1976.7 1060.3L1977.4 1063.4L1978.1 1063.6L1978.8 1061.7L1979.5 1063.5L1980.2 1062.4L1980.9 1064.5L1981.6 1063.6L1982.3 1061.3L1983.0 1062.6L1983.7 1060.7L1984.4 1062.4L1985.1 1063.5L1985.8 1063.8L1986.5 1062.7L1987.2 1062.5L1987.9 1063.0L1988.6 1062.1L1989.3 1063.2L1990.0 1064.2L1990.7 1063.1L1991.4 1063.9L1992.1 1061.9L1992.8 1062.2L1993.5 1063.3L1994.2 1065.3L1994.9 1064.1L1995.6 1064.9L1996.3 1062.9L1997.0 1064.4L1997.7 1060.8L1998.4 1063.5L1999.1 1060.3L1999.8 1064.4L2000.5 1063.5L2001.2 1064.3L2001.9 1063.4L2002.6 1062.3L2003.3 1062.0L2004.0 1063.1L2004.7 1064.7L2005.4 1063.7L2006.1 1062.2L2006.8 1062.2L2007.5 1062.0L2008.2 1062.6L2008.9 1062.8L2009.6 1062.3L2010.3 1062.9L2011.0 1061.0L2011.7 1064.8L2012.4 1063.2L2013.1 1064.8L2013.8 1063.3L2014.5 1062.7L2015.2 1063.0L2015.9 1063.2L2016.6 1062.1L2017.3 1062.4L2018.0 1065.2L2018.7 1064.0L2019.4 1062.3L2020.1 1063.5L2020.8 1061.9L2021.5 1064.6L2022.2 1061.7L2022.9 1064.0L2023.6 1062.9L2024.3 1063.0L2025.0 1061.9L2025.7 1062.6L2026.4 1062.0L2027.1 1061.9L2027.8 1063.5L2028.5 1066.0L2029.2 1062.5L2029.9 1064.1L2030.6 1062.9L2031.3 1062.1L2032.0 1064.5L2032.7 1063.7L2033.4 1064.3L2034.1 1063.0L2034.8 1063.1L2035.5 1061.9L2036.2 1062.6L2036.9 1065.0L2037.6 1060.2L2038.3 1063.4L2039.0 1064.7L2039.7 1063.9L2040.4 1064.0L2041.1 1062.6L2041.8 1064.3L2042.5 1064.3L2043.2 1062.9L2043.9 1065.0L2044.6 1062.3L2045.3 1059.9L2046.0 1062.9L2046.7 1062.8L2047.4 1061.9L2048.1 1062.4L2048.8 1062.3L2049.5 1060.7L2050.2 1064.4L2050.9 1062.9L2051.6 1066.2L2052.3 1062.9L2053.0 1063.4L2053.7 1061.1L2054.4 1064.1L2055.1 1061.6L2055.8 1063.6L2056.5 1064.0L2057.2 1063.8L2057.9 1061.9L2058.6 1061.9L2059.3 1063.8L2060.0 1064.3L2060.7 1064.6L2061.4 1062.9L2062.1 1062.8L2062.8 1065.1L2063.5 1062.2L2064.2 1063.8L2064.9 1062.5L2065.6 1061.2L2066.3 1061.5L2067.0 1063.4L2067.7 1063.2L2068.4 1063.5L2069.1 1062.5L2069.8 1059.3L2070.5 1063.2L2071.2 1062.7L2071.9 1060.9L2072.6 1062.3L2073.3 1064.9L2074.0 1061.9L2074.7 1063.5L2075.4 1062.8L2076.1 1063.7L2076.8 1061.8L2077.5 1061.3L2078.2 1063.4L2078.9 1062.0L2079.6 1062.8L2080.3 1062.5L2081.0 1064.0L2081.7 1063.1L2082.4 1063.0L2083.1 1061.6L2083.8 1060.9L2084.5 1061.8L2085.2 1063.8L2085.9 1063.6L2086.6 1063.5L2087.3 1062.3L2088.0 1061.6L2088.7 1064.2L2089.4 1063.0L2090.1 1063.4L2090.8 1061.6L2091.5 1061.9L2092.2 1063.5L2092.9 1063.6L2093.6 1061.5L2094.3 1063.1L2095.0 1061.3L2095.7 1064.2L2096.4 1063.5L2097.1 1065.4L2097.8 1064.5L2098.5 1061.9L2099.2 1062.9L2099.9 1062.1L2100.6 1062.8L2101.3 1059.9L2102.0 1062.6L2102.7 1062.7L2103.4 1061.0L2104.1 1063.3L2104.8 1062.6L2105.5 1063.3L2106.2 1063.8L2106.9 1062.6L2107.6 1063.4L2108.3 1061.8L2109.0 1063.6L2109.7 1062.5L2110.4 1061.8L2111.1 1062.2L2111.8 1060.7L2112.5 1061.6L2113.2 1061.9L2113.9 1061.7L2114.6 1062.2L2115.3 1061.5L2116.0 1062.0L2116.7 1059.7L2117.4 1062.3L2118.1 1062.8L2118.8 1063.0L2119.5 1063.3L2120.2 1061.8L2120.9 1061.8L2121.6 1061.3L2122.3 1061.2L2123.0 1061.8L2123.7 1063.2L2124.4 1059.4L2125.1 1060.7L2125.8 1061.5L2126.5 1059.8L2127.2 1061.3L2127.9 1058.9L2128.6 1059.8L2129.3 1057.9L2130.0 1059.8L2130.7 1058.0L2131.4 1058.6L2132.1 1054.7L2132.8 1048.4L2133.5 1044.8L2134.2 1048.5L2134.9 1052.6L2135.6 1053.9L2136.3 1053.7L2137.0 1053.5L2137.7 1053.8L2138.4 1051.3L2139.1 1051.8L2139.8 1047.2L2140.5 1051.1L2141.2 1049.9L2141.9 1048.7L2142.6 1048.5L2143.3 1046.9L2144.0 1049.2L2144.7 1049.1L2145.4 1048.3L2146.1 1050.0L2146.8 1052.0L2147.5 1052.2L2148.2 1053.2L2148.9 1053.0L2149.6 1055.4L2150.3 1055.2L2151.0 1056.9L2151.7 1059.2L2152.4 1054.9L2153.1 1057.2L2153.8 1058.4L2154.5 1058.0L2155.2 1060.5L2155.9 1059.3L2156.6 1062.0L2157.3 1061.2L2158.0 1061.1L2158.7 1060.8L2159.4 1062.0L2160.1 1061.8L2160.8 1063.1L2161.5 1062.0L2162.2 1062.8L2162.9 1062.2L2163.6 1062.2L2164.3 1060.0L2165.0 1062.0L2165.7 1062.5L2166.4 1060.7L2167.1 1060.5L2167.8 1061.8L2168.5 1062.5L2169.2 1060.2L2169.9 1062.6L2170.6 1063.4L2171.3 1058.5L2172.0 1062.6L2172.7 1062.9L2173.4 1061.6L2174.1 1063.1L2174.8 1062.9L2175.5 1060.9L2176.2 1062.9L2176.9 1063.3L2177.6 1060.9L2178.3 1063.1L2179.0 1061.4L2179.7 1059.3L2180.4 1058.2L2181.1 1056.3L2181.8 1056.4" fill="none" stroke="#f00" stroke-width="2.8" stroke-linejoin="round"/>
<path d="M124.5 1413.4L125.2 1407.9L125.9 1411.5L126.6 1410.3L127.3 1410.5L128.0 1410.8L128.7 1408.6L129.4 1410.8L130.1 1410.0L130.8 1415.0L131.5 1411.3L132.2 1410.6L132.9 1410.7L133.6 1410.3L134.3 1409.8L135.0 1410.6L135.7 1411.7L136.4 1410.8L137.1 1412.2L137.8 1410.9L138.5 1411.1L139.2 1413.0L139.9 1411.8L140.6 1410.5L141.3 1410.9L142.0 1411.8L142.7 1413.5L143.4 1410.8L144.1 1410.8L144.8 1412.3L145.5 1410.1L146.2 1410.8L146.9 1412.2L147.6 1411.9L148.3 1411.3L149.0 1412.0L149.7 1407.8L150.4 1412.4L151.1 1410.0L151.8 1409.2L152.5 1411.5L153.2 1412.0L153.9 1410.7L154.6 1409.9L155.3 1411.3L156.0 1411.2L156.7 1412.9L157.4 1412.1L158.1 1411.5L158.8 1412.6L159.5 1411.0L160.2 1410.1L160.9 1412.0L161.6 1412.0L162.3 1411.0L163.0 1410.3L163.7 1411.6L164.4 1408.3L165.1 1412.1L165.8 1411.9L166.5 1409.3L167.2 1411.4L167.9 1410.2L168.6 1412.2L169.3 1408.9L170.0 1410.2L170.7 1412.2L171.4 1412.7L172.1 1408.8L172.8 1410.8L173.5 1411.8L174.2 1410.6L174.9 1413.3L175.6 1409.9L176.3 1411.8L177.0 1410.1L177.7 1413.1L178.4 1411.4L179.1 1411.0L179.8 1409.3L180.5 1413.4L181.2 1412.3L181.9 1412.3L182.6 1412.8L183.3 1411.8L184.0 1410.7L184.7 1410.5L185.4 1410.5L186.1 1413.1L186.8 1409.7L187.5 1410.7L188.2 1411.1L188.9 1411.7L189.6 1412.2L190.3 1410.0L191.0 1409.4L191.7 1411.5L192.4 1413.0L193.1 1412.4L193.8 1411.8L194.5 1411.1L195.2 1411.9L195.9 1411.2L196.6 1412.5L197.3 1410.6L198.0 1411.7L198.7 1411.4L199.4 1412.2L200.1 1411.8L200.8 1414.6L201.5 1413.4L202.2 1413.4L202.9 1409.1L203.6 1411.2L204.3 1410.9L205.0 1412.2L205.7 1408.9L206.4 1413.0L207.1 1412.9L207.8 1410.0L208.5 1410.4L209.2 1410.7L209.9 1411.7L210.6 1412.4L211.3 1414.1L212.0 1411.4L212.7 1412.6L213.4 1411.8L214.1 1413.8L214.8 1412.6L215.5 1413.3L216.2 1410.0L216.9 1411.4L217.6 1410.7L218.3 1413.5L219.0 1412.5L219.7 1411.3L220.4 1411.2L221.1 1412.3L221.8 1410.9L222.5 1410.6L223.2 1412.3L223.9 1414.7L224.6 1411.4L225.3 1411.1L226.0 1410.3L226.7 1410.1L227.4 1412.4L228.1 1412.8L228.8 1411.8L229.5 1412.2L230.2 1411.9L230.9 1411.9L231.6 1410.0L232.3 1411.2L233.0 1411.9L233.7 1410.9L234.4 1411.2L235.1 1410.8L235.8 1411.4L236.5 1412.8L237.2 1411.3L237.9 1411.6L238.6 1412.8L239.3 1412.6L240.0 1413.9L240.7 1409.3L241.4 1412.9L242.1 1411.3L242.8 1412.0L243.5 1412.9L244.2 1413.2L244.9 1413.1L245.6 1412.1L246.3 1413.8L247.0 1411.6L247.7 1411.7L248.4 1412.9L249.1 1411.3L249.8 1414.5L250.5 1413.1L251.2 1414.5L251.9 1411.9L252.6 1411.5L253.3 1412.1L254.0 1412.8L254.7 1411.2L255.4 1412.4L256.1 1411.9L256.8 1413.9L257.5 1411.2L258.2 1413.2L258.9 1411.2L259.6 1410.8L260.3 1411.1L261.0 1410.6L261.7 1412.2L262.4 1413.2L263.1 1412.2L263.8 1412.8L264.5 1414.0L265.2 1412.4L265.9 1412.3L266.6 1411.7L267.3 1410.1L268.0 1413.0L268.7 1409.9L269.4 1412.8L270.1 1412.0L270.8 1413.4L271.5 1412.0L272.2 1411.1L272.9 1412.5L273.6 1411.4L274.3 1411.8L275.0 1410.8L275.7 1411.9L276.4 1411.9L277.1 1411.1L277.8 1411.9L278.5 1409.6L279.2 1411.9L279.9 1410.7L280.6 1413.5L281.3 1413.7L282.0 1409.8L282.7 1412.3L283.4 1412.0L284.1 1410.9L284.8 1412.8L285.5 1411.6L286.2 1410.1L286.9 1411.9L287.6 1412.0L288.3 1412.3L289.0 1410.7L289.7 1412.9L290.4 1413.1L291.1 1410.8L291.8 1411.4L292.5 1412.1L293.2 1411.6L293.9 1414.3L294.6 1412.5L295.3 1411.0L296.0 1411.3L296.7 1412.2L297.4 1415.0L298.1 1412.1L298.8 1412.4L299.5 1412.9L300.2 1412.2L300.9 1415.0L301.6 1411.7L302.3 1413.2L303.0 1412.5L303.7 1413.1L304.4 1410.9L305.1 1414.5L305.8 1412.2L306.5 1412.4L307.2 1411.3L307.9 1411.5L308.6 1413.1L309.3 1413.6L310.0 1413.3L310.7 1413.9L311.4 1413.3L312.1 1412.5L312.8 1413.5L313.5 1413.2L314.2 1412.4L314.9 1413.4L315.6 1414.0L316.3 1412.8L317.0 1412.1L317.7 1413.4L318.4 1414.8L319.1 1412.3L319.8 1412.5L320.5 1412.4L321.2 1414.1L321.9 1410.4L322.6 1413.0L323.3 1414.0L324.0 1411.7L324.7 1414.4L325.4 1413.3L326.1 1412.0L326.8 1409.5L327.5 1410.8L328.2 1412.0L328.9 1414.9L329.6 1411.6L330.3 1414.9L331.0 1412.6L331.7 1413.1L332.4 1412.8L333.1 1410.1L333.8 1412.1L334.5 1413.0L335.2 1411.4L335.9 1411.2L336.6 1413.2L337.3 1412.0L338.0 1410.8L338.7 1412.0L339.4 1413.9L340.1 1412.3L340.8 1414.0L341.5 1414.7L342.2 1412.9L342.9 1411.5L343.6 1411.3L344.3 1412.9L345.0 1414.0L345.7 1413.3L346.4 1413.6L347.1 1412.4L347.8 1413.3L348.5 1412.4L349.2 1412.6L349.9 1411.4L350.6 1411.1L351.3 1412.4L352.0 1411.7L352.7 1411.9L353.4 1413.9L354.1 1412.9L354.8 1416.6L355.5 1414.2L356.2 1412.3L356.9 1414.0L357.6 1413.5L358.3 1412.3L359.0 1414.4L359.7 1412.2L360.4 1409.5L361.1 1414.1L361.8 1412.4L362.5 1415.0L363.2 1412.4L363.9 1411.8L364.6 1415.1L365.3 1411.9L366.0 1413.5L366.7 1415.0L367.4 1413.4L368.1 1413.2L368.8 1413.4L369.5 1414.3L370.2 1412.3L370.9 1414.0L371.6 1414.0L372.3 1416.1L373.0 1412.9L373.7 1412.2L374.4 1414.2L375.1 1412.9L375.8 1413.7L376.5 1413.5L377.2 1414.8L377.9 1412.6L378.6 1413.3L379.3 1410.3L380.0 1412.4L380.7 1415.3L381.4 1412.6L382.1 1412.6L382.8 1412.0L383.5 1414.2L384.2 1413.7L384.9 1412.1L385.6 1414.3L386.3 1413.8L387.0 1414.4L387.7 1412.8L388.4 1415.6L389.1 1414.0L389.8 1413.4L390.5 1412.9L391.2 1413.3L391.9 1414.6L392.6 1413.3L393.3 1414.9L394.0 1414.3L394.7 1415.2L395.4 1414.6L396.1 1413.6L396.8 1411.4L397.5 1414.0L398.2 1414.6L398.9 1413.9L399.6 1414.4L400.3 1413.1L401.0 1413.3L401.7 1412.6L402.4 1415.4L403.1 1413.9L403.8 1413.2L404.5 1412.2L405.2 1413.6L405.9 1415.5L406.6 1414.4L407.3 1412.9L408.0 1415.5L408.7 1415.5L409.4 1415.0L410.1 1414.8L410.8 1415.2L411.5 1414.5L412.2 1414.8L412.9 1412.9L413.6 1415.7L414.3 1414.2L415.0 1416.3L415.7 1411.5L416.4 1414.8L417.1 1415.1L417.8 1413.5L418.5 1414.5L419.2 1414.9L419.9 1414.7L420.6 1413.3L421.3 1413.8L422.0 1415.2L422.7 1415.6L423.4 1414.1L424.1 1414.1L424.8 1414.3L425.5 1415.3L426.2 1412.8L426.9 1412.5L427.6 1414.2L428.3 1412.8L429.0 1413.4L429.7 1414.2L430.4 1414.7L431.1 1412.8L431.8 1415.1L432.5 1412.0L433.2 1414.8L433.9 1412.3L434.6 1412.7L435.3 1415.0L436.0 1413.7L436.7 1413.3L437.4 1413.7L438.1 1414.8L438.8 1414.2L439.5 1414.2L440.2 1415.5L440.9 1413.4L441.6 1413.7L442.3 1413.7L443.0 1415.7L443.7 1415.5L444.4 1415.9L445.1 1414.3L445.8 1414.1L446.5 1415.4L447.2 1413.9L447.9 1415.4L448.6 1415.2L449.3 1413.5L450.0 1414.3L450.7 1414.2L451.4 1416.5L452.1 1417.5L452.8 1414.3L453.5 1414.4L454.2 1411.7L454.9 1414.7L455.6 1414.4L456.3 1413.2L457.0 1415.4L457.7 1412.6L458.4 1414.2L459.1 1414.7L459.8 1413.0L460.5 1415.5L461.2 1415.8L461.9 1412.8L462.6 1412.8L463.3 1415.2L464.0 1414.5L464.7 1413.0L465.4 1414.1L466.1 1414.4L466.8 1414.3L467.5 1415.5L468.2 1415.0L468.9 1416.6L469.6 1416.1L470.3 1415.3L471.0 1415.8L471.7 1416.1L472.4 1415.3L473.1 1413.0L473.8 1415.5L474.5 1414.6L475.2 1416.4L475.9 1414.6L476.6 1415.1L477.3 1414.9L478.0 1416.5L478.7 1414.7L479.4 1414.1L480.1 1411.6L480.8 1413.9L481.5 1414.6L482.2 1414.4L482.9 1414.7L483.6 1416.7L484.3 1413.9L485.0 1414.4L485.7 1414.1L486.4 1415.1L487.1 1412.9L487.8 1413.4L488.5 1414.2L489.2 1414.9L489.9 1414.1L490.6 1413.6L491.3 1413.1L492.0 1414.7L492.7 1415.8L493.4 1414.4L494.1 1414.1L494.8 1414.3L495.5 1412.6L496.2 1413.2L496.9 1413.1L497.6 1413.6L498.3 1413.0L499.0 1411.3L499.7 1413.8L500.4 1410.1L501.1 1411.1L501.8 1411.1L502.5 1409.9L503.2 1408.8L503.9 1403.7L504.6 1403.5L505.3 1394.8L506.0 1387.6L506.7 1375.9L507.4 1372.7L508.1 1381.3L508.8 1392.9L509.5 1395.2L510.2 1403.5L510.9 1406.4L511.6 1403.0L512.3 1411.8L513.0 1411.8L513.7 1411.8L514.4 1413.7L515.1 1411.5L515.8 1412.9L516.5 1415.3L517.2 1414.6L517.9 1410.9L518.6 1409.7L519.3 1412.6L520.0 1415.2L520.7 1413.4L521.4 1413.8L522.1 1414.8L522.8 1413.1L523.5 1414.4L524.2 1415.2L524.9 1412.9L525.6 1414.8L526.3 1413.6L527.0 1414.9L527.7 1413.8L528.4 1415.9L529.1 1417.5L529.8 1413.5L530.5 1411.8L531.2 1413.9L531.9 1414.9L532.6 1415.7L533.3 1415.7L534.0 1413.5L534.7 1410.5L535.4 1416.0L536.1 1413.2L536.8 1413.9L537.5 1414.2L538.2 1415.4L538.9 1415.3L539.6 1415.4L540.3 1415.5L541.0 1413.3L541.7 1414.8L542.4 1414.5L543.1 1414.8L543.8 1415.9L544.5 1414.1L545.2 1413.6L545.9 1413.6L546.6 1414.0L547.3 1415.3L548.0 1413.4L548.7 1415.8L549.4 1414.7L550.1 1414.1L550.8 1412.7L551.5 1414.6L552.2 1415.1L552.9 1412.1L553.6 1415.6L554.3 1416.1L555.0 1414.5L555.7 1414.6L556.4 1416.9L557.1 1415.4L557.8 1412.7L558.5 1413.6L559.2 1413.3L559.9 1413.1L560.6 1410.2L561.3 1413.7L562.0 1411.6L562.7 1412.1L563.4 1411.2L564.1 1411.7L564.8 1409.5L565.5 1408.1L566.2 1406.5L566.9 1408.8L567.6 1405.7L568.3 1406.8L569.0 1404.7L569.7 1403.3L570.4 1405.6L571.1 1403.1L571.8 1405.8L572.5 1404.8L573.2 1406.9L573.9 1405.9L574.6 1407.4L575.3 1410.6L576.0 1410.4L576.7 1410.9L577.4 1411.0L578.1 1412.6L578.8 1410.8L579.5 1411.5L580.2 1413.0L580.9 1412.4L581.6 1412.8L582.3 1413.7L583.0 1413.7L583.7 1413.7L584.4 1416.1L585.1 1415.4L585.8 1415.7L586.5 1414.2L587.2 1413.7L587.9 1412.6L588.6 1414.0L589.3 1411.9L590.0 1413.7L590.7 1415.4L591.4 1416.4L592.1 1415.7L592.8 1413.5L593.5 1415.1L594.2 1413.6L594.9 1413.7L595.6 1414.5L596.3 1415.6L597.0 1417.7L597.7 1415.7L598.4 1417.4L599.1 1414.9L599.8 1414.3L600.5 1416.3L601.2 1416.7L601.9 1414.0L602.6 1414.8L603.3 1413.0L604.0 1414.5L604.7 1415.8L605.4 1414.6L606.1 1414.0L606.8 1413.0L607.5 1415.2L608.2 1415.7L608.9 1415.5L609.6 1415.0L610.3 1413.2L611.0 1416.9L611.7 1414.7L612.4 1414.6L613.1 1415.6L613.8 1412.2L614.5 1414.7L615.2 1412.4L615.9 1415.2L616.6 1416.4L617.3 1415.3L618.0 1412.6L618.7 1414.4L619.4 1415.0L620.1 1415.0L620.8 1413.2L621.5 1412.8L622.2 1415.4L622.9 1415.2L623.6 1414.8L624.3 1412.7L625.0 1416.9L625.7 1411.3L626.4 1414.3L627.1 1417.3L627.8 1414.6L628.5 1415.0L629.2 1413.3L629.9 1416.4L630.6 1413.2L631.3 1415.0L632.0 1414.9L632.7 1413.4L633.4 1415.8L634.1 1411.5L634.8 1413.8L635.5 1414.6L636.2 1414.1L636.9 1415.1L637.6 1415.7L638.3 1414.2L639.0 1413.8L639.7 1413.8L640.4 1413.9L641.1 1415.3L641.8 1413.9L642.5 1414.6L643.2 1413.9L643.9 1412.8L644.6 1414.7L645.3 1412.1L646.0 1413.1L646.7 1414.4L647.4 1410.7L648.1 1411.2L648.8 1408.1L649.5 1407.6L650.2 1403.4L650.9 1399.7L651.6 1390.9L652.3 1379.0L653.0 1372.9L653.7 1375.2L654.4 1384.1L655.1 1391.4L655.8 1397.5L656.5 1401.2L657.2 1403.1L657.9 1407.4L658.6 1410.9L659.3 1410.6L660.0 1410.3L660.7 1413.5L661.4 1411.6L662.1 1411.8L662.8 1411.4L663.5 1411.9L664.2 1413.0L664.9 1415.9L665.6 1413.4L666.3 1412.6L667.0 1413.2L667.7 1413.8L668.4 1412.1L669.1 1414.3L669.8 1415.1L670.5 1414.7L671.2 1415.1L671.9 1412.9L672.6 1412.4L673.3 1416.0L674.0 1415.8L674.7 1412.7L675.4 1414.8L676.1 1414.6L676.8 1415.3L677.5 1414.9L678.2 1414.1L678.9 1414.9L679.6 1414.9L680.3 1414.7L681.0 1412.5L681.7 1411.1L682.4 1413.8L683.1 1412.8L683.8 1415.1L684.5 1415.6L685.2 1415.1L685.9 1414.3L686.6 1414.9L687.3 1416.2L688.0 1413.9L688.7 1415.9L689.4 1415.6L690.1 1415.1L690.8 1416.5L691.5 1413.9L692.2 1415.9L692.9 1413.7L693.6 1413.8L694.3 1413.5L695.0 1415.3L695.7 1413.6L696.4 1414.8L697.1 1413.4L697.8 1416.0L698.5 1416.9L699.2 1415.0L699.9 1416.7L700.6 1415.4L701.3 1417.3L702.0 1414.8L702.7 1412.8L703.4 1416.4L704.1 1414.5L704.8 1413.3L705.5 1413.8L706.2 1412.6L706.9 1414.3L707.6 1413.2L708.3 1416.3L709.0 1415.2L709.7 1412.4L710.4 1412.6L711.1 1413.7L711.8 1412.0L712.5 1414.2L713.2 1414.2L713.9 1413.3L714.6 1413.5L715.3 1414.7L716.0 1415.8L716.7 1415.8L717.4 1414.0L718.1 1414.9L718.8 1412.9L719.5 1414.2L720.2 1412.5L720.9 1414.4L721.6 1412.0L722.3 1412.2L723.0 1413.2L723.7 1413.8L724.4 1411.3L725.1 1412.2L725.8 1412.9L726.5 1412.8L727.2 1411.4L727.9 1412.3L728.6 1411.6L729.3 1413.4L730.0 1412.1L730.7 1409.5L731.4 1408.1L732.1 1410.5L732.8 1411.4L733.5 1409.7L734.2 1410.0L734.9 1407.8L735.6 1406.0L736.3 1407.7L737.0 1406.0L737.7 1405.6L738.4 1401.7L739.1 1402.0L739.8 1399.2L740.5 1398.6L741.2 1394.1L741.9 1390.5L742.6 1386.1L743.3 1382.5L744.0 1373.4L744.7 1362.4L745.4 1348.3L746.1 1329.2L746.8 1305.7L747.5 1265.9L748.2 1222.0L748.9 1178.8L749.6 1155.5L750.3 1165.9L751.0 1204.0L751.7 1247.4L752.4 1285.9L753.1 1314.4L753.8 1338.5L754.5 1353.0L755.2 1366.7L755.9 1372.7L756.6 1382.1L757.3 1384.9L758.0 1388.9L758.7 1394.7L759.4 1396.0L760.1 1399.8L760.8 1399.9L761.5 1404.7L762.2 1404.1L762.9 1403.9L763.6 1406.5L764.3 1408.2L765.0 1407.0L765.7 1409.2L766.4 1411.6L767.1 1410.7L767.8 1410.1L768.5 1409.9L769.2 1411.6L769.9 1409.5L770.6 1407.9L771.3 1411.1L772.0 1410.8L772.7 1414.4L773.4 1412.7L774.1 1411.6L774.8 1411.5L775.5 1413.7L776.2 1412.2L776.9 1412.7L777.6 1413.4L778.3 1413.7L779.0 1413.9L779.7 1414.0L780.4 1415.5L781.1 1416.1L781.8 1412.1L782.5 1417.3L783.2 1414.4L783.9 1415.8L784.6 1413.5L785.3 1412.5L786.0 1414.8L786.7 1414.7L787.4 1415.7L788.1 1415.5L788.8 1413.6L789.5 1414.7L790.2 1415.7L790.9 1415.7L791.6 1411.6L792.3 1414.6L793.0 1414.8L793.7 1413.7L794.4 1413.5L795.1 1417.0L795.8 1414.7L796.5 1415.3L797.2 1414.3L797.9 1416.8L798.6 1417.4L799.3 1415.0L800.0 1415.9L800.7 1414.4L801.4 1417.5L802.1 1416.5L802.8 1414.4L803.5 1416.9L804.2 1415.9L804.9 1415.9L805.6 1415.9L806.3 1414.7L807.0 1414.9L807.7 1416.3L808.4 1415.5L809.1 1414.4L809.8 1418.0L810.5 1415.3L811.2 1414.9L811.9 1414.8L812.6 1416.4L813.3 1416.8L814.0 1415.9L814.7 1416.7L815.4 1413.8L816.1 1411.6L816.8 1415.1L817.5 1415.7L818.2 1416.3L818.9 1413.2L819.6 1415.6L820.3 1414.7L821.0 1416.1L821.7 1416.7L822.4 1416.7L823.1 1416.0L823.8 1412.2L824.5 1414.4L825.2 1416.7L825.9 1414.6L826.6 1414.5L827.3 1412.9L828.0 1417.2L828.7 1416.4L829.4 1414.7L830.1 1415.6L830.8 1415.7L831.5 1414.4L832.2 1415.5L832.9 1416.1L833.6 1416.5L834.3 1417.3L835.0 1415.8L835.7 1415.3L836.4 1416.3L837.1 1415.1L837.8 1414.3L838.5 1417.2L839.2 1415.4L839.9 1416.0L840.6 1416.6L841.3 1414.5L842.0 1416.6L842.7 1415.1L843.4 1415.7L844.1 1416.3L844.8 1415.0L845.5 1413.2L846.2 1415.5L846.9 1414.8L847.6 1416.9L848.3 1416.2L849.0 1415.2L849.7 1415.9L850.4 1417.5L851.1 1417.3L851.8 1416.3L852.5 1416.4L853.2 1415.6L853.9 1415.7L854.6 1416.6L855.3 1415.8L856.0 1416.3L856.7 1414.6L857.4 1413.9L858.1 1413.9L858.8 1415.4L859.5 1417.5L860.2 1417.4L860.9 1414.7L861.6 1414.1L862.3 1416.9L863.0 1416.5L863.7 1414.3L864.4 1417.2L865.1 1416.2L865.8 1417.5L866.5 1416.4L867.2 1416.0L867.9 1415.6L868.6 1414.8L869.3 1415.7L870.0 1415.2L870.7 1417.0L871.4 1414.8L872.1 1414.1L872.8 1416.8L873.5 1417.4L874.2 1417.7L874.9 1417.3L875.6 1414.2L876.3 1415.2L877.0 1415.3L877.7 1416.0L878.4 1413.4L879.1 1416.0L879.8 1416.3L880.5 1414.9L881.2 1416.1L881.9 1417.4L882.6 1416.1L883.3 1417.3L884.0 1417.2L884.7 1416.5L885.4 1416.5L886.1 1415.6L886.8 1417.5L887.5 1415.5L888.2 1415.2L888.9 1416.9L889.6 1415.2L890.3 1416.5L891.0 1417.3L891.7 1416.1L892.4 1416.2L893.1 1417.1L893.8 1416.9L894.5 1414.2L895.2 1414.5L895.9 1417.6L896.6 1416.5L897.3 1413.6L898.0 1414.4L898.7 1412.4L899.4 1414.9L900.1 1416.6L900.8 1416.2L901.5 1416.7L902.2 1414.7L902.9 1416.8L903.6 1418.4L904.3 1415.1L905.0 1417.7L905.7 1417.3L906.4 1416.9L907.1 1416.0L907.8 1414.7L908.5 1414.3L909.2 1417.0L909.9 1417.3L910.6 1417.6L911.3 1417.2L912.0 1417.2L912.7 1415.6L913.4 1414.7L914.1 1416.3L914.8 1416.7L915.5 1416.2L916.2 1414.3L916.9 1415.5L917.6 1414.3L918.3 1416.3L919.0 1414.9L919.7 1415.9L920.4 1416.5L921.1 1416.3L921.8 1417.8L922.5 1414.8L923.2 1413.5L923.9 1417.3L924.6 1417.8L925.3 1417.8L926.0 1416.5L926.7 1416.8L927.4 1416.3L928.1 1414.6L928.8 1415.5L929.5 1413.7L930.2 1415.5L930.9 1418.4L931.6 1414.3L932.3 1415.6L933.0 1417.5L933.7 1415.4L934.4 1414.8L935.1 1414.5L935.8 1415.3L936.5 1418.0L937.2 1416.6L937.9 1416.8L938.6 1415.5L939.3 1417.2L940.0 1416.3L940.7 1415.1L941.4 1415.6L942.1 1416.4L942.8 1417.6L943.5 1416.1L944.2 1416.8L944.9 1418.6L945.6 1415.2L946.3 1414.7L947.0 1417.4L947.7 1415.5L948.4 1416.1L949.1 1416.5L949.8 1415.8L950.5 1416.8L951.2 1415.8L951.9 1417.2L952.6 1414.8L953.3 1415.2L954.0 1416.3L954.7 1415.6L955.4 1417.0L956.1 1415.2L956.8 1415.6L957.5 1416.5L958.2 1415.6L958.9 1414.3L959.6 1414.8L960.3 1415.2L961.0 1415.6L961.7 1416.3L962.4 1413.5L963.1 1416.9L963.8 1418.4L964.5 1417.8L965.2 1416.0L965.9 1418.2L966.6 1417.6L967.3 1415.7L968.0 1416.6L968.7 1417.5L969.4 1416.5L970.1 1417.5L970.8 1416.7L971.5 1417.1L972.2 1415.9L972.9 1416.7L973.6 1415.8L974.3 1417.1L975.0 1414.2L975.7 1416.6L976.4 1417.7L977.1 1413.9L977.8 1416.2L978.5 1416.9L979.2 1415.2L979.9 1415.3L980.6 1415.8L981.3 1416.1L982.0 1417.4L982.7 1415.2L983.4 1417.5L984.1 1414.4L984.8 1415.3L985.5 1416.2L986.2 1417.7L986.9 1415.5L987.6 1413.7L988.3 1416.8L989.0 1416.2L989.7 1415.0L990.4 1415.0L991.1 1415.4L991.8 1416.4L992.5 1417.1L993.2 1414.5L993.9 1419.0L994.6 1416.2L995.3 1415.8L996.0 1417.1L996.7 1416.4L997.4 1419.1L998.1 1417.6L998.8 1415.8L999.5 1415.8L1000.2 1415.7L1000.9 1415.9L1001.6 1417.1L1002.3 1415.5L1003.0 1418.2L1003.7 1416.2L1004.4 1416.1L1005.1 1417.4L1005.8 1413.9L1006.5 1411.8L1007.2 1417.0L1007.9 1416.3L1008.6 1416.3L1009.3 1416.8L1010.0 1415.6L1010.7 1416.1L1011.4 1414.7L1012.1 1414.0L1012.8 1417.8L1013.5 1415.2L1014.2 1415.4L1014.9 1418.0L1015.6 1417.6L1016.3 1415.7L1017.0 1415.7L1017.7 1416.2L1018.4 1415.2L1019.1 1417.0L1019.8 1416.5L1020.5 1416.5L1021.2 1417.2L1021.9 1417.2L1022.6 1418.5L1023.3 1418.1L1024.0 1414.3L1024.7 1417.4L1025.4 1415.0L1026.1 1414.6L1026.8 1417.2L1027.5 1415.5L1028.2 1415.9L1028.9 1417.6L1029.6 1415.5L1030.3 1415.2L1031.0 1416.7L1031.7 1417.8L1032.4 1417.0L1033.1 1414.5L1033.8 1415.5L1034.5 1416.1L1035.2 1418.6L1035.9 1417.4L1036.6 1417.3L1037.3 1417.8L1038.0 1416.0L1038.7 1416.9L1039.4 1416.9L1040.1 1415.2L1040.8 1416.3L1041.5 1417.0L1042.2 1415.0L1042.9 1417.3L1043.6 1417.2L1044.3 1417.6L1045.0 1415.4L1045.7 1416.5L1046.4 1418.1L1047.1 1417.3L1047.8 1415.4L1048.5 1416.6L1049.2 1418.0L1049.9 1416.2L1050.6 1416.8L1051.3 1419.4L1052.0 1416.3L1052.7 1416.2L1053.4 1415.1L1054.1 1415.5L1054.8 1418.1L1055.5 1416.2L1056.2 1414.9L1056.9 1415.2L1057.6 1416.3L1058.3 1417.3L1059.0 1415.4L1059.7 1417.2L1060.4 1415.7L1061.1 1416.8L1061.8 1417.0L1062.5 1417.1L1063.2 1415.8L1063.9 1416.1L1064.6 1416.9L1065.3 1414.8L1066.0 1416.5L1066.7 1416.9L1067.4 1417.6L1068.1 1416.3L1068.8 1416.1L1069.5 1416.5L1070.2 1415.4L1070.9 1414.1L1071.6 1416.8L1072.3 1413.8L1073.0 1415.0L1073.7 1415.9L1074.4 1413.8L1075.1 1416.7L1075.8 1415.7L1076.5 1416.6L1077.2 1415.0L1077.9 1416.2L1078.6 1416.8L1079.3 1417.5L1080.0 1414.6L1080.7 1417.3L1081.4 1416.1L1082.1 1415.3L1082.8 1416.8L1083.5 1415.9L1084.2 1415.9L1084.9 1415.4L1085.6 1416.5L1086.3 1416.3L1087.0 1416.0L1087.7 1415.1L1088.4 1415.6L1089.1 1416.7L1089.8 1417.8L1090.5 1416.2L1091.2 1417.9L1091.9 1416.2L1092.6 1414.9L1093.3 1417.0L1094.0 1415.0L1094.7 1416.7L1095.4 1417.5L1096.1 1415.8L1096.8 1416.1L1097.5 1419.1L1098.2 1416.4L1098.9 1416.5L1099.6 1417.1L1100.3 1416.0L1101.0 1416.0L1101.7 1416.5L1102.4 1413.2L1103.1 1417.7L1103.8 1414.7L1104.5 1414.7L1105.2 1416.6L1105.9 1416.0L1106.6 1414.4L1107.3 1416.1L1108.0 1414.4L1108.7 1414.9L1109.4 1413.9L1110.1 1414.6L1110.8 1416.0L1111.5 1415.5L1112.2 1415.6L1112.9 1416.2L1113.6 1414.9L1114.3 1413.9L1115.0 1414.0L1115.7 1415.9L1116.4 1413.4L1117.1 1412.9L1117.8 1411.4L1118.5 1410.3L1119.2 1408.7L1119.9 1405.9L1120.6 1403.2L1121.3 1400.1L1122.0 1398.5L1122.7 1400.2L1123.4 1402.2L1124.1 1404.8L1124.8 1406.3L1125.5 1407.5L1126.2 1411.0L1126.9 1412.4L1127.6 1410.9L1128.3 1414.4L1129.0 1414.7L1129.7 1416.4L1130.4 1413.4L1131.1 1413.4L1131.8 1416.1L1132.5 1413.2L1133.2 1414.6L1133.9 1414.2L1134.6 1414.4L1135.3 1413.4L1136.0 1415.5L1136.7 1417.0L1137.4 1416.4L1138.1 1416.5L1138.8 1415.5L1139.5 1417.7L1140.2 1416.7L1140.9 1417.3L1141.6 1414.2L1142.3 1416.5L1143.0 1414.8L1143.7 1416.6L1144.4 1416.4L1145.1 1414.8L1145.8 1416.4L1146.5 1417.6L1147.2 1416.8L1147.9 1416.3L1148.6 1415.2L1149.3 1415.5L1150.0 1414.9L1150.7 1416.4L1151.4 1417.7L1152.1 1416.8L1152.8 1416.3L1153.5 1415.0L1154.2 1416.8L1154.9 1416.0L1155.6 1414.1L1156.3 1414.3L1157.0 1415.9L1157.7 1415.3L1158.4 1418.3L1159.1 1416.4L1159.8 1415.1L1160.5 1415.8L1161.2 1418.3L1161.9 1415.2L1162.6 1417.3L1163.3 1416.9L1164.0 1418.1L1164.7 1417.0L1165.4 1415.9L1166.1 1417.0L1166.8 1416.5L1167.5 1417.6L1168.2 1416.3L1168.9 1418.8L1169.6 1416.3L1170.3 1416.9L1171.0 1415.6L1171.7 1416.6L1172.4 1416.4L1173.1 1416.6L1173.8 1417.5L1174.5 1415.8L1175.2 1415.4L1175.9 1417.7L1176.6 1416.1L1177.3 1415.6L1178.0 1417.8L1178.7 1417.4L1179.4 1413.3L1180.1 1416.0L1180.8 1417.4L1181.5 1417.4L1182.2 1415.8L1182.9 1418.3L1183.6 1415.5L1184.3 1416.2L1185.0 1416.6L1185.7 1416.4L1186.4 1417.4L1187.1 1417.7L1187.8 1416.4L1188.5 1418.1L1189.2 1415.6L1189.9 1416.2L1190.6 1418.5L1191.3 1416.6L1192.0 1417.7L1192.7 1415.9L1193.4 1416.1L1194.1 1416.3L1194.8 1416.7L1195.5 1416.1L1196.2 1416.5L1196.9 1417.3L1197.6 1417.9L1198.3 1416.6L1199.0 1416.1L1199.7 1417.5L1200.4 1415.2L1201.1 1414.6L1201.8 1418.4L1202.5 1418.0L1203.2 1416.5L1203.9 1416.9L1204.6 1415.3L1205.3 1414.8L1206.0 1416.8L1206.7 1414.7L1207.4 1417.5L1208.1 1415.6L1208.8 1416.8L1209.5 1418.7L1210.2 1418.7L1210.9 1416.1L1211.6 1415.7L1212.3 1415.2L1213.0 1415.7L1213.7 1416.9L1214.4 1418.1L1215.1 1415.7L1215.8 1417.1L1216.5 1416.5L1217.2 1414.9L1217.9 1416.2L1218.6 1418.2L1219.3 1416.3L1220.0 1417.0L1220.7 1417.4L1221.4 1415.5L1222.1 1417.8L1222.8 1418.2L1223.5 1418.3L1224.2 1417.9L1224.9 1415.8L1225.6 1415.6L1226.3 1415.4L1227.0 1415.2L1227.7 1415.4L1228.4 1417.5L1229.1 1418.1L1229.8 1415.5L1230.5 1417.3L1231.2 1414.8L1231.9 1415.9L1232.6 1415.1L1233.3 1414.3L1234.0 1416.3L1234.7 1416.3L1235.4 1415.7L1236.1 1415.6L1236.8 1415.0L1237.5 1416.0L1238.2 1415.4L1238.9 1416.4L1239.6 1414.7L1240.3 1416.3L1241.0 1416.7L1241.7 1417.5L1242.4 1417.3L1243.1 1416.2L1243.8 1415.1L1244.5 1413.7L1245.2 1415.9L1245.9 1417.5L1246.6 1417.8L1247.3 1412.7L1248.0 1414.8L1248.7 1415.2L1249.4 1414.3L1250.1 1413.5L1250.8 1415.5L1251.5 1414.8L1252.2 1415.2L1252.9 1413.3L1253.6 1413.9L1254.3 1413.9L1255.0 1415.9L1255.7 1412.8L1256.4 1414.3L1257.1 1415.3L1257.8 1414.1L1258.5 1414.9L1259.2 1412.8L1259.9 1413.8L1260.6 1412.0L1261.3 1415.1L1262.0 1412.7L1262.7 1412.8L1263.4 1410.2L1264.1 1409.2L1264.8 1409.6L1265.5 1406.7L1266.2 1405.7L1266.9 1402.5L1267.6 1401.5L1268.3 1398.7L1269.0 1391.6L1269.7 1391.5L1270.4 1386.9L1271.1 1385.0L1271.8 1383.5L1272.5 1386.1L1273.2 1388.0L1273.9 1393.4L1274.6 1398.0L1275.3 1403.3L1276.0 1407.2L1276.7 1409.3L1277.4 1410.6L1278.1 1410.8L1278.8 1410.3L1279.5 1413.6L1280.2 1413.8L1280.9 1414.5L1281.6 1416.1L1282.3 1414.5L1283.0 1414.7L1283.7 1412.3L1284.4 1415.9L1285.1 1415.3L1285.8 1414.6L1286.5 1416.1L1287.2 1414.5L1287.9 1415.2L1288.6 1418.2L1289.3 1416.8L1290.0 1417.1L1290.7 1415.3L1291.4 1416.9L1292.1 1416.4L1292.8 1418.9L1293.5 1416.1L1294.2 1417.1L1294.9 1416.0L1295.6 1415.9L1296.3 1413.4L1297.0 1414.0L1297.7 1418.2L1298.4 1418.2L1299.1 1415.9L1299.8 1416.4L1300.5 1417.1L1301.2 1415.2L1301.9 1418.6L1302.6 1415.2L1303.3 1415.6L1304.0 1413.2L1304.7 1418.3L1305.4 1416.6L1306.1 1418.4L1306.8 1415.3L1307.5 1416.9L1308.2 1416.6L1308.9 1416.8L1309.6 1419.0L1310.3 1419.3L1311.0 1418.2L1311.7 1416.1L1312.4 1417.6L1313.1 1418.2L1313.8 1417.2L1314.5 1417.3L1315.2 1417.2L1315.9 1415.5L1316.6 1416.9L1317.3 1418.5L1318.0 1415.4L1318.7 1416.7L1319.4 1417.6L1320.1 1415.0L1320.8 1416.4L1321.5 1414.6L1322.2 1415.9L1322.9 1414.9L1323.6 1415.5L1324.3 1416.0L1325.0 1416.3L1325.7 1416.4L1326.4 1413.7L1327.1 1418.5L1327.8 1416.3L1328.5 1415.3L1329.2 1415.9L1329.9 1417.0L1330.6 1415.4L1331.3 1416.1L1332.0 1416.1L1332.7 1417.3L1333.4 1415.7L1334.1 1417.2L1334.8 1417.1L1335.5 1416.5L1336.2 1418.1L1336.9 1416.7L1337.6 1415.2L1338.3 1417.0L1339.0 1416.5L1339.7 1416.6L1340.4 1416.9L1341.1 1419.5L1341.8 1416.9L1342.5 1417.2L1343.2 1416.4L1343.9 1418.2L1344.6 1416.6L1345.3 1415.7L1346.0 1415.2L1346.7 1417.3L1347.4 1417.6L1348.1 1414.8L1348.8 1415.8L1349.5 1417.4L1350.2 1417.9L1350.9 1415.1L1351.6 1416.2L1352.3 1417.7L1353.0 1416.0L1353.7 1416.1L1354.4 1416.0L1355.1 1415.1L1355.8 1415.5L1356.5 1417.0L1357.2 1415.0L1357.9 1416.8L1358.6 1418.0L1359.3 1416.9L1360.0 1417.8L1360.7 1416.0L1361.4 1418.3L1362.1 1415.7L1362.8 1418.9L1363.5 1416.1L1364.2 1415.8L1364.9 1415.6L1365.6 1416.2L1366.3 1416.1L1367.0 1415.9L1367.7 1416.3L1368.4 1417.5L1369.1 1417.7L1369.8 1416.3L1370.5 1418.2L1371.2 1415.5L1371.9 1415.4L1372.6 1415.3L1373.3 1417.4L1374.0 1414.8L1374.7 1415.0L1375.4 1418.2L1376.1 1418.7L1376.8 1418.3L1377.5 1414.9L1378.2 1416.7L1378.9 1417.7L1379.6 1416.8L1380.3 1414.7L1381.0 1416.2L1381.7 1414.6L1382.4 1415.2L1383.1 1419.2L1383.8 1417.5L1384.5 1414.9L1385.2 1414.8L1385.9 1417.2L1386.6 1415.9L1387.3 1417.3L1388.0 1415.8L1388.7 1416.4L1389.4 1416.9L1390.1 1415.3L1390.8 1414.3L1391.5 1415.1L1392.2 1415.7L1392.9 1416.3L1393.6 1416.5L1394.3 1416.4L1395.0 1417.1L1395.7 1415.4L1396.4 1418.2L1397.1 1418.9L1397.8 1416.9L1398.5 1416.7L1399.2 1417.9L1399.9 1417.2L1400.6 1416.6L1401.3 1416.1L1402.0 1415.4L1402.7 1414.8L1403.4 1417.0L1404.1 1417.5L1404.8 1414.8L1405.5 1415.8L1406.2 1416.1L1406.9 1415.1L1407.6 1414.6L1408.3 1414.8L1409.0 1412.6L1409.7 1414.6L1410.4 1414.0L1411.1 1416.5L1411.8 1414.7L1412.5 1412.6L1413.2 1412.5L1413.9 1414.0L1414.6 1413.2L1415.3 1408.1L1416.0 1409.8L1416.7 1407.6L1417.4 1408.3L1418.1 1407.9L1418.8 1406.7L1419.5 1409.3L1420.2 1404.7L1420.9 1406.7L1421.6 1407.4L1422.3 1407.6L1423.0 1409.5L1423.7 1406.3L1424.4 1407.6L1425.1 1409.2L1425.8 1409.9L1426.5 1410.0L1427.2 1410.2L1427.9 1411.4L1428.6 1411.1L1429.3 1412.2L1430.0 1415.1L1430.7 1416.0L1431.4 1415.3L1432.1 1413.6L1432.8 1413.9L1433.5 1414.1L1434.2 1414.1L1434.9 1415.1L1435.6 1417.3L1436.3 1416.2L1437.0 1415.1L1437.7 1415.2L1438.4 1414.8L1439.1 1417.7L1439.8 1413.9L1440.5 1416.7L1441.2 1414.7L1441.9 1415.2L1442.6 1414.7L1443.3 1417.6L1444.0 1416.4L1444.7 1419.8L1445.4 1415.3L1446.1 1415.2L1446.8 1417.3L1447.5 1417.3L1448.2 1416.3L1448.9 1414.2L1449.6 1418.4L1450.3 1417.3L1451.0 1417.1L1451.7 1415.9L1452.4 1417.4L1453.1 1416.0L1453.8 1416.7L1454.5 1416.4L1455.2 1418.2L1455.9 1416.1L1456.6 1416.3L1457.3 1418.0L1458.0 1417.0L1458.7 1416.7L1459.4 1416.4L1460.1 1417.9L1460.8 1415.9L1461.5 1417.3L1462.2 1418.0L1462.9 1417.2L1463.6 1415.8L1464.3 1415.3L1465.0 1416.9L1465.7 1415.3L1466.4 1414.8L1467.1 1415.8L1467.8 1415.4L1468.5 1417.8L1469.2 1415.0L1469.9 1418.7L1470.6 1415.9L1471.3 1416.9L1472.0 1417.6L1472.7 1417.0L1473.4 1417.6L1474.1 1415.6L1474.8 1414.0L1475.5 1416.5L1476.2 1414.8L1476.9 1416.1L1477.6 1417.9L1478.3 1416.5L1479.0 1416.1L1479.7 1415.4L1480.4 1416.4L1481.1 1416.6L1481.8 1414.9L1482.5 1417.1L1483.2 1415.5L1483.9 1417.0L1484.6 1416.2L1485.3 1418.0L1486.0 1417.8L1486.7 1416.8L1487.4 1416.7L1488.1 1417.3L1488.8 1418.5L1489.5 1418.1L1490.2 1417.0L1490.9 1417.2L1491.6 1418.7L1492.3 1414.9L1493.0 1417.5L1493.7 1415.8L1494.4 1418.5L1495.1 1416.3L1495.8 1416.7L1496.5 1415.6L1497.2 1416.9L1497.9 1417.8L1498.6 1418.9L1499.3 1415.4L1500.0 1416.4L1500.7 1421.6L1501.4 1418.0L1502.1 1416.9L1502.8 1417.5L1503.5 1413.7L1504.2 1418.9L1504.9 1417.1L1505.6 1415.2L1506.3 1418.3L1507.0 1416.2L1507.7 1415.7L1508.4 1417.6L1509.1 1417.4L1509.8 1416.4L1510.5 1416.8L1511.2 1415.3L1511.9 1415.2L1512.6 1418.0L1513.3 1418.5L1514.0 1417.5L1514.7 1417.4L1515.4 1416.5L1516.1 1416.8L1516.8 1415.8L1517.5 1419.1L1518.2 1416.3L1518.9 1417.4L1519.6 1417.0L1520.3 1415.3L1521.0 1419.3L1521.7 1416.5L1522.4 1416.0L1523.1 1417.1L1523.8 1415.9L1524.5 1417.0L1525.2 1415.8L1525.9 1417.6L1526.6 1417.0L1527.3 1415.3L1528.0 1418.2L1528.7 1417.2L1529.4 1415.6L1530.1 1417.4L1530.8 1417.5L1531.5 1419.2L1532.2 1414.0L1532.9 1418.0L1533.6 1416.9L1534.3 1414.2L1535.0 1416.7L1535.7 1416.9L1536.4 1417.6L1537.1 1415.6L1537.8 1414.5L1538.5 1417.0L1539.2 1416.5L1539.9 1417.1L1540.6 1417.8L1541.3 1416.7L1542.0 1418.4L1542.7 1417.0L1543.4 1417.1L1544.1 1418.0L1544.8 1417.7L1545.5 1415.3L1546.2 1417.2L1546.9 1416.1L1547.6 1416.3L1548.3 1417.2L1549.0 1418.0L1549.7 1416.5L1550.4 1418.0L1551.1 1419.4L1551.8 1416.3L1552.5 1417.1L1553.2 1418.3L1553.9 1417.8L1554.6 1418.0L1555.3 1418.1L1556.0 1417.7L1556.7 1418.1L1557.4 1417.3L1558.1 1416.8L1558.8 1417.4L1559.5 1417.7L1560.2 1418.5L1560.9 1417.5L1561.6 1418.0L1562.3 1418.8L1563.0 1416.0L1563.7 1416.8L1564.4 1417.7L1565.1 1417.1L1565.8 1415.9L1566.5 1418.3L1567.2 1417.0L1567.9 1415.9L1568.6 1419.4L1569.3 1415.5L1570.0 1417.1L1570.7 1416.3L1571.4 1417.2L1572.1 1417.8L1572.8 1416.1L1573.5 1417.0L1574.2 1416.9L1574.9 1415.9L1575.6 1418.5L1576.3 1417.3L1577.0 1416.7L1577.7 1416.3L1578.4 1416.7L1579.1 1417.3L1579.8 1416.5L1580.5 1418.6L1581.2 1414.0L1581.9 1414.5L1582.6 1416.8L1583.3 1414.9L1584.0 1417.0L1584.7 1416.3L1585.4 1417.8L1586.1 1417.6L1586.8 1418.7L1587.5 1418.2L1588.2 1418.6L1588.9 1417.7L1589.6 1418.4L1590.3 1417.7L1591.0 1416.4L1591.7 1415.6L1592.4 1415.6L1593.1 1417.7L1593.8 1414.2L1594.5 1417.3L1595.2 1416.2L1595.9 1418.0L1596.6 1417.3L1597.3 1416.2L1598.0 1417.1L1598.7 1414.4L1599.4 1417.4L1600.1 1417.7L1600.8 1414.9L1601.5 1416.0L1602.2 1417.0L1602.9 1417.3L1603.6 1415.4L1604.3 1417.8L1605.0 1415.0L1605.7 1417.1L1606.4 1415.9L1607.1 1418.0L1607.8 1418.6L1608.5 1417.6L1609.2 1418.3L1609.9 1416.4L1610.6 1417.3L1611.3 1417.6L1612.0 1417.3L1612.7 1420.5L1613.4 1417.6L1614.1 1416.5L1614.8 1418.1L1615.5 1415.8L1616.2 1417.6L1616.9 1418.1L1617.6 1416.6L1618.3 1416.8L1619.0 1413.6L1619.7 1417.3L1620.4 1416.3L1621.1 1419.2L1621.8 1417.9L1622.5 1416.9L1623.2 1415.5L1623.9 1419.6L1624.6 1418.7L1625.3 1417.7L1626.0 1417.4L1626.7 1417.4L1627.4 1416.6L1628.1 1419.4L1628.8 1417.4L1629.5 1415.4L1630.2 1416.4L1630.9 1414.1L1631.6 1418.0L1632.3 1418.1L1633.0 1419.3L1633.7 1419.7L1634.4 1416.2L1635.1 1417.7L1635.8 1418.4L1636.5 1417.4L1637.2 1416.5L1637.9 1418.1L1638.6 1417.7L1639.3 1418.8L1640.0 1417.1L1640.7 1416.9L1641.4 1416.5L1642.1 1416.7L1642.8 1416.2L1643.5 1416.7L1644.2 1417.7L1644.9 1417.7L1645.6 1418.7L1646.3 1417.7L1647.0 1417.9L1647.7 1415.7L1648.4 1417.8L1649.1 1418.5L1649.8 1415.5L1650.5 1415.7L1651.2 1415.9L1651.9 1415.8L1652.6 1416.7L1653.3 1415.9L1654.0 1417.5L1654.7 1415.6L1655.4 1416.9L1656.1 1416.4L1656.8 1415.9L1657.5 1418.3L1658.2 1417.1L1658.9 1417.7L1659.6 1416.6L1660.3 1417.8L1661.0 1417.7L1661.7 1416.8L1662.4 1414.9L1663.1 1418.0L1663.8 1417.8L1664.5 1417.2L1665.2 1417.2L1665.9 1417.1L1666.6 1417.2L1667.3 1415.7L1668.0 1416.9L1668.7 1417.3L1669.4 1416.2L1670.1 1415.7L1670.8 1419.1L1671.5 1417.6L1672.2 1416.5L1672.9 1416.3L1673.6 1413.7L1674.3 1415.1L1675.0 1416.5L1675.7 1418.3L1676.4 1414.3L1677.1 1415.9L1677.8 1419.0L1678.5 1417.5L1679.2 1417.2L1679.9 1418.1L1680.6 1416.5L1681.3 1416.4L1682.0 1417.4L1682.7 1417.6L1683.4 1415.2L1684.1 1418.3L1684.8 1413.8L1685.5 1415.6L1686.2 1420.1L1686.9 1415.7L1687.6 1417.1L1688.3 1414.0L1689.0 1415.8L1689.7 1414.7L1690.4 1415.6L1691.1 1416.8L1691.8 1418.0L1692.5 1416.8L1693.2 1417.6L1693.9 1415.0L1694.6 1417.2L1695.3 1416.0L1696.0 1416.9L1696.7 1414.5L1697.4 1414.6L1698.1 1416.3L1698.8 1415.2L1699.5 1414.3L1700.2 1413.1L1700.9 1413.4L1701.6 1413.8L1702.3 1413.6L1703.0 1411.5L1703.7 1411.1L1704.4 1407.7L1705.1 1408.4L1705.8 1409.7L1706.5 1407.0L1707.2 1405.1L1707.9 1400.1L1708.6 1398.4L1709.3 1395.9L1710.0 1392.8L1710.7 1388.0L1711.4 1385.3L1712.1 1380.4L1712.8 1375.9L1713.5 1370.7L1714.2 1373.5L1714.9 1372.4L1715.6 1376.5L1716.3 1379.4L1717.0 1385.1L1717.7 1389.7L1718.4 1394.1L1719.1 1398.2L1719.8 1399.2L1720.5 1403.3L1721.2 1399.4L1721.9 1401.1L1722.6 1402.8L1723.3 1401.2L1724.0 1401.4L1724.7 1400.9L1725.4 1406.1L1726.1 1404.3L1726.8 1409.1L1727.5 1410.4L1728.2 1412.6L1728.9 1414.4L1729.6 1412.6L1730.3 1413.0L1731.0 1414.0L1731.7 1412.7L1732.4 1416.0L1733.1 1414.7L1733.8 1415.6L1734.5 1414.2L1735.2 1415.7L1735.9 1415.0L1736.6 1415.8L1737.3 1414.7L1738.0 1417.3L1738.7 1415.3L1739.4 1413.1L1740.1 1417.0L1740.8 1415.9L1741.5 1415.3L1742.2 1419.4L1742.9 1416.4L1743.6 1414.9L1744.3 1415.8L1745.0 1417.0L1745.7 1416.3L1746.4 1418.1L1747.1 1417.9L1747.8 1415.7L1748.5 1416.8L1749.2 1417.5L1749.9 1416.3L1750.6 1416.2L1751.3 1417.8L1752.0 1417.4L1752.7 1415.1L1753.4 1416.2L1754.1 1416.4L1754.8 1416.7L1755.5 1416.0L1756.2 1418.5L1756.9 1415.8L1757.6 1415.6L1758.3 1417.2L1759.0 1414.3L1759.7 1415.7L1760.4 1417.7L1761.1 1415.4L1761.8 1416.0L1762.5 1418.3L1763.2 1414.7L1763.9 1417.1L1764.6 1417.3L1765.3 1416.2L1766.0 1417.4L1766.7 1416.8L1767.4 1420.1L1768.1 1417.7L1768.8 1416.7L1769.5 1417.0L1770.2 1417.2L1770.9 1415.5L1771.6 1416.1L1772.3 1415.0L1773.0 1415.4L1773.7 1416.4L1774.4 1418.4L1775.1 1419.0L1775.8 1415.9L1776.5 1418.9L1777.2 1416.7L1777.9 1419.2L1778.6 1417.8L1779.3 1416.8L1780.0 1418.1L1780.7 1417.9L1781.4 1416.3L1782.1 1419.8L1782.8 1416.8L1783.5 1418.6L1784.2 1416.6L1784.9 1415.0L1785.6 1415.9L1786.3 1417.1L1787.0 1417.1L1787.7 1419.3L1788.4 1417.3L1789.1 1416.9L1789.8 1415.8L1790.5 1417.2L1791.2 1417.6L1791.9 1414.6L1792.6 1418.8L1793.3 1418.6L1794.0 1420.0L1794.7 1416.2L1795.4 1417.3L1796.1 1417.3L1796.8 1415.7L1797.5 1416.3L1798.2 1416.1L1798.9 1417.9L1799.6 1417.8L1800.3 1418.9L1801.0 1416.8L1801.7 1415.6L1802.4 1417.8L1803.1 1417.7L1803.8 1418.1L1804.5 1418.8L1805.2 1412.6L1805.9 1418.2L1806.6 1416.1L1807.3 1417.5L1808.0 1418.1L1808.7 1417.2L1809.4 1417.6L1810.1 1415.6L1810.8 1416.5L1811.5 1417.5L1812.2 1415.9L1812.9 1416.3L1813.6 1420.2L1814.3 1417.6L1815.0 1416.3L1815.7 1416.1L1816.4 1419.0L1817.1 1413.9L1817.8 1416.8L1818.5 1418.0L1819.2 1416.6L1819.9 1417.8L1820.6 1416.0L1821.3 1417.2L1822.0 1417.3L1822.7 1417.2L1823.4 1417.4L1824.1 1417.2L1824.8 1418.5L1825.5 1413.3L1826.2 1416.5L1826.9 1416.9L1827.6 1416.8L1828.3 1415.4L1829.0 1414.9L1829.7 1415.6L1830.4 1417.5L1831.1 1416.4L1831.8 1416.7L1832.5 1420.6L1833.2 1418.5L1833.9 1416.9L1834.6 1416.4L1835.3 1418.9L1836.0 1416.3L1836.7 1418.7L1837.4 1417.9L1838.1 1418.9L1838.8 1416.3L1839.5 1418.3L1840.2 1415.0L1840.9 1417.0L1841.6 1418.5L1842.3 1418.0L1843.0 1415.0L1843.7 1418.0L1844.4 1417.8L1845.1 1417.1L1845.8 1416.3L1846.5 1416.9L1847.2 1416.5L1847.9 1418.3L1848.6 1417.8L1849.3 1418.5L1850.0 1418.0L1850.7 1415.7L1851.4 1417.4L1852.1 1419.8L1852.8 1415.9L1853.5 1417.5L1854.2 1416.3L1854.9 1416.1L1855.6 1417.5L1856.3 1418.3L1857.0 1418.1L1857.7 1417.8L1858.4 1418.4L1859.1 1415.3L1859.8 1418.2L1860.5 1417.7L1861.2 1417.0L1861.9 1417.2L1862.6 1416.2L1863.3 1418.6L1864.0 1416.3L1864.7 1415.4L1865.4 1417.2L1866.1 1416.5L1866.8 1417.1L1867.5 1419.0L1868.2 1417.1L1868.9 1417.4L1869.6 1419.9L1870.3 1415.5L1871.0 1417.7L1871.7 1418.6L1872.4 1419.0L1873.1 1419.9L1873.8 1416.4L1874.5 1418.0L1875.2 1417.1L1875.9 1416.7L1876.6 1416.4L1877.3 1415.5L1878.0 1417.6L1878.7 1418.1L1879.4 1416.0L1880.1 1418.2L1880.8 1412.6L1881.5 1416.0L1882.2 1414.1L1882.9 1418.6L1883.6 1418.1L1884.3 1416.9L1885.0 1416.8L1885.7 1415.7L1886.4 1417.9L1887.1 1417.2L1887.8 1417.9L1888.5 1417.5L1889.2 1415.6L1889.9 1415.4L1890.6 1417.8L1891.3 1415.2L1892.0 1417.6L1892.7 1418.4L1893.4 1415.7L1894.1 1418.1L1894.8 1417.3L1895.5 1417.9L1896.2 1416.5L1896.9 1417.3L1897.6 1417.8L1898.3 1419.5L1899.0 1416.2L1899.7 1417.9L1900.4 1415.8L1901.1 1417.7L1901.8 1416.5L1902.5 1417.3L1903.2 1417.7L1903.9 1418.5L1904.6 1418.1L1905.3 1417.6L1906.0 1417.3L1906.7 1419.0L1907.4 1416.3L1908.1 1417.4L1908.8 1419.0L1909.5 1417.1L1910.2 1418.4L1910.9 1418.4L1911.6 1419.8L1912.3 1418.7L1913.0 1415.4L1913.7 1417.4L1914.4 1417.7L1915.1 1418.4L1915.8 1417.8L1916.5 1419.6L1917.2 1418.7L1917.9 1415.9L1918.6 1416.6L1919.3 1414.8L1920.0 1419.4L1920.7 1417.2L1921.4 1417.2L1922.1 1415.4L1922.8 1416.8L1923.5 1417.8L1924.2 1416.8L1924.9 1416.8L1925.6 1416.5L1926.3 1419.7L1927.0 1416.6L1927.7 1415.5L1928.4 1416.6L1929.1 1416.8L1929.8 1417.1L1930.5 1416.9L1931.2 1415.9L1931.9 1417.0L1932.6 1417.7L1933.3 1415.5L1934.0 1419.6L1934.7 1419.3L1935.4 1415.0L1936.1 1416.8L1936.8 1418.4L1937.5 1418.8L1938.2 1419.4L1938.9 1415.0L1939.6 1415.8L1940.3 1416.6L1941.0 1417.9L1941.7 1415.9L1942.4 1417.7L1943.1 1417.8L1943.8 1418.1L1944.5 1415.6L1945.2 1417.5L1945.9 1417.3L1946.6 1416.7L1947.3 1418.8L1948.0 1416.9L1948.7 1419.0L1949.4 1416.5L1950.1 1419.3L1950.8 1419.3L1951.5 1416.3L1952.2 1417.7L1952.9 1416.7L1953.6 1416.1L1954.3 1418.2L1955.0 1418.0L1955.7 1416.2L1956.4 1417.4L1957.1 1418.4L1957.8 1417.1L1958.5 1416.4L1959.2 1419.3L1959.9 1416.1L1960.6 1417.7L1961.3 1418.7L1962.0 1418.3L1962.7 1415.1L1963.4 1417.0L1964.1 1417.2L1964.8 1417.1L1965.5 1418.1L1966.2 1418.0L1966.9 1415.0L1967.6 1417.7L1968.3 1418.6L1969.0 1418.9L1969.7 1415.1L1970.4 1420.1L1971.1 1416.7L1971.8 1418.4L1972.5 1411.6L1973.2 1416.8L1973.9 1415.9L1974.6 1418.7L1975.3 1418.5L1976.0 1417.4L1976.7 1417.2L1977.4 1417.8L1978.1 1416.3L1978.8 1416.7L1979.5 1416.5L1980.2 1418.4L1980.9 1417.5L1981.6 1415.9L1982.3 1417.8L1983.0 1418.1L1983.7 1419.1L1984.4 1416.7L1985.1 1417.9L1985.8 1420.0L1986.5 1417.0L1987.2 1417.0L1987.9 1418.0L1988.6 1416.8L1989.3 1417.4L1990.0 1416.8L1990.7 1416.5L1991.4 1418.5L1992.1 1417.0L1992.8 1412.6L1993.5 1417.1L1994.2 1417.2L1994.9 1417.8L1995.6 1418.6L1996.3 1419.6L1997.0 1415.9L1997.7 1417.1L1998.4 1415.2L1999.1 1417.7L1999.8 1418.0L2000.5 1416.6L2001.2 1416.3L2001.9 1416.2L2002.6 1415.6L2003.3 1418.2L2004.0 1419.7L2004.7 1416.0L2005.4 1419.4L2006.1 1417.2L2006.8 1415.7L2007.5 1418.1L2008.2 1418.3L2008.9 1417.8L2009.6 1417.0L2010.3 1419.4L2011.0 1417.0L2011.7 1418.1L2012.4 1418.1L2013.1 1416.3L2013.8 1413.4L2014.5 1415.2L2015.2 1416.9L2015.9 1417.8L2016.6 1415.2L2017.3 1416.5L2018.0 1419.2L2018.7 1415.1L2019.4 1417.9L2020.1 1417.8L2020.8 1418.3L2021.5 1415.5L2022.2 1417.7L2022.9 1415.6L2023.6 1418.9L2024.3 1416.3L2025.0 1417.8L2025.7 1416.3L2026.4 1417.5L2027.1 1415.4L2027.8 1417.7L2028.5 1418.0L2029.2 1417.3L2029.9 1419.3L2030.6 1415.2L2031.3 1418.3L2032.0 1417.9L2032.7 1419.6L2033.4 1414.7L2034.1 1417.0L2034.8 1417.0L2035.5 1418.1L2036.2 1417.6L2036.9 1418.3L2037.6 1417.7L2038.3 1416.7L2039.0 1417.2L2039.7 1417.8L2040.4 1414.5L2041.1 1419.0L2041.8 1416.6L2042.5 1416.9L2043.2 1417.6L2043.9 1417.0L2044.6 1415.5L2045.3 1417.0L2046.0 1419.0L2046.7 1418.6L2047.4 1418.8L2048.1 1416.7L2048.8 1417.1L2049.5 1418.6L2050.2 1419.1L2050.9 1417.4L2051.6 1416.2L2052.3 1415.0L2053.0 1419.1L2053.7 1415.5L2054.4 1417.9L2055.1 1418.4L2055.8 1421.3L2056.5 1417.6L2057.2 1417.2L2057.9 1417.9L2058.6 1418.0L2059.3 1419.0L2060.0 1418.2L2060.7 1416.4L2061.4 1414.8L2062.1 1417.7L2062.8 1416.5L2063.5 1419.1L2064.2 1415.7L2064.9 1417.6L2065.6 1416.4L2066.3 1416.3L2067.0 1419.4L2067.7 1417.5L2068.4 1417.1L2069.1 1418.2L2069.8 1416.4L2070.5 1416.9L2071.2 1416.5L2071.9 1419.8L2072.6 1417.7L2073.3 1418.1L2074.0 1418.7L2074.7 1417.1L2075.4 1417.1L2076.1 1415.3L2076.8 1417.9L2077.5 1417.6L2078.2 1416.8L2078.9 1418.8L2079.6 1415.1L2080.3 1417.8L2081.0 1415.5L2081.7 1414.7L2082.4 1417.0L2083.1 1418.9L2083.8 1415.8L2084.5 1416.0L2085.2 1414.1L2085.9 1419.7L2086.6 1417.8L2087.3 1417.7L2088.0 1419.7L2088.7 1417.5L2089.4 1414.5L2090.1 1416.5L2090.8 1415.7L2091.5 1419.6L2092.2 1415.4L2092.9 1417.5L2093.6 1416.5L2094.3 1416.5L2095.0 1417.1L2095.7 1416.9L2096.4 1416.2L2097.1 1415.5L2097.8 1416.2L2098.5 1415.7L2099.2 1415.8L2099.9 1417.1L2100.6 1416.7L2101.3 1417.5L2102.0 1416.6L2102.7 1419.3L2103.4 1415.9L2104.1 1415.6L2104.8 1418.1L2105.5 1415.9L2106.2 1416.9L2106.9 1417.9L2107.6 1416.5L2108.3 1416.2L2109.0 1417.8L2109.7 1416.9L2110.4 1415.8L2111.1 1414.9L2111.8 1415.9L2112.5 1414.2L2113.2 1415.1L2113.9 1414.8L2114.6 1416.4L2115.3 1416.9L2116.0 1415.1L2116.7 1415.2L2117.4 1414.3L2118.1 1413.8L2118.8 1414.8L2119.5 1414.3L2120.2 1415.5L2120.9 1415.5L2121.6 1414.2L2122.3 1410.9L2123.0 1415.1L2123.7 1415.3L2124.4 1414.5L2125.1 1414.1L2125.8 1410.4L2126.5 1415.6L2127.2 1412.2L2127.9 1413.3L2128.6 1411.9L2129.3 1411.2L2130.0 1409.6L2130.7 1408.8L2131.4 1403.3L2132.1 1408.8L2132.8 1407.1L2133.5 1405.4L2134.2 1405.4L2134.9 1404.3L2135.6 1407.3L2136.3 1404.5L2137.0 1404.6L2137.7 1402.6L2138.4 1402.5L2139.1 1405.0L2139.8 1403.3L2140.5 1403.9L2141.2 1406.0L2141.9 1406.5L2142.6 1405.1L2143.3 1405.2L2144.0 1405.3L2144.7 1405.2L2145.4 1408.6L2146.1 1405.1L2146.8 1407.1L2147.5 1402.2L2148.2 1406.8L2148.9 1409.4L2149.6 1410.1L2150.3 1410.5L2151.0 1406.9L2151.7 1410.2L2152.4 1410.9L2153.1 1411.5L2153.8 1413.8L2154.5 1414.7L2155.2 1413.8L2155.9 1412.9L2156.6 1412.7L2157.3 1414.5L2158.0 1414.1L2158.7 1412.4L2159.4 1416.6L2160.1 1415.1L2160.8 1414.9L2161.5 1414.4L2162.2 1414.5L2162.9 1416.9L2163.6 1414.7L2164.3 1416.1L2165.0 1416.9L2165.7 1418.5L2166.4 1417.0L2167.1 1416.3L2167.8 1415.8L2168.5 1417.5L2169.2 1417.8L2169.9 1416.0L2170.6 1417.3L2171.3 1416.5L2172.0 1414.7L2172.7 1415.5L2173.4 1417.8L2174.1 1418.6L2174.8 1417.7L2175.5 1416.6L2176.2 1416.0L2176.9 1417.6L2177.6 1417.3L2178.3 1414.9L2179.0 1417.8L2179.7 1416.1L2180.4 1417.9L2181.1 1417.7L2181.8 1418.0" fill="none" stroke="#00f" stroke-width="2.8" stroke-linejoin="round"/>
<line x1="1293.8" y1="446.3" x2="1293.5" y2="1491.6" stroke="#0f0" stroke-width="4.4" stroke-dasharray="22.8 15.03"/>
<line x1="1744.5" y1="449.2" x2="1742.0" y2="1491.6" stroke="#0f0" stroke-width="4.4" stroke-dasharray="22.8 15.03"/>
<line x1="2166.1" y1="449.6" x2="2165.7" y2="1491.6" stroke="#0f0" stroke-width="4.4" stroke-dasharray="22.8 15.03"/>
<g fill="#000"><path transform="translate(769.2 269.5)" d="M0 11.4C-1 5-5 0-11.5 0C-17.5 0-20.8 5-20.8 11.6C-20.8 15-19.8 17.5-18.5 20C-15 27-6 38 0 45.1C6 38 15 27 18.5 20C19.8 17.5 20.8 15 20.8 11.6C20.8 5 17.5 0 11.5 0C5 0 1 5 0 11.4Z"/><path transform="translate(738.0 488.3)" d="M0 0C-5.6 0-10 4.2-10 9.4C-10 13.2-8 15.8-5.4 17.6L-4.6 19.2C-6.6 18.2-8.6 17.6-10.6 17.6C-17.4 17.6-23 22.6-23 29C-23 35.4-18 40.2-11.6 40.2C-7.6 40.2-4.8 38.2-2.6 34.8L-2.4 44.6L-4.8 48L4.8 48L2.4 44.6L2.6 34.8C4.8 38.2 7.6 40.2 11.6 40.2C18 40.2 23 35.4 23 29C23 22.6 17.4 17.6 10.6 17.6C8.6 17.6 6.6 18.2 4.6 19.2L5.4 17.6C8 15.8 10 13.2 10 9.4C10 4.2 5.6 0 0 0Z"/><path transform="translate(920.8 545.2)" d="M0 0C-5.6 0-10 4.2-10 9.4C-10 13.2-8 15.8-5.4 17.6L-4.6 19.2C-6.6 18.2-8.6 17.6-10.6 17.6C-17.4 17.6-23 22.6-23 29C-23 35.4-18 40.2-11.6 40.2C-7.6 40.2-4.8 38.2-2.6 34.8L-2.4 44.6L-4.8 48L4.8 48L2.4 44.6L2.6 34.8C4.8 38.2 7.6 40.2 11.6 40.2C18 40.2 23 35.4 23 29C23 22.6 17.4 17.6 10.6 17.6C8.6 17.6 6.6 18.2 4.6 19.2L5.4 17.6C8 15.8 10 13.2 10 9.4C10 4.2 5.6 0 0 0Z"/><path transform="translate(1295.0 522.0)" d="M0 11.4C-1 5-5 0-11.5 0C-17.5 0-20.8 5-20.8 11.6C-20.8 15-19.8 17.5-18.5 20C-15 27-6 38 0 45.1C6 38 15 27 18.5 20C19.8 17.5 20.8 15 20.8 11.6C20.8 5 17.5 0 11.5 0C5 0 1 5 0 11.4Z"/><path transform="translate(1530.7 543.8)" d="M0 0C-5.6 0-10 4.2-10 9.4C-10 13.2-8 15.8-5.4 17.6L-4.6 19.2C-6.6 18.2-8.6 17.6-10.6 17.6C-17.4 17.6-23 22.6-23 29C-23 35.4-18 40.2-11.6 40.2C-7.6 40.2-4.8 38.2-2.6 34.8L-2.4 44.6L-4.8 48L4.8 48L2.4 44.6L2.6 34.8C4.8 38.2 7.6 40.2 11.6 40.2C18 40.2 23 35.4 23 29C23 22.6 17.4 17.6 10.6 17.6C8.6 17.6 6.6 18.2 4.6 19.2L5.4 17.6C8 15.8 10 13.2 10 9.4C10 4.2 5.6 0 0 0Z"/><path transform="translate(1746.4 534.8)" d="M0 11.4C-1 5-5 0-11.5 0C-17.5 0-20.8 5-20.8 11.6C-20.8 15-19.8 17.5-18.5 20C-15 27-6 38 0 45.1C6 38 15 27 18.5 20C19.8 17.5 20.8 15 20.8 11.6C20.8 5 17.5 0 11.5 0C5 0 1 5 0 11.4Z"/><path transform="translate(1938.0 543.8)" d="M0 0C-5.6 0-10 4.2-10 9.4C-10 13.2-8 15.8-5.4 17.6L-4.6 19.2C-6.6 18.2-8.6 17.6-10.6 17.6C-17.4 17.6-23 22.6-23 29C-23 35.4-18 40.2-11.6 40.2C-7.6 40.2-4.8 38.2-2.6 34.8L-2.4 44.6L-4.8 48L4.8 48L2.4 44.6L2.6 34.8C4.8 38.2 7.6 40.2 11.6 40.2C18 40.2 23 35.4 23 29C23 22.6 17.4 17.6 10.6 17.6C8.6 17.6 6.6 18.2 4.6 19.2L5.4 17.6C8 15.8 10 13.2 10 9.4C10 4.2 5.6 0 0 0Z"/><path transform="translate(2163.5 555.9)" d="M0 11.4C-1 5-5 0-11.5 0C-17.5 0-20.8 5-20.8 11.6C-20.8 15-19.8 17.5-18.5 20C-15 27-6 38 0 45.1C6 38 15 27 18.5 20C19.8 17.5 20.8 15 20.8 11.6C20.8 5 17.5 0 11.5 0C5 0 1 5 0 11.4Z"/><path transform="translate(512.5 969.2)" d="M0 0L-17.6 25.4C-19.8 28.6-21 31.2-21 34.6C-21 39.2-17.6 42.2-13.4 42.2C-9.4 42.2-7 39.6-5.4 35.8C-4.8 34.3-4 33-2.8 32.6L-2.8 44.2L-4.8 47.6L4.8 47.6L2.8 44.2L2.8 32.6C4 33 4.8 34.3 5.4 35.8C7 39.6 9.4 42.2 13.4 42.2C17.6 42.2 21 39.2 21 34.6C21 31.2 19.8 28.6 17.6 25.4Z"/><path transform="translate(659.7 978.0)" d="M0 0L-17.6 25.4C-19.8 28.6-21 31.2-21 34.6C-21 39.2-17.6 42.2-13.4 42.2C-9.4 42.2-7 39.6-5.4 35.8C-4.8 34.3-4 33-2.8 32.6L-2.8 44.2L-4.8 47.6L4.8 47.6L2.8 44.2L2.8 32.6C4 33 4.8 34.3 5.4 35.8C7 39.6 9.4 42.2 13.4 42.2C17.6 42.2 21 39.2 21 34.6C21 31.2 19.8 28.6 17.6 25.4Z"/><path transform="translate(751.8 764.0)" d="M0 11.4C-1 5-5 0-11.5 0C-17.5 0-20.8 5-20.8 11.6C-20.8 15-19.8 17.5-18.5 20C-15 27-6 38 0 45.1C6 38 15 27 18.5 20C19.8 17.5 20.8 15 20.8 11.6C20.8 5 17.5 0 11.5 0C5 0 1 5 0 11.4Z"/><path transform="translate(1129.2 984.7)" d="M0 0L-17.6 25.4C-19.8 28.6-21 31.2-21 34.6C-21 39.2-17.6 42.2-13.4 42.2C-9.4 42.2-7 39.6-5.4 35.8C-4.8 34.3-4 33-2.8 32.6L-2.8 44.2L-4.8 47.6L4.8 47.6L2.8 44.2L2.8 32.6C4 33 4.8 34.3 5.4 35.8C7 39.6 9.4 42.2 13.4 42.2C17.6 42.2 21 39.2 21 34.6C21 31.2 19.8 28.6 17.6 25.4Z"/><path transform="translate(1272.6 968.2)" d="M0 11.4C-1 5-5 0-11.5 0C-17.5 0-20.8 5-20.8 11.6C-20.8 15-19.8 17.5-18.5 20C-15 27-6 38 0 45.1C6 38 15 27 18.5 20C19.8 17.5 20.8 15 20.8 11.6C20.8 5 17.5 0 11.5 0C5 0 1 5 0 11.4Z"/><path transform="translate(1718.9 934.7)" d="M0 11.4C-1 5-5 0-11.5 0C-17.5 0-20.8 5-20.8 11.6C-20.8 15-19.8 17.5-18.5 20C-15 27-6 38 0 45.1C6 38 15 27 18.5 20C19.8 17.5 20.8 15 20.8 11.6C20.8 5 17.5 0 11.5 0C5 0 1 5 0 11.4Z"/><path transform="translate(2143.6 989.3)" d="M0 11.4C-1 5-5 0-11.5 0C-17.5 0-20.8 5-20.8 11.6C-20.8 15-19.8 17.5-18.5 20C-15 27-6 38 0 45.1C6 38 15 27 18.5 20C19.8 17.5 20.8 15 20.8 11.6C20.8 5 17.5 0 11.5 0C5 0 1 5 0 11.4Z"/><path transform="translate(507.3 1297.3)" d="M0 0L-17.6 25.4C-19.8 28.6-21 31.2-21 34.6C-21 39.2-17.6 42.2-13.4 42.2C-9.4 42.2-7 39.6-5.4 35.8C-4.8 34.3-4 33-2.8 32.6L-2.8 44.2L-4.8 47.6L4.8 47.6L2.8 44.2L2.8 32.6C4 33 4.8 34.3 5.4 35.8C7 39.6 9.4 42.2 13.4 42.2C17.6 42.2 21 39.2 21 34.6C21 31.2 19.8 28.6 17.6 25.4Z"/><path transform="translate(655.6 1308.0)" d="M0 0L-17.6 25.4C-19.8 28.6-21 31.2-21 34.6C-21 39.2-17.6 42.2-13.4 42.2C-9.4 42.2-7 39.6-5.4 35.8C-4.8 34.3-4 33-2.8 32.6L-2.8 44.2L-4.8 47.6L4.8 47.6L2.8 44.2L2.8 32.6C4 33 4.8 34.3 5.4 35.8C7 39.6 9.4 42.2 13.4 42.2C17.6 42.2 21 39.2 21 34.6C21 31.2 19.8 28.6 17.6 25.4Z"/><path transform="translate(749.5 1086.0)" d="M0 11.4C-1 5-5 0-11.5 0C-17.5 0-20.8 5-20.8 11.6C-20.8 15-19.8 17.5-18.5 20C-15 27-6 38 0 45.1C6 38 15 27 18.5 20C19.8 17.5 20.8 15 20.8 11.6C20.8 5 17.5 0 11.5 0C5 0 1 5 0 11.4Z"/><path transform="translate(1123.3 1329.3)" d="M0 0L-17.6 25.4C-19.8 28.6-21 31.2-21 34.6C-21 39.2-17.6 42.2-13.4 42.2C-9.4 42.2-7 39.6-5.4 35.8C-4.8 34.3-4 33-2.8 32.6L-2.8 44.2L-4.8 47.6L4.8 47.6L2.8 44.2L2.8 32.6C4 33 4.8 34.3 5.4 35.8C7 39.6 9.4 42.2 13.4 42.2C17.6 42.2 21 39.2 21 34.6C21 31.2 19.8 28.6 17.6 25.4Z"/><path transform="translate(1270.8 1311.9)" d="M0 11.4C-1 5-5 0-11.5 0C-17.5 0-20.8 5-20.8 11.6C-20.8 15-19.8 17.5-18.5 20C-15 27-6 38 0 45.1C6 38 15 27 18.5 20C19.8 17.5 20.8 15 20.8 11.6C20.8 5 17.5 0 11.5 0C5 0 1 5 0 11.4Z"/><path transform="translate(1713.0 1303.8)" d="M0 11.4C-1 5-5 0-11.5 0C-17.5 0-20.8 5-20.8 11.6C-20.8 15-19.8 17.5-18.5 20C-15 27-6 38 0 45.1C6 38 15 27 18.5 20C19.8 17.5 20.8 15 20.8 11.6C20.8 5 17.5 0 11.5 0C5 0 1 5 0 11.4Z"/><path transform="translate(2140.5 1333.1)" d="M0 11.4C-1 5-5 0-11.5 0C-17.5 0-20.8 5-20.8 11.6C-20.8 15-19.8 17.5-18.5 20C-15 27-6 38 0 45.1C6 38 15 27 18.5 20C19.8 17.5 20.8 15 20.8 11.6C20.8 5 17.5 0 11.5 0C5 0 1 5 0 11.4Z"/><path transform="translate(1774.5 99.6)" d="M0 0C-5.6 0-10 4.2-10 9.4C-10 13.2-8 15.8-5.4 17.6L-4.6 19.2C-6.6 18.2-8.6 17.6-10.6 17.6C-17.4 17.6-23 22.6-23 29C-23 35.4-18 40.2-11.6 40.2C-7.6 40.2-4.8 38.2-2.6 34.8L-2.4 44.6L-4.8 48L4.8 48L2.4 44.6L2.6 34.8C4.8 38.2 7.6 40.2 11.6 40.2C18 40.2 23 35.4 23 29C23 22.6 17.4 17.6 10.6 17.6C8.6 17.6 6.6 18.2 4.6 19.2L5.4 17.6C8 15.8 10 13.2 10 9.4C10 4.2 5.6 0 0 0Z"/><path transform="translate(1774.6 194.4)" d="M0 11.4C-1 5-5 0-11.5 0C-17.5 0-20.8 5-20.8 11.6C-20.8 15-19.8 17.5-18.5 20C-15 27-6 38 0 45.1C6 38 15 27 18.5 20C19.8 17.5 20.8 15 20.8 11.6C20.8 5 17.5 0 11.5 0C5 0 1 5 0 11.4Z"/><path transform="translate(1774.2 283.5)" d="M0 0L-17.6 25.4C-19.8 28.6-21 31.2-21 34.6C-21 39.2-17.6 42.2-13.4 42.2C-9.4 42.2-7 39.6-5.4 35.8C-4.8 34.3-4 33-2.8 32.6L-2.8 44.2L-4.8 47.6L4.8 47.6L2.8 44.2L2.8 32.6C4 33 4.8 34.3 5.4 35.8C7 39.6 9.4 42.2 13.4 42.2C17.6 42.2 21 39.2 21 34.6C21 31.2 19.8 28.6 17.6 25.4Z"/></g>
<line x1="767.3" y1="220.0" x2="769.0" y2="1491.6" stroke="#0f0" stroke-width="4.4" stroke-dasharray="22.8 15.03"/>
<rect x="122.1" y="31.6" width="2062.7" height="1520.3" fill="none" stroke="#000" stroke-width="6" stroke-linejoin="round"/>
<line x1="637.9" y1="1518.6" x2="637.9" y2="1551" stroke="#000" stroke-width="5.8"/>
<line x1="1153.2" y1="1518.6" x2="1153.2" y2="1551" stroke="#000" stroke-width="5.8"/>
<line x1="1669.1" y1="1518.6" x2="1669.1" y2="1551" stroke="#000" stroke-width="5.8"/>
<text x="120.7" y="1637.4" text-anchor="middle" style="font-family:'Liberation Sans',Arial,sans-serif;font-size:70px">20</text>
<text x="635.8" y="1637.4" text-anchor="middle" style="font-family:'Liberation Sans',Arial,sans-serif;font-size:70px">40</text>
<text x="1152.9" y="1637.4" text-anchor="middle" style="font-family:'Liberation Sans',Arial,sans-serif;font-size:70px">60</text>
<text x="1667.5" y="1637.4" text-anchor="middle" style="font-family:'Liberation Sans',Arial,sans-serif;font-size:70px">80</text>
<text x="2186.5" y="1637.4" text-anchor="middle" style="font-family:'Liberation Sans',Arial,sans-serif;font-size:70px">100</text>
<text x="1073.8" y="1726" style="font-family:'Liberation Serif','Times New Roman',serif;font-size:83px;letter-spacing:0.7px">2θ/(°)</text>
<text transform="translate(67.5 1004.3) rotate(-90)" style="font-family:'Liberation Serif','Times New Roman',serif;font-size:83px">Intensity/a.u.</text>
<text x="134.5" y="608.5" style="font-family:'Liberation Serif','Times New Roman',serif;font-size:67px">Coating I</text>
<text x="149.4" y="1025.5" fill="#f00" style="font-family:'Liberation Serif','Times New Roman',serif;font-size:67px">Coating II</text>
<text x="136.6" y="1387.2" fill="#00f" style="font-family:'Liberation Serif','Times New Roman',serif;font-size:66.7px">Coating III</text>
<text x="1806" y="146.4" style="font-family:'Liberation Serif','Times New Roman',serif;font-size:83px">MC</text>
<text x="1806" y="238.8" style="font-family:'Liberation Serif','Times New Roman',serif;font-size:83px">BCC</text>
<text x="1806" y="330.5" style="font-family:'Liberation Serif','Times New Roman',serif;font-size:83px;font-kerning:none">TaC</text>
</svg>
</body></html>
